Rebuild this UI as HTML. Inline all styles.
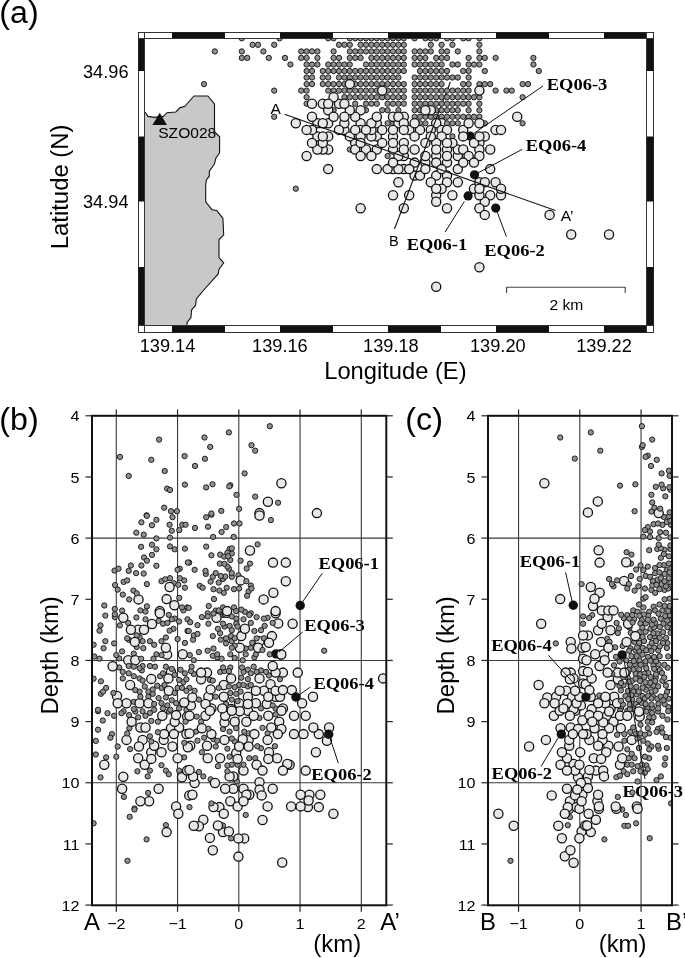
<!DOCTYPE html>
<html><head><meta charset="utf-8"><style>
html,body{margin:0;padding:0;background:#fff;}
body{width:685px;height:958px;overflow:hidden;font-family:"Liberation Sans",sans-serif;}
svg{display:block;will-change:transform;}
</style></head><body>
<svg width="685" height="958" viewBox="0 0 685 958" fill="#000">
<defs>
<clipPath id="clipa"><rect x="145" y="39" width="502" height="287"/></clipPath>
<clipPath id="clipb"><rect x="92" y="415.8" width="294.3" height="489.5"/></clipPath>
<clipPath id="clipc"><rect x="488" y="415.8" width="184" height="489.5"/></clipPath>
</defs>
<text transform="translate(-0.7,23) scale(1.04,1)" font-size="31" text-anchor="start" font-family="Liberation Sans, sans-serif" >(a)</text>
<polygon points="145,112 148,116.4 153.9,117.4 163.4,116.4 167,112.7 175.8,112 180.1,107.6 184.5,106.6 188.2,102.5 194,96 207.9,96 214.5,104 214.5,131.7 219.6,136.8 219.6,152.9 215.9,158 214.5,163.8 211.5,168.2 209.3,171.1 209.3,176.2 206.4,179.9 205.7,185 205.7,201.9 212,209.7 216.7,210.5 222.9,218.3 223.7,234.8 219,239.5 219,257.5 223.7,262.9 219,269.2 218.2,273.9 204.2,289.5 196.3,298.9 195.6,305.2 191.6,309.9 190.9,317.7 187,322.4 187,326 145,326" fill="#c8c8c8" stroke="none"/>
<polyline points="145,112 148,116.4 153.9,117.4 163.4,116.4 167,112.7 175.8,112 180.1,107.6 184.5,106.6 188.2,102.5 194,96 207.9,96 214.5,104 214.5,131.7 219.6,136.8 219.6,152.9 215.9,158 214.5,163.8 211.5,168.2 209.3,171.1 209.3,176.2 206.4,179.9 205.7,185 205.7,201.9 212,209.7 216.7,210.5 222.9,218.3 223.7,234.8 219,239.5 219,257.5 223.7,262.9 219,269.2 218.2,273.9 204.2,289.5 196.3,298.9 195.6,305.2 191.6,309.9 190.9,317.7 187,322.4 187,326" fill="none" stroke="#111" stroke-width="1.1"/>
<line x1="439" y1="111.5" x2="450.4" y2="81.7" stroke="#111" stroke-width="1.1"/>
<circle cx="470.2" cy="136.2" r="4.6" fill="#111"/>
<g clip-path="url(#clipa)">
<circle cx="312.0" cy="71.0" r="2.65" fill="#909090" stroke="#1e1e1e" stroke-width="1.0"/>
<circle cx="382.2" cy="97.2" r="2.65" fill="#909090" stroke="#1e1e1e" stroke-width="1.0"/>
<circle cx="339.0" cy="64.5" r="2.65" fill="#909090" stroke="#1e1e1e" stroke-width="1.0"/>
<circle cx="387.6" cy="110.2" r="2.65" fill="#909090" stroke="#1e1e1e" stroke-width="1.0"/>
<circle cx="376.8" cy="90.6" r="2.65" fill="#909090" stroke="#1e1e1e" stroke-width="1.0"/>
<circle cx="452.4" cy="136.4" r="2.65" fill="#909090" stroke="#1e1e1e" stroke-width="1.0"/>
<circle cx="479.4" cy="116.8" r="2.65" fill="#909090" stroke="#1e1e1e" stroke-width="1.0"/>
<circle cx="366.0" cy="97.2" r="2.65" fill="#909090" stroke="#1e1e1e" stroke-width="1.0"/>
<circle cx="463.2" cy="116.8" r="2.65" fill="#909090" stroke="#1e1e1e" stroke-width="1.0"/>
<circle cx="414.6" cy="110.2" r="2.65" fill="#909090" stroke="#1e1e1e" stroke-width="1.0"/>
<circle cx="339.0" cy="57.9" r="2.65" fill="#909090" stroke="#1e1e1e" stroke-width="1.0"/>
<circle cx="447.0" cy="71.0" r="2.65" fill="#909090" stroke="#1e1e1e" stroke-width="1.0"/>
<circle cx="339.0" cy="71.0" r="2.65" fill="#909090" stroke="#1e1e1e" stroke-width="1.0"/>
<circle cx="306.6" cy="77.5" r="2.65" fill="#909090" stroke="#1e1e1e" stroke-width="1.0"/>
<circle cx="452.4" cy="77.5" r="2.65" fill="#909090" stroke="#1e1e1e" stroke-width="1.0"/>
<circle cx="447.0" cy="77.5" r="2.65" fill="#909090" stroke="#1e1e1e" stroke-width="1.0"/>
<circle cx="371.4" cy="38.3" r="2.65" fill="#909090" stroke="#1e1e1e" stroke-width="1.0"/>
<circle cx="382.2" cy="51.4" r="2.65" fill="#909090" stroke="#1e1e1e" stroke-width="1.0"/>
<circle cx="463.2" cy="38.3" r="2.65" fill="#909090" stroke="#1e1e1e" stroke-width="1.0"/>
<circle cx="306.6" cy="71.0" r="2.65" fill="#909090" stroke="#1e1e1e" stroke-width="1.0"/>
<circle cx="398.4" cy="64.5" r="2.65" fill="#909090" stroke="#1e1e1e" stroke-width="1.0"/>
<circle cx="349.8" cy="149.5" r="2.65" fill="#909090" stroke="#1e1e1e" stroke-width="1.0"/>
<circle cx="360.6" cy="38.3" r="2.65" fill="#909090" stroke="#1e1e1e" stroke-width="1.0"/>
<circle cx="371.4" cy="57.9" r="2.65" fill="#909090" stroke="#1e1e1e" stroke-width="1.0"/>
<circle cx="382.2" cy="44.8" r="2.65" fill="#909090" stroke="#1e1e1e" stroke-width="1.0"/>
<circle cx="241.8" cy="57.9" r="2.65" fill="#909090" stroke="#1e1e1e" stroke-width="1.0"/>
<circle cx="457.8" cy="64.5" r="2.65" fill="#909090" stroke="#1e1e1e" stroke-width="1.0"/>
<circle cx="376.8" cy="44.8" r="2.65" fill="#909090" stroke="#1e1e1e" stroke-width="1.0"/>
<circle cx="468.6" cy="64.5" r="2.65" fill="#909090" stroke="#1e1e1e" stroke-width="1.0"/>
<circle cx="382.2" cy="38.3" r="2.65" fill="#909090" stroke="#1e1e1e" stroke-width="1.0"/>
<circle cx="522.6" cy="123.3" r="2.65" fill="#909090" stroke="#1e1e1e" stroke-width="1.0"/>
<circle cx="333.6" cy="38.3" r="2.65" fill="#909090" stroke="#1e1e1e" stroke-width="1.0"/>
<circle cx="436.2" cy="103.7" r="2.65" fill="#909090" stroke="#1e1e1e" stroke-width="1.0"/>
<circle cx="447.0" cy="103.7" r="2.65" fill="#909090" stroke="#1e1e1e" stroke-width="1.0"/>
<circle cx="403.8" cy="57.9" r="2.65" fill="#909090" stroke="#1e1e1e" stroke-width="1.0"/>
<circle cx="403.8" cy="84.1" r="2.65" fill="#909090" stroke="#1e1e1e" stroke-width="1.0"/>
<circle cx="403.8" cy="71.0" r="2.65" fill="#909090" stroke="#1e1e1e" stroke-width="1.0"/>
<circle cx="387.6" cy="38.3" r="2.65" fill="#909090" stroke="#1e1e1e" stroke-width="1.0"/>
<circle cx="328.2" cy="71.0" r="2.65" fill="#909090" stroke="#1e1e1e" stroke-width="1.0"/>
<circle cx="420.0" cy="71.0" r="2.65" fill="#909090" stroke="#1e1e1e" stroke-width="1.0"/>
<circle cx="441.6" cy="64.5" r="2.65" fill="#909090" stroke="#1e1e1e" stroke-width="1.0"/>
<circle cx="436.2" cy="97.2" r="2.65" fill="#909090" stroke="#1e1e1e" stroke-width="1.0"/>
<circle cx="360.6" cy="57.9" r="2.65" fill="#909090" stroke="#1e1e1e" stroke-width="1.0"/>
<circle cx="258.0" cy="44.8" r="2.65" fill="#909090" stroke="#1e1e1e" stroke-width="1.0"/>
<circle cx="355.2" cy="51.4" r="2.65" fill="#909090" stroke="#1e1e1e" stroke-width="1.0"/>
<circle cx="425.4" cy="103.7" r="2.65" fill="#909090" stroke="#1e1e1e" stroke-width="1.0"/>
<circle cx="376.8" cy="71.0" r="2.65" fill="#909090" stroke="#1e1e1e" stroke-width="1.0"/>
<circle cx="403.8" cy="38.3" r="2.65" fill="#909090" stroke="#1e1e1e" stroke-width="1.0"/>
<circle cx="301.2" cy="90.6" r="2.65" fill="#909090" stroke="#1e1e1e" stroke-width="1.0"/>
<circle cx="382.2" cy="57.9" r="2.65" fill="#909090" stroke="#1e1e1e" stroke-width="1.0"/>
<circle cx="371.4" cy="90.6" r="2.65" fill="#909090" stroke="#1e1e1e" stroke-width="1.0"/>
<circle cx="463.2" cy="90.6" r="2.65" fill="#909090" stroke="#1e1e1e" stroke-width="1.0"/>
<circle cx="420.0" cy="103.7" r="2.65" fill="#909090" stroke="#1e1e1e" stroke-width="1.0"/>
<circle cx="252.6" cy="44.8" r="2.65" fill="#909090" stroke="#1e1e1e" stroke-width="1.0"/>
<circle cx="339.0" cy="90.6" r="2.65" fill="#909090" stroke="#1e1e1e" stroke-width="1.0"/>
<circle cx="484.8" cy="71.0" r="2.65" fill="#909090" stroke="#1e1e1e" stroke-width="1.0"/>
<circle cx="355.2" cy="71.0" r="2.65" fill="#909090" stroke="#1e1e1e" stroke-width="1.0"/>
<circle cx="457.8" cy="123.3" r="2.65" fill="#909090" stroke="#1e1e1e" stroke-width="1.0"/>
<circle cx="279.6" cy="38.3" r="2.65" fill="#909090" stroke="#1e1e1e" stroke-width="1.0"/>
<circle cx="533.4" cy="57.9" r="2.65" fill="#909090" stroke="#1e1e1e" stroke-width="1.0"/>
<circle cx="306.6" cy="90.6" r="2.65" fill="#909090" stroke="#1e1e1e" stroke-width="1.0"/>
<circle cx="322.8" cy="71.0" r="2.65" fill="#909090" stroke="#1e1e1e" stroke-width="1.0"/>
<circle cx="371.4" cy="51.4" r="2.65" fill="#909090" stroke="#1e1e1e" stroke-width="1.0"/>
<circle cx="468.6" cy="103.7" r="2.65" fill="#909090" stroke="#1e1e1e" stroke-width="1.0"/>
<circle cx="441.6" cy="71.0" r="2.65" fill="#909090" stroke="#1e1e1e" stroke-width="1.0"/>
<circle cx="425.4" cy="116.8" r="2.65" fill="#909090" stroke="#1e1e1e" stroke-width="1.0"/>
<circle cx="479.4" cy="64.5" r="2.65" fill="#909090" stroke="#1e1e1e" stroke-width="1.0"/>
<circle cx="355.2" cy="77.5" r="2.65" fill="#909090" stroke="#1e1e1e" stroke-width="1.0"/>
<circle cx="355.2" cy="57.9" r="2.65" fill="#909090" stroke="#1e1e1e" stroke-width="1.0"/>
<circle cx="274.2" cy="90.6" r="2.65" fill="#909090" stroke="#1e1e1e" stroke-width="1.0"/>
<circle cx="393.0" cy="97.2" r="2.65" fill="#909090" stroke="#1e1e1e" stroke-width="1.0"/>
<circle cx="290.4" cy="64.5" r="2.65" fill="#909090" stroke="#1e1e1e" stroke-width="1.0"/>
<circle cx="441.6" cy="84.1" r="2.65" fill="#909090" stroke="#1e1e1e" stroke-width="1.0"/>
<circle cx="344.4" cy="44.8" r="2.65" fill="#909090" stroke="#1e1e1e" stroke-width="1.0"/>
<circle cx="376.8" cy="97.2" r="2.65" fill="#909090" stroke="#1e1e1e" stroke-width="1.0"/>
<circle cx="447.0" cy="116.8" r="2.65" fill="#909090" stroke="#1e1e1e" stroke-width="1.0"/>
<circle cx="366.0" cy="84.1" r="2.65" fill="#909090" stroke="#1e1e1e" stroke-width="1.0"/>
<circle cx="366.0" cy="110.2" r="2.65" fill="#909090" stroke="#1e1e1e" stroke-width="1.0"/>
<circle cx="371.4" cy="84.1" r="2.65" fill="#909090" stroke="#1e1e1e" stroke-width="1.0"/>
<circle cx="387.6" cy="44.8" r="2.65" fill="#909090" stroke="#1e1e1e" stroke-width="1.0"/>
<circle cx="474.0" cy="64.5" r="2.65" fill="#909090" stroke="#1e1e1e" stroke-width="1.0"/>
<circle cx="425.4" cy="90.6" r="2.65" fill="#909090" stroke="#1e1e1e" stroke-width="1.0"/>
<circle cx="355.2" cy="84.1" r="2.65" fill="#909090" stroke="#1e1e1e" stroke-width="1.0"/>
<circle cx="382.2" cy="77.5" r="2.65" fill="#909090" stroke="#1e1e1e" stroke-width="1.0"/>
<circle cx="414.6" cy="38.3" r="2.65" fill="#909090" stroke="#1e1e1e" stroke-width="1.0"/>
<circle cx="430.8" cy="77.5" r="2.65" fill="#909090" stroke="#1e1e1e" stroke-width="1.0"/>
<circle cx="360.6" cy="84.1" r="2.65" fill="#909090" stroke="#1e1e1e" stroke-width="1.0"/>
<circle cx="306.6" cy="64.5" r="2.65" fill="#909090" stroke="#1e1e1e" stroke-width="1.0"/>
<circle cx="436.2" cy="110.2" r="2.65" fill="#909090" stroke="#1e1e1e" stroke-width="1.0"/>
<circle cx="312.0" cy="64.5" r="2.65" fill="#909090" stroke="#1e1e1e" stroke-width="1.0"/>
<circle cx="441.6" cy="90.6" r="2.65" fill="#909090" stroke="#1e1e1e" stroke-width="1.0"/>
<circle cx="441.6" cy="103.7" r="2.65" fill="#909090" stroke="#1e1e1e" stroke-width="1.0"/>
<circle cx="263.4" cy="51.4" r="2.65" fill="#909090" stroke="#1e1e1e" stroke-width="1.0"/>
<circle cx="387.6" cy="57.9" r="2.65" fill="#909090" stroke="#1e1e1e" stroke-width="1.0"/>
<circle cx="447.0" cy="97.2" r="2.65" fill="#909090" stroke="#1e1e1e" stroke-width="1.0"/>
<circle cx="430.8" cy="90.6" r="2.65" fill="#909090" stroke="#1e1e1e" stroke-width="1.0"/>
<circle cx="360.6" cy="71.0" r="2.65" fill="#909090" stroke="#1e1e1e" stroke-width="1.0"/>
<circle cx="452.4" cy="123.3" r="2.65" fill="#909090" stroke="#1e1e1e" stroke-width="1.0"/>
<circle cx="468.6" cy="77.5" r="2.65" fill="#909090" stroke="#1e1e1e" stroke-width="1.0"/>
<circle cx="452.4" cy="90.6" r="2.65" fill="#909090" stroke="#1e1e1e" stroke-width="1.0"/>
<circle cx="344.4" cy="77.5" r="2.65" fill="#909090" stroke="#1e1e1e" stroke-width="1.0"/>
<circle cx="333.6" cy="64.5" r="2.65" fill="#909090" stroke="#1e1e1e" stroke-width="1.0"/>
<circle cx="387.6" cy="156.0" r="2.65" fill="#909090" stroke="#1e1e1e" stroke-width="1.0"/>
<circle cx="398.4" cy="110.2" r="2.65" fill="#909090" stroke="#1e1e1e" stroke-width="1.0"/>
<circle cx="430.8" cy="71.0" r="2.65" fill="#909090" stroke="#1e1e1e" stroke-width="1.0"/>
<circle cx="452.4" cy="97.2" r="2.65" fill="#909090" stroke="#1e1e1e" stroke-width="1.0"/>
<circle cx="447.0" cy="57.9" r="2.65" fill="#909090" stroke="#1e1e1e" stroke-width="1.0"/>
<circle cx="457.8" cy="77.5" r="2.65" fill="#909090" stroke="#1e1e1e" stroke-width="1.0"/>
<circle cx="306.6" cy="57.9" r="2.65" fill="#909090" stroke="#1e1e1e" stroke-width="1.0"/>
<circle cx="333.6" cy="51.4" r="2.65" fill="#909090" stroke="#1e1e1e" stroke-width="1.0"/>
<circle cx="479.4" cy="38.3" r="2.65" fill="#909090" stroke="#1e1e1e" stroke-width="1.0"/>
<circle cx="436.2" cy="90.6" r="2.65" fill="#909090" stroke="#1e1e1e" stroke-width="1.0"/>
<circle cx="452.4" cy="44.8" r="2.65" fill="#909090" stroke="#1e1e1e" stroke-width="1.0"/>
<circle cx="420.0" cy="110.2" r="2.65" fill="#909090" stroke="#1e1e1e" stroke-width="1.0"/>
<circle cx="274.2" cy="44.8" r="2.65" fill="#909090" stroke="#1e1e1e" stroke-width="1.0"/>
<circle cx="414.6" cy="51.4" r="2.65" fill="#909090" stroke="#1e1e1e" stroke-width="1.0"/>
<circle cx="403.8" cy="44.8" r="2.65" fill="#909090" stroke="#1e1e1e" stroke-width="1.0"/>
<circle cx="452.4" cy="116.8" r="2.65" fill="#909090" stroke="#1e1e1e" stroke-width="1.0"/>
<circle cx="241.8" cy="38.3" r="2.65" fill="#909090" stroke="#1e1e1e" stroke-width="1.0"/>
<circle cx="414.6" cy="97.2" r="2.65" fill="#909090" stroke="#1e1e1e" stroke-width="1.0"/>
<circle cx="376.8" cy="77.5" r="2.65" fill="#909090" stroke="#1e1e1e" stroke-width="1.0"/>
<circle cx="468.6" cy="84.1" r="2.65" fill="#909090" stroke="#1e1e1e" stroke-width="1.0"/>
<circle cx="441.6" cy="116.8" r="2.65" fill="#909090" stroke="#1e1e1e" stroke-width="1.0"/>
<circle cx="533.4" cy="64.5" r="2.65" fill="#909090" stroke="#1e1e1e" stroke-width="1.0"/>
<circle cx="425.4" cy="71.0" r="2.65" fill="#909090" stroke="#1e1e1e" stroke-width="1.0"/>
<circle cx="366.0" cy="71.0" r="2.65" fill="#909090" stroke="#1e1e1e" stroke-width="1.0"/>
<circle cx="360.6" cy="90.6" r="2.65" fill="#909090" stroke="#1e1e1e" stroke-width="1.0"/>
<circle cx="495.6" cy="90.6" r="2.65" fill="#909090" stroke="#1e1e1e" stroke-width="1.0"/>
<circle cx="441.6" cy="77.5" r="2.65" fill="#909090" stroke="#1e1e1e" stroke-width="1.0"/>
<circle cx="479.4" cy="57.9" r="2.65" fill="#909090" stroke="#1e1e1e" stroke-width="1.0"/>
<circle cx="333.6" cy="71.0" r="2.65" fill="#909090" stroke="#1e1e1e" stroke-width="1.0"/>
<circle cx="371.4" cy="71.0" r="2.65" fill="#909090" stroke="#1e1e1e" stroke-width="1.0"/>
<circle cx="344.4" cy="84.1" r="2.65" fill="#909090" stroke="#1e1e1e" stroke-width="1.0"/>
<circle cx="355.2" cy="38.3" r="2.65" fill="#909090" stroke="#1e1e1e" stroke-width="1.0"/>
<circle cx="349.8" cy="77.5" r="2.65" fill="#909090" stroke="#1e1e1e" stroke-width="1.0"/>
<circle cx="349.8" cy="64.5" r="2.65" fill="#909090" stroke="#1e1e1e" stroke-width="1.0"/>
<circle cx="366.0" cy="44.8" r="2.65" fill="#909090" stroke="#1e1e1e" stroke-width="1.0"/>
<circle cx="317.4" cy="57.9" r="2.65" fill="#909090" stroke="#1e1e1e" stroke-width="1.0"/>
<circle cx="393.0" cy="57.9" r="2.65" fill="#909090" stroke="#1e1e1e" stroke-width="1.0"/>
<circle cx="430.8" cy="64.5" r="2.65" fill="#909090" stroke="#1e1e1e" stroke-width="1.0"/>
<circle cx="490.2" cy="84.1" r="2.65" fill="#909090" stroke="#1e1e1e" stroke-width="1.0"/>
<circle cx="447.0" cy="38.3" r="2.65" fill="#909090" stroke="#1e1e1e" stroke-width="1.0"/>
<circle cx="436.2" cy="64.5" r="2.65" fill="#909090" stroke="#1e1e1e" stroke-width="1.0"/>
<circle cx="522.6" cy="84.1" r="2.65" fill="#909090" stroke="#1e1e1e" stroke-width="1.0"/>
<circle cx="468.6" cy="57.9" r="2.65" fill="#909090" stroke="#1e1e1e" stroke-width="1.0"/>
<circle cx="360.6" cy="51.4" r="2.65" fill="#909090" stroke="#1e1e1e" stroke-width="1.0"/>
<circle cx="344.4" cy="64.5" r="2.65" fill="#909090" stroke="#1e1e1e" stroke-width="1.0"/>
<circle cx="457.8" cy="90.6" r="2.65" fill="#909090" stroke="#1e1e1e" stroke-width="1.0"/>
<circle cx="306.6" cy="97.2" r="2.65" fill="#909090" stroke="#1e1e1e" stroke-width="1.0"/>
<circle cx="420.0" cy="123.3" r="2.65" fill="#909090" stroke="#1e1e1e" stroke-width="1.0"/>
<circle cx="393.0" cy="38.3" r="2.65" fill="#909090" stroke="#1e1e1e" stroke-width="1.0"/>
<circle cx="398.4" cy="44.8" r="2.65" fill="#909090" stroke="#1e1e1e" stroke-width="1.0"/>
<circle cx="430.8" cy="116.8" r="2.65" fill="#909090" stroke="#1e1e1e" stroke-width="1.0"/>
<circle cx="376.8" cy="38.3" r="2.65" fill="#909090" stroke="#1e1e1e" stroke-width="1.0"/>
<circle cx="403.8" cy="90.6" r="2.65" fill="#909090" stroke="#1e1e1e" stroke-width="1.0"/>
<circle cx="371.4" cy="97.2" r="2.65" fill="#909090" stroke="#1e1e1e" stroke-width="1.0"/>
<circle cx="474.0" cy="116.8" r="2.65" fill="#909090" stroke="#1e1e1e" stroke-width="1.0"/>
<circle cx="430.8" cy="103.7" r="2.65" fill="#909090" stroke="#1e1e1e" stroke-width="1.0"/>
<circle cx="522.6" cy="97.2" r="2.65" fill="#909090" stroke="#1e1e1e" stroke-width="1.0"/>
<circle cx="322.8" cy="84.1" r="2.65" fill="#909090" stroke="#1e1e1e" stroke-width="1.0"/>
<circle cx="414.6" cy="57.9" r="2.65" fill="#909090" stroke="#1e1e1e" stroke-width="1.0"/>
<circle cx="376.8" cy="103.7" r="2.65" fill="#909090" stroke="#1e1e1e" stroke-width="1.0"/>
<circle cx="441.6" cy="44.8" r="2.65" fill="#909090" stroke="#1e1e1e" stroke-width="1.0"/>
<circle cx="441.6" cy="51.4" r="2.65" fill="#909090" stroke="#1e1e1e" stroke-width="1.0"/>
<circle cx="349.8" cy="57.9" r="2.65" fill="#909090" stroke="#1e1e1e" stroke-width="1.0"/>
<circle cx="393.0" cy="71.0" r="2.65" fill="#909090" stroke="#1e1e1e" stroke-width="1.0"/>
<circle cx="398.4" cy="97.2" r="2.65" fill="#909090" stroke="#1e1e1e" stroke-width="1.0"/>
<circle cx="479.4" cy="51.4" r="2.65" fill="#909090" stroke="#1e1e1e" stroke-width="1.0"/>
<circle cx="436.2" cy="84.1" r="2.65" fill="#909090" stroke="#1e1e1e" stroke-width="1.0"/>
<circle cx="393.0" cy="103.7" r="2.65" fill="#909090" stroke="#1e1e1e" stroke-width="1.0"/>
<circle cx="393.0" cy="84.1" r="2.65" fill="#909090" stroke="#1e1e1e" stroke-width="1.0"/>
<circle cx="398.4" cy="71.0" r="2.65" fill="#909090" stroke="#1e1e1e" stroke-width="1.0"/>
<circle cx="317.4" cy="64.5" r="2.65" fill="#909090" stroke="#1e1e1e" stroke-width="1.0"/>
<circle cx="376.8" cy="51.4" r="2.65" fill="#909090" stroke="#1e1e1e" stroke-width="1.0"/>
<circle cx="349.8" cy="97.2" r="2.65" fill="#909090" stroke="#1e1e1e" stroke-width="1.0"/>
<circle cx="333.6" cy="110.2" r="2.65" fill="#909090" stroke="#1e1e1e" stroke-width="1.0"/>
<circle cx="295.8" cy="188.7" r="2.65" fill="#909090" stroke="#1e1e1e" stroke-width="1.0"/>
<circle cx="382.2" cy="110.2" r="2.65" fill="#909090" stroke="#1e1e1e" stroke-width="1.0"/>
<circle cx="355.2" cy="103.7" r="2.65" fill="#909090" stroke="#1e1e1e" stroke-width="1.0"/>
<circle cx="366.0" cy="38.3" r="2.65" fill="#909090" stroke="#1e1e1e" stroke-width="1.0"/>
<circle cx="463.2" cy="97.2" r="2.65" fill="#909090" stroke="#1e1e1e" stroke-width="1.0"/>
<circle cx="366.0" cy="103.7" r="2.65" fill="#909090" stroke="#1e1e1e" stroke-width="1.0"/>
<circle cx="382.2" cy="64.5" r="2.65" fill="#909090" stroke="#1e1e1e" stroke-width="1.0"/>
<circle cx="436.2" cy="116.8" r="2.65" fill="#909090" stroke="#1e1e1e" stroke-width="1.0"/>
<circle cx="436.2" cy="77.5" r="2.65" fill="#909090" stroke="#1e1e1e" stroke-width="1.0"/>
<circle cx="420.0" cy="97.2" r="2.65" fill="#909090" stroke="#1e1e1e" stroke-width="1.0"/>
<circle cx="360.6" cy="97.2" r="2.65" fill="#909090" stroke="#1e1e1e" stroke-width="1.0"/>
<circle cx="306.6" cy="51.4" r="2.65" fill="#909090" stroke="#1e1e1e" stroke-width="1.0"/>
<circle cx="398.4" cy="90.6" r="2.65" fill="#909090" stroke="#1e1e1e" stroke-width="1.0"/>
<circle cx="312.0" cy="77.5" r="2.65" fill="#909090" stroke="#1e1e1e" stroke-width="1.0"/>
<circle cx="468.6" cy="71.0" r="2.65" fill="#909090" stroke="#1e1e1e" stroke-width="1.0"/>
<circle cx="447.0" cy="110.2" r="2.65" fill="#909090" stroke="#1e1e1e" stroke-width="1.0"/>
<circle cx="355.2" cy="97.2" r="2.65" fill="#909090" stroke="#1e1e1e" stroke-width="1.0"/>
<circle cx="366.0" cy="77.5" r="2.65" fill="#909090" stroke="#1e1e1e" stroke-width="1.0"/>
<circle cx="387.6" cy="103.7" r="2.65" fill="#909090" stroke="#1e1e1e" stroke-width="1.0"/>
<circle cx="349.8" cy="38.3" r="2.65" fill="#909090" stroke="#1e1e1e" stroke-width="1.0"/>
<circle cx="538.8" cy="71.0" r="2.65" fill="#909090" stroke="#1e1e1e" stroke-width="1.0"/>
<circle cx="371.4" cy="44.8" r="2.65" fill="#909090" stroke="#1e1e1e" stroke-width="1.0"/>
<circle cx="366.0" cy="90.6" r="2.65" fill="#909090" stroke="#1e1e1e" stroke-width="1.0"/>
<circle cx="420.0" cy="57.9" r="2.65" fill="#909090" stroke="#1e1e1e" stroke-width="1.0"/>
<circle cx="468.6" cy="116.8" r="2.65" fill="#909090" stroke="#1e1e1e" stroke-width="1.0"/>
<circle cx="425.4" cy="97.2" r="2.65" fill="#909090" stroke="#1e1e1e" stroke-width="1.0"/>
<circle cx="403.8" cy="97.2" r="2.65" fill="#909090" stroke="#1e1e1e" stroke-width="1.0"/>
<circle cx="441.6" cy="97.2" r="2.65" fill="#909090" stroke="#1e1e1e" stroke-width="1.0"/>
<circle cx="468.6" cy="97.2" r="2.65" fill="#909090" stroke="#1e1e1e" stroke-width="1.0"/>
<circle cx="366.0" cy="64.5" r="2.65" fill="#909090" stroke="#1e1e1e" stroke-width="1.0"/>
<circle cx="398.4" cy="51.4" r="2.65" fill="#909090" stroke="#1e1e1e" stroke-width="1.0"/>
<circle cx="301.2" cy="51.4" r="2.65" fill="#909090" stroke="#1e1e1e" stroke-width="1.0"/>
<circle cx="436.2" cy="38.3" r="2.65" fill="#909090" stroke="#1e1e1e" stroke-width="1.0"/>
<circle cx="430.8" cy="51.4" r="2.65" fill="#909090" stroke="#1e1e1e" stroke-width="1.0"/>
<circle cx="349.8" cy="44.8" r="2.65" fill="#909090" stroke="#1e1e1e" stroke-width="1.0"/>
<circle cx="506.4" cy="90.6" r="2.65" fill="#909090" stroke="#1e1e1e" stroke-width="1.0"/>
<circle cx="430.8" cy="44.8" r="2.65" fill="#909090" stroke="#1e1e1e" stroke-width="1.0"/>
<circle cx="441.6" cy="110.2" r="2.65" fill="#909090" stroke="#1e1e1e" stroke-width="1.0"/>
<circle cx="447.0" cy="90.6" r="2.65" fill="#909090" stroke="#1e1e1e" stroke-width="1.0"/>
<circle cx="328.2" cy="64.5" r="2.65" fill="#909090" stroke="#1e1e1e" stroke-width="1.0"/>
<circle cx="425.4" cy="51.4" r="2.65" fill="#909090" stroke="#1e1e1e" stroke-width="1.0"/>
<circle cx="306.6" cy="103.7" r="2.65" fill="#909090" stroke="#1e1e1e" stroke-width="1.0"/>
<circle cx="349.8" cy="71.0" r="2.65" fill="#909090" stroke="#1e1e1e" stroke-width="1.0"/>
<circle cx="387.6" cy="64.5" r="2.65" fill="#909090" stroke="#1e1e1e" stroke-width="1.0"/>
<circle cx="376.8" cy="84.1" r="2.65" fill="#909090" stroke="#1e1e1e" stroke-width="1.0"/>
<circle cx="425.4" cy="38.3" r="2.65" fill="#909090" stroke="#1e1e1e" stroke-width="1.0"/>
<circle cx="452.4" cy="64.5" r="2.65" fill="#909090" stroke="#1e1e1e" stroke-width="1.0"/>
<circle cx="360.6" cy="44.8" r="2.65" fill="#909090" stroke="#1e1e1e" stroke-width="1.0"/>
<circle cx="268.8" cy="57.9" r="2.65" fill="#909090" stroke="#1e1e1e" stroke-width="1.0"/>
<circle cx="393.0" cy="90.6" r="2.65" fill="#909090" stroke="#1e1e1e" stroke-width="1.0"/>
<circle cx="328.2" cy="38.3" r="2.65" fill="#909090" stroke="#1e1e1e" stroke-width="1.0"/>
<circle cx="398.4" cy="84.1" r="2.65" fill="#909090" stroke="#1e1e1e" stroke-width="1.0"/>
<circle cx="355.2" cy="90.6" r="2.65" fill="#909090" stroke="#1e1e1e" stroke-width="1.0"/>
<circle cx="457.8" cy="110.2" r="2.65" fill="#909090" stroke="#1e1e1e" stroke-width="1.0"/>
<circle cx="274.2" cy="116.8" r="2.65" fill="#909090" stroke="#1e1e1e" stroke-width="1.0"/>
<circle cx="414.6" cy="84.1" r="2.65" fill="#909090" stroke="#1e1e1e" stroke-width="1.0"/>
<circle cx="214.8" cy="51.4" r="2.65" fill="#909090" stroke="#1e1e1e" stroke-width="1.0"/>
<circle cx="387.6" cy="51.4" r="2.65" fill="#909090" stroke="#1e1e1e" stroke-width="1.0"/>
<circle cx="333.6" cy="57.9" r="2.65" fill="#909090" stroke="#1e1e1e" stroke-width="1.0"/>
<circle cx="452.4" cy="103.7" r="2.65" fill="#909090" stroke="#1e1e1e" stroke-width="1.0"/>
<circle cx="393.0" cy="64.5" r="2.65" fill="#909090" stroke="#1e1e1e" stroke-width="1.0"/>
<circle cx="393.0" cy="44.8" r="2.65" fill="#909090" stroke="#1e1e1e" stroke-width="1.0"/>
<circle cx="376.8" cy="64.5" r="2.65" fill="#909090" stroke="#1e1e1e" stroke-width="1.0"/>
<circle cx="306.6" cy="84.1" r="2.65" fill="#909090" stroke="#1e1e1e" stroke-width="1.0"/>
<circle cx="371.4" cy="103.7" r="2.65" fill="#909090" stroke="#1e1e1e" stroke-width="1.0"/>
<circle cx="420.0" cy="51.4" r="2.65" fill="#909090" stroke="#1e1e1e" stroke-width="1.0"/>
<circle cx="339.0" cy="77.5" r="2.65" fill="#909090" stroke="#1e1e1e" stroke-width="1.0"/>
<circle cx="241.8" cy="51.4" r="2.65" fill="#909090" stroke="#1e1e1e" stroke-width="1.0"/>
<circle cx="457.8" cy="156.0" r="4.6" fill="#e8e8e8" stroke="#111" stroke-width="1.3"/>
<circle cx="247.2" cy="57.9" r="2.65" fill="#909090" stroke="#1e1e1e" stroke-width="1.0"/>
<circle cx="474.0" cy="188.7" r="4.6" fill="#e8e8e8" stroke="#111" stroke-width="1.3"/>
<circle cx="468.6" cy="110.2" r="2.65" fill="#909090" stroke="#1e1e1e" stroke-width="1.0"/>
<circle cx="479.4" cy="103.7" r="2.65" fill="#909090" stroke="#1e1e1e" stroke-width="1.0"/>
<circle cx="376.8" cy="136.4" r="4.6" fill="#e8e8e8" stroke="#111" stroke-width="1.3"/>
<circle cx="457.8" cy="116.8" r="2.65" fill="#909090" stroke="#1e1e1e" stroke-width="1.0"/>
<circle cx="204.0" cy="84.1" r="2.65" fill="#909090" stroke="#1e1e1e" stroke-width="1.0"/>
<circle cx="317.4" cy="51.4" r="2.65" fill="#909090" stroke="#1e1e1e" stroke-width="1.0"/>
<circle cx="447.0" cy="175.6" r="4.6" fill="#e8e8e8" stroke="#111" stroke-width="1.3"/>
<circle cx="360.6" cy="123.3" r="4.6" fill="#e8e8e8" stroke="#111" stroke-width="1.3"/>
<circle cx="425.4" cy="77.5" r="2.65" fill="#909090" stroke="#1e1e1e" stroke-width="1.0"/>
<circle cx="360.6" cy="110.2" r="4.6" fill="#e8e8e8" stroke="#111" stroke-width="1.3"/>
<circle cx="447.0" cy="162.6" r="4.6" fill="#e8e8e8" stroke="#111" stroke-width="1.3"/>
<circle cx="430.8" cy="84.1" r="2.65" fill="#909090" stroke="#1e1e1e" stroke-width="1.0"/>
<circle cx="463.2" cy="129.9" r="4.6" fill="#e8e8e8" stroke="#111" stroke-width="1.3"/>
<circle cx="452.4" cy="110.2" r="2.65" fill="#909090" stroke="#1e1e1e" stroke-width="1.0"/>
<circle cx="366.0" cy="51.4" r="2.65" fill="#909090" stroke="#1e1e1e" stroke-width="1.0"/>
<circle cx="441.6" cy="123.3" r="4.6" fill="#e8e8e8" stroke="#111" stroke-width="1.3"/>
<circle cx="474.0" cy="97.2" r="2.65" fill="#909090" stroke="#1e1e1e" stroke-width="1.0"/>
<circle cx="317.4" cy="123.3" r="4.6" fill="#e8e8e8" stroke="#111" stroke-width="1.3"/>
<circle cx="393.0" cy="51.4" r="2.65" fill="#909090" stroke="#1e1e1e" stroke-width="1.0"/>
<circle cx="436.2" cy="195.3" r="4.6" fill="#e8e8e8" stroke="#111" stroke-width="1.3"/>
<circle cx="360.6" cy="129.9" r="4.6" fill="#e8e8e8" stroke="#111" stroke-width="1.3"/>
<circle cx="376.8" cy="57.9" r="2.65" fill="#909090" stroke="#1e1e1e" stroke-width="1.0"/>
<circle cx="328.2" cy="149.5" r="4.6" fill="#e8e8e8" stroke="#111" stroke-width="1.3"/>
<circle cx="360.6" cy="77.5" r="2.65" fill="#909090" stroke="#1e1e1e" stroke-width="1.0"/>
<circle cx="457.8" cy="97.2" r="2.65" fill="#909090" stroke="#1e1e1e" stroke-width="1.0"/>
<circle cx="490.2" cy="195.3" r="4.6" fill="#e8e8e8" stroke="#111" stroke-width="1.3"/>
<circle cx="436.2" cy="286.8" r="4.6" fill="#e8e8e8" stroke="#111" stroke-width="1.3"/>
<circle cx="371.4" cy="77.5" r="2.65" fill="#909090" stroke="#1e1e1e" stroke-width="1.0"/>
<circle cx="414.6" cy="64.5" r="2.65" fill="#909090" stroke="#1e1e1e" stroke-width="1.0"/>
<circle cx="425.4" cy="84.1" r="2.65" fill="#909090" stroke="#1e1e1e" stroke-width="1.0"/>
<circle cx="344.4" cy="129.9" r="4.6" fill="#e8e8e8" stroke="#111" stroke-width="1.3"/>
<circle cx="457.8" cy="103.7" r="2.65" fill="#909090" stroke="#1e1e1e" stroke-width="1.0"/>
<circle cx="430.8" cy="97.2" r="2.65" fill="#909090" stroke="#1e1e1e" stroke-width="1.0"/>
<circle cx="393.0" cy="149.5" r="4.6" fill="#e8e8e8" stroke="#111" stroke-width="1.3"/>
<circle cx="393.0" cy="123.3" r="2.65" fill="#909090" stroke="#1e1e1e" stroke-width="1.0"/>
<circle cx="463.2" cy="84.1" r="2.65" fill="#909090" stroke="#1e1e1e" stroke-width="1.0"/>
<circle cx="436.2" cy="123.3" r="4.6" fill="#e8e8e8" stroke="#111" stroke-width="1.3"/>
<circle cx="328.2" cy="110.2" r="4.6" fill="#e8e8e8" stroke="#111" stroke-width="1.3"/>
<circle cx="479.4" cy="44.8" r="2.65" fill="#909090" stroke="#1e1e1e" stroke-width="1.0"/>
<circle cx="425.4" cy="64.5" r="2.65" fill="#909090" stroke="#1e1e1e" stroke-width="1.0"/>
<circle cx="387.6" cy="97.2" r="2.65" fill="#909090" stroke="#1e1e1e" stroke-width="1.0"/>
<circle cx="479.4" cy="84.1" r="2.65" fill="#909090" stroke="#1e1e1e" stroke-width="1.0"/>
<circle cx="328.2" cy="123.3" r="4.6" fill="#e8e8e8" stroke="#111" stroke-width="1.3"/>
<circle cx="447.0" cy="182.2" r="4.6" fill="#e8e8e8" stroke="#111" stroke-width="1.3"/>
<circle cx="414.6" cy="77.5" r="2.65" fill="#909090" stroke="#1e1e1e" stroke-width="1.0"/>
<circle cx="484.8" cy="136.4" r="4.6" fill="#e8e8e8" stroke="#111" stroke-width="1.3"/>
<circle cx="333.6" cy="90.6" r="2.65" fill="#909090" stroke="#1e1e1e" stroke-width="1.0"/>
<circle cx="441.6" cy="129.9" r="4.6" fill="#e8e8e8" stroke="#111" stroke-width="1.3"/>
<circle cx="387.6" cy="77.5" r="2.65" fill="#909090" stroke="#1e1e1e" stroke-width="1.0"/>
<circle cx="339.0" cy="44.8" r="2.65" fill="#909090" stroke="#1e1e1e" stroke-width="1.0"/>
<circle cx="420.0" cy="77.5" r="2.65" fill="#909090" stroke="#1e1e1e" stroke-width="1.0"/>
<circle cx="447.0" cy="123.3" r="2.65" fill="#909090" stroke="#1e1e1e" stroke-width="1.0"/>
<circle cx="436.2" cy="57.9" r="2.65" fill="#909090" stroke="#1e1e1e" stroke-width="1.0"/>
<circle cx="301.2" cy="57.9" r="2.65" fill="#909090" stroke="#1e1e1e" stroke-width="1.0"/>
<circle cx="420.0" cy="90.6" r="2.65" fill="#909090" stroke="#1e1e1e" stroke-width="1.0"/>
<circle cx="344.4" cy="90.6" r="2.65" fill="#909090" stroke="#1e1e1e" stroke-width="1.0"/>
<circle cx="398.4" cy="38.3" r="2.65" fill="#909090" stroke="#1e1e1e" stroke-width="1.0"/>
<circle cx="436.2" cy="71.0" r="2.65" fill="#909090" stroke="#1e1e1e" stroke-width="1.0"/>
<circle cx="414.6" cy="129.9" r="4.6" fill="#e8e8e8" stroke="#111" stroke-width="1.3"/>
<circle cx="398.4" cy="123.3" r="4.6" fill="#e8e8e8" stroke="#111" stroke-width="1.3"/>
<circle cx="322.8" cy="149.5" r="4.6" fill="#e8e8e8" stroke="#111" stroke-width="1.3"/>
<circle cx="420.0" cy="116.8" r="2.65" fill="#909090" stroke="#1e1e1e" stroke-width="1.0"/>
<circle cx="398.4" cy="182.2" r="4.6" fill="#e8e8e8" stroke="#111" stroke-width="1.3"/>
<circle cx="393.0" cy="169.1" r="4.6" fill="#e8e8e8" stroke="#111" stroke-width="1.3"/>
<circle cx="447.0" cy="51.4" r="2.65" fill="#909090" stroke="#1e1e1e" stroke-width="1.0"/>
<circle cx="414.6" cy="103.7" r="2.65" fill="#909090" stroke="#1e1e1e" stroke-width="1.0"/>
<circle cx="387.6" cy="84.1" r="2.65" fill="#909090" stroke="#1e1e1e" stroke-width="1.0"/>
<circle cx="312.0" cy="116.8" r="4.6" fill="#e8e8e8" stroke="#111" stroke-width="1.3"/>
<circle cx="382.2" cy="71.0" r="2.65" fill="#909090" stroke="#1e1e1e" stroke-width="1.0"/>
<circle cx="414.6" cy="162.6" r="4.6" fill="#e8e8e8" stroke="#111" stroke-width="1.3"/>
<circle cx="398.4" cy="77.5" r="2.65" fill="#909090" stroke="#1e1e1e" stroke-width="1.0"/>
<circle cx="490.2" cy="149.5" r="4.6" fill="#e8e8e8" stroke="#111" stroke-width="1.3"/>
<circle cx="468.6" cy="38.3" r="2.65" fill="#909090" stroke="#1e1e1e" stroke-width="1.0"/>
<circle cx="447.0" cy="129.9" r="4.6" fill="#e8e8e8" stroke="#111" stroke-width="1.3"/>
<circle cx="376.8" cy="149.5" r="4.6" fill="#e8e8e8" stroke="#111" stroke-width="1.3"/>
<circle cx="328.2" cy="77.5" r="2.65" fill="#909090" stroke="#1e1e1e" stroke-width="1.0"/>
<circle cx="441.6" cy="57.9" r="2.65" fill="#909090" stroke="#1e1e1e" stroke-width="1.0"/>
<circle cx="398.4" cy="57.9" r="2.65" fill="#909090" stroke="#1e1e1e" stroke-width="1.0"/>
<circle cx="414.6" cy="90.6" r="2.65" fill="#909090" stroke="#1e1e1e" stroke-width="1.0"/>
<circle cx="344.4" cy="71.0" r="2.65" fill="#909090" stroke="#1e1e1e" stroke-width="1.0"/>
<circle cx="420.0" cy="64.5" r="2.65" fill="#909090" stroke="#1e1e1e" stroke-width="1.0"/>
<circle cx="312.0" cy="51.4" r="2.65" fill="#909090" stroke="#1e1e1e" stroke-width="1.0"/>
<circle cx="403.8" cy="51.4" r="2.65" fill="#909090" stroke="#1e1e1e" stroke-width="1.0"/>
<circle cx="360.6" cy="136.4" r="4.6" fill="#e8e8e8" stroke="#111" stroke-width="1.3"/>
<circle cx="479.4" cy="110.2" r="2.65" fill="#909090" stroke="#1e1e1e" stroke-width="1.0"/>
<circle cx="425.4" cy="57.9" r="2.65" fill="#909090" stroke="#1e1e1e" stroke-width="1.0"/>
<circle cx="484.8" cy="57.9" r="2.65" fill="#909090" stroke="#1e1e1e" stroke-width="1.0"/>
<circle cx="441.6" cy="136.4" r="4.6" fill="#e8e8e8" stroke="#111" stroke-width="1.3"/>
<circle cx="463.2" cy="103.7" r="2.65" fill="#909090" stroke="#1e1e1e" stroke-width="1.0"/>
<circle cx="403.8" cy="64.5" r="2.65" fill="#909090" stroke="#1e1e1e" stroke-width="1.0"/>
<circle cx="382.2" cy="84.1" r="2.65" fill="#909090" stroke="#1e1e1e" stroke-width="1.0"/>
<circle cx="495.6" cy="129.9" r="4.6" fill="#e8e8e8" stroke="#111" stroke-width="1.3"/>
<circle cx="511.8" cy="90.6" r="2.65" fill="#909090" stroke="#1e1e1e" stroke-width="1.0"/>
<circle cx="328.2" cy="90.6" r="2.65" fill="#909090" stroke="#1e1e1e" stroke-width="1.0"/>
<circle cx="484.8" cy="201.8" r="4.6" fill="#e8e8e8" stroke="#111" stroke-width="1.3"/>
<circle cx="420.0" cy="84.1" r="2.65" fill="#909090" stroke="#1e1e1e" stroke-width="1.0"/>
<circle cx="468.6" cy="90.6" r="2.65" fill="#909090" stroke="#1e1e1e" stroke-width="1.0"/>
<circle cx="425.4" cy="123.3" r="2.65" fill="#909090" stroke="#1e1e1e" stroke-width="1.0"/>
<circle cx="479.4" cy="97.2" r="2.65" fill="#909090" stroke="#1e1e1e" stroke-width="1.0"/>
<circle cx="344.4" cy="97.2" r="2.65" fill="#909090" stroke="#1e1e1e" stroke-width="1.0"/>
<circle cx="484.8" cy="123.3" r="2.65" fill="#909090" stroke="#1e1e1e" stroke-width="1.0"/>
<circle cx="355.2" cy="116.8" r="4.6" fill="#e8e8e8" stroke="#111" stroke-width="1.3"/>
<circle cx="436.2" cy="175.6" r="4.6" fill="#e8e8e8" stroke="#111" stroke-width="1.3"/>
<circle cx="328.2" cy="84.1" r="2.65" fill="#909090" stroke="#1e1e1e" stroke-width="1.0"/>
<circle cx="430.8" cy="129.9" r="4.6" fill="#e8e8e8" stroke="#111" stroke-width="1.3"/>
<circle cx="398.4" cy="103.7" r="2.65" fill="#909090" stroke="#1e1e1e" stroke-width="1.0"/>
<circle cx="457.8" cy="149.5" r="4.6" fill="#e8e8e8" stroke="#111" stroke-width="1.3"/>
<circle cx="403.8" cy="103.7" r="2.65" fill="#909090" stroke="#1e1e1e" stroke-width="1.0"/>
<circle cx="403.8" cy="156.0" r="4.6" fill="#e8e8e8" stroke="#111" stroke-width="1.3"/>
<circle cx="457.8" cy="51.4" r="2.65" fill="#909090" stroke="#1e1e1e" stroke-width="1.0"/>
<circle cx="528.0" cy="84.1" r="2.65" fill="#909090" stroke="#1e1e1e" stroke-width="1.0"/>
<circle cx="430.8" cy="38.3" r="2.65" fill="#909090" stroke="#1e1e1e" stroke-width="1.0"/>
<circle cx="393.0" cy="136.4" r="4.6" fill="#e8e8e8" stroke="#111" stroke-width="1.3"/>
<circle cx="463.2" cy="71.0" r="2.65" fill="#909090" stroke="#1e1e1e" stroke-width="1.0"/>
<circle cx="479.4" cy="195.3" r="4.6" fill="#e8e8e8" stroke="#111" stroke-width="1.3"/>
<circle cx="371.4" cy="64.5" r="2.65" fill="#909090" stroke="#1e1e1e" stroke-width="1.0"/>
<circle cx="339.0" cy="84.1" r="2.65" fill="#909090" stroke="#1e1e1e" stroke-width="1.0"/>
<circle cx="366.0" cy="149.5" r="4.6" fill="#e8e8e8" stroke="#111" stroke-width="1.3"/>
<circle cx="312.0" cy="84.1" r="2.65" fill="#909090" stroke="#1e1e1e" stroke-width="1.0"/>
<circle cx="495.6" cy="57.9" r="2.65" fill="#909090" stroke="#1e1e1e" stroke-width="1.0"/>
<circle cx="339.0" cy="103.7" r="4.6" fill="#e8e8e8" stroke="#111" stroke-width="1.3"/>
<circle cx="501.0" cy="195.3" r="4.6" fill="#e8e8e8" stroke="#111" stroke-width="1.3"/>
<circle cx="344.4" cy="123.3" r="4.6" fill="#e8e8e8" stroke="#111" stroke-width="1.3"/>
<circle cx="409.2" cy="129.9" r="4.6" fill="#e8e8e8" stroke="#111" stroke-width="1.3"/>
<circle cx="376.8" cy="123.3" r="4.6" fill="#e8e8e8" stroke="#111" stroke-width="1.3"/>
<circle cx="387.6" cy="90.6" r="2.65" fill="#909090" stroke="#1e1e1e" stroke-width="1.0"/>
<circle cx="484.8" cy="84.1" r="2.65" fill="#909090" stroke="#1e1e1e" stroke-width="1.0"/>
<circle cx="452.4" cy="38.3" r="2.65" fill="#909090" stroke="#1e1e1e" stroke-width="1.0"/>
<circle cx="322.8" cy="77.5" r="2.65" fill="#909090" stroke="#1e1e1e" stroke-width="1.0"/>
<circle cx="349.8" cy="51.4" r="2.65" fill="#909090" stroke="#1e1e1e" stroke-width="1.0"/>
<circle cx="349.8" cy="90.6" r="2.65" fill="#909090" stroke="#1e1e1e" stroke-width="1.0"/>
<circle cx="447.0" cy="149.5" r="4.6" fill="#e8e8e8" stroke="#111" stroke-width="1.3"/>
<circle cx="393.0" cy="77.5" r="2.65" fill="#909090" stroke="#1e1e1e" stroke-width="1.0"/>
<circle cx="387.6" cy="123.3" r="2.65" fill="#909090" stroke="#1e1e1e" stroke-width="1.0"/>
<circle cx="333.6" cy="84.1" r="2.65" fill="#909090" stroke="#1e1e1e" stroke-width="1.0"/>
<circle cx="414.6" cy="116.8" r="2.65" fill="#909090" stroke="#1e1e1e" stroke-width="1.0"/>
<circle cx="328.2" cy="136.4" r="4.6" fill="#e8e8e8" stroke="#111" stroke-width="1.3"/>
<circle cx="463.2" cy="149.5" r="4.6" fill="#e8e8e8" stroke="#111" stroke-width="1.3"/>
<circle cx="285.0" cy="57.9" r="2.65" fill="#909090" stroke="#1e1e1e" stroke-width="1.0"/>
<circle cx="387.6" cy="71.0" r="2.65" fill="#909090" stroke="#1e1e1e" stroke-width="1.0"/>
<circle cx="317.4" cy="136.4" r="4.6" fill="#e8e8e8" stroke="#111" stroke-width="1.3"/>
<circle cx="436.2" cy="156.0" r="4.6" fill="#e8e8e8" stroke="#111" stroke-width="1.3"/>
<circle cx="501.0" cy="129.9" r="4.6" fill="#e8e8e8" stroke="#111" stroke-width="1.3"/>
<circle cx="430.8" cy="110.2" r="4.6" fill="#e8e8e8" stroke="#111" stroke-width="1.3"/>
<circle cx="403.8" cy="116.8" r="4.6" fill="#e8e8e8" stroke="#111" stroke-width="1.3"/>
<circle cx="382.2" cy="129.9" r="4.6" fill="#e8e8e8" stroke="#111" stroke-width="1.3"/>
<circle cx="436.2" cy="142.9" r="4.6" fill="#e8e8e8" stroke="#111" stroke-width="1.3"/>
<circle cx="371.4" cy="136.4" r="4.6" fill="#e8e8e8" stroke="#111" stroke-width="1.3"/>
<circle cx="317.4" cy="149.5" r="4.6" fill="#e8e8e8" stroke="#111" stroke-width="1.3"/>
<circle cx="447.0" cy="156.0" r="4.6" fill="#e8e8e8" stroke="#111" stroke-width="1.3"/>
<circle cx="430.8" cy="182.2" r="4.6" fill="#e8e8e8" stroke="#111" stroke-width="1.3"/>
<circle cx="468.6" cy="156.0" r="4.6" fill="#e8e8e8" stroke="#111" stroke-width="1.3"/>
<circle cx="479.4" cy="208.3" r="4.6" fill="#e8e8e8" stroke="#111" stroke-width="1.3"/>
<circle cx="425.4" cy="110.2" r="4.6" fill="#e8e8e8" stroke="#111" stroke-width="1.3"/>
<circle cx="382.2" cy="142.9" r="4.6" fill="#e8e8e8" stroke="#111" stroke-width="1.3"/>
<circle cx="393.0" cy="116.8" r="4.6" fill="#e8e8e8" stroke="#111" stroke-width="1.3"/>
<circle cx="349.8" cy="110.2" r="4.6" fill="#e8e8e8" stroke="#111" stroke-width="1.3"/>
<circle cx="479.4" cy="142.9" r="4.6" fill="#e8e8e8" stroke="#111" stroke-width="1.3"/>
<circle cx="479.4" cy="123.3" r="4.6" fill="#e8e8e8" stroke="#111" stroke-width="1.3"/>
<circle cx="322.8" cy="142.9" r="4.6" fill="#e8e8e8" stroke="#111" stroke-width="1.3"/>
<circle cx="306.6" cy="156.0" r="4.6" fill="#e8e8e8" stroke="#111" stroke-width="1.3"/>
<circle cx="371.4" cy="129.9" r="4.6" fill="#e8e8e8" stroke="#111" stroke-width="1.3"/>
<circle cx="479.4" cy="90.6" r="4.6" fill="#e8e8e8" stroke="#111" stroke-width="1.3"/>
<circle cx="479.4" cy="149.5" r="4.6" fill="#e8e8e8" stroke="#111" stroke-width="1.3"/>
<circle cx="479.4" cy="156.0" r="4.6" fill="#e8e8e8" stroke="#111" stroke-width="1.3"/>
<circle cx="463.2" cy="136.4" r="4.6" fill="#e8e8e8" stroke="#111" stroke-width="1.3"/>
<circle cx="484.8" cy="214.9" r="4.6" fill="#e8e8e8" stroke="#111" stroke-width="1.3"/>
<circle cx="398.4" cy="116.8" r="4.6" fill="#e8e8e8" stroke="#111" stroke-width="1.3"/>
<circle cx="441.6" cy="188.7" r="4.6" fill="#e8e8e8" stroke="#111" stroke-width="1.3"/>
<circle cx="447.0" cy="208.3" r="4.6" fill="#e8e8e8" stroke="#111" stroke-width="1.3"/>
<circle cx="355.2" cy="142.9" r="4.6" fill="#e8e8e8" stroke="#111" stroke-width="1.3"/>
<circle cx="349.8" cy="136.4" r="4.6" fill="#e8e8e8" stroke="#111" stroke-width="1.3"/>
<circle cx="403.8" cy="169.1" r="4.6" fill="#e8e8e8" stroke="#111" stroke-width="1.3"/>
<circle cx="393.0" cy="142.9" r="4.6" fill="#e8e8e8" stroke="#111" stroke-width="1.3"/>
<circle cx="295.8" cy="123.3" r="4.6" fill="#e8e8e8" stroke="#111" stroke-width="1.3"/>
<circle cx="398.4" cy="169.1" r="4.6" fill="#e8e8e8" stroke="#111" stroke-width="1.3"/>
<circle cx="420.0" cy="129.9" r="4.6" fill="#e8e8e8" stroke="#111" stroke-width="1.3"/>
<circle cx="393.0" cy="195.3" r="4.6" fill="#e8e8e8" stroke="#111" stroke-width="1.3"/>
<circle cx="398.4" cy="156.0" r="4.6" fill="#e8e8e8" stroke="#111" stroke-width="1.3"/>
<circle cx="430.8" cy="136.4" r="4.6" fill="#e8e8e8" stroke="#111" stroke-width="1.3"/>
<circle cx="393.0" cy="129.9" r="4.6" fill="#e8e8e8" stroke="#111" stroke-width="1.3"/>
<circle cx="479.4" cy="182.2" r="4.6" fill="#e8e8e8" stroke="#111" stroke-width="1.3"/>
<circle cx="344.4" cy="103.7" r="4.6" fill="#e8e8e8" stroke="#111" stroke-width="1.3"/>
<circle cx="403.8" cy="123.3" r="4.6" fill="#e8e8e8" stroke="#111" stroke-width="1.3"/>
<circle cx="457.8" cy="169.1" r="4.6" fill="#e8e8e8" stroke="#111" stroke-width="1.3"/>
<circle cx="609.0" cy="234.5" r="4.6" fill="#e8e8e8" stroke="#111" stroke-width="1.3"/>
<circle cx="517.2" cy="116.8" r="4.6" fill="#e8e8e8" stroke="#111" stroke-width="1.3"/>
<circle cx="495.6" cy="182.2" r="4.6" fill="#e8e8e8" stroke="#111" stroke-width="1.3"/>
<circle cx="328.2" cy="169.1" r="4.6" fill="#e8e8e8" stroke="#111" stroke-width="1.3"/>
<circle cx="484.8" cy="182.2" r="4.6" fill="#e8e8e8" stroke="#111" stroke-width="1.3"/>
<circle cx="312.0" cy="129.9" r="4.6" fill="#e8e8e8" stroke="#111" stroke-width="1.3"/>
<circle cx="474.0" cy="142.9" r="4.6" fill="#e8e8e8" stroke="#111" stroke-width="1.3"/>
<circle cx="479.4" cy="267.2" r="4.6" fill="#e8e8e8" stroke="#111" stroke-width="1.3"/>
<circle cx="436.2" cy="162.6" r="4.6" fill="#e8e8e8" stroke="#111" stroke-width="1.3"/>
<circle cx="409.2" cy="195.3" r="4.6" fill="#e8e8e8" stroke="#111" stroke-width="1.3"/>
<circle cx="436.2" cy="149.5" r="4.6" fill="#e8e8e8" stroke="#111" stroke-width="1.3"/>
<circle cx="436.2" cy="188.7" r="4.6" fill="#e8e8e8" stroke="#111" stroke-width="1.3"/>
<circle cx="414.6" cy="175.6" r="4.6" fill="#e8e8e8" stroke="#111" stroke-width="1.3"/>
<circle cx="549.6" cy="214.9" r="4.6" fill="#e8e8e8" stroke="#111" stroke-width="1.3"/>
<circle cx="403.8" cy="142.9" r="4.6" fill="#e8e8e8" stroke="#111" stroke-width="1.3"/>
<circle cx="468.6" cy="123.3" r="4.6" fill="#e8e8e8" stroke="#111" stroke-width="1.3"/>
<circle cx="420.0" cy="175.6" r="4.6" fill="#e8e8e8" stroke="#111" stroke-width="1.3"/>
<circle cx="312.0" cy="103.7" r="4.6" fill="#e8e8e8" stroke="#111" stroke-width="1.3"/>
<circle cx="414.6" cy="123.3" r="4.6" fill="#e8e8e8" stroke="#111" stroke-width="1.3"/>
<circle cx="452.4" cy="142.9" r="4.6" fill="#e8e8e8" stroke="#111" stroke-width="1.3"/>
<circle cx="425.4" cy="162.6" r="4.6" fill="#e8e8e8" stroke="#111" stroke-width="1.3"/>
<circle cx="333.6" cy="97.2" r="4.6" fill="#e8e8e8" stroke="#111" stroke-width="1.3"/>
<circle cx="436.2" cy="201.8" r="4.6" fill="#e8e8e8" stroke="#111" stroke-width="1.3"/>
<circle cx="414.6" cy="136.4" r="4.6" fill="#e8e8e8" stroke="#111" stroke-width="1.3"/>
<circle cx="376.8" cy="169.1" r="4.6" fill="#e8e8e8" stroke="#111" stroke-width="1.3"/>
<circle cx="452.4" cy="195.3" r="4.6" fill="#e8e8e8" stroke="#111" stroke-width="1.3"/>
<circle cx="360.6" cy="208.3" r="4.6" fill="#e8e8e8" stroke="#111" stroke-width="1.3"/>
<circle cx="355.2" cy="149.5" r="4.6" fill="#e8e8e8" stroke="#111" stroke-width="1.3"/>
<circle cx="501.0" cy="188.7" r="4.6" fill="#e8e8e8" stroke="#111" stroke-width="1.3"/>
<circle cx="322.8" cy="136.4" r="4.6" fill="#e8e8e8" stroke="#111" stroke-width="1.3"/>
<circle cx="571.2" cy="234.5" r="4.6" fill="#e8e8e8" stroke="#111" stroke-width="1.3"/>
<circle cx="371.4" cy="123.3" r="4.6" fill="#e8e8e8" stroke="#111" stroke-width="1.3"/>
<circle cx="479.4" cy="188.7" r="4.6" fill="#e8e8e8" stroke="#111" stroke-width="1.3"/>
<circle cx="349.8" cy="84.1" r="4.6" fill="#e8e8e8" stroke="#111" stroke-width="1.3"/>
<circle cx="339.0" cy="129.9" r="4.6" fill="#e8e8e8" stroke="#111" stroke-width="1.3"/>
<circle cx="425.4" cy="169.1" r="4.6" fill="#e8e8e8" stroke="#111" stroke-width="1.3"/>
<circle cx="387.6" cy="169.1" r="4.6" fill="#e8e8e8" stroke="#111" stroke-width="1.3"/>
<circle cx="312.0" cy="142.9" r="4.6" fill="#e8e8e8" stroke="#111" stroke-width="1.3"/>
<circle cx="441.6" cy="169.1" r="4.6" fill="#e8e8e8" stroke="#111" stroke-width="1.3"/>
<circle cx="447.0" cy="142.9" r="4.6" fill="#e8e8e8" stroke="#111" stroke-width="1.3"/>
<circle cx="360.6" cy="142.9" r="4.6" fill="#e8e8e8" stroke="#111" stroke-width="1.3"/>
<circle cx="409.2" cy="169.1" r="4.6" fill="#e8e8e8" stroke="#111" stroke-width="1.3"/>
<circle cx="463.2" cy="162.6" r="4.6" fill="#e8e8e8" stroke="#111" stroke-width="1.3"/>
<circle cx="457.8" cy="182.2" r="4.6" fill="#e8e8e8" stroke="#111" stroke-width="1.3"/>
<circle cx="403.8" cy="149.5" r="4.6" fill="#e8e8e8" stroke="#111" stroke-width="1.3"/>
<circle cx="355.2" cy="129.9" r="4.6" fill="#e8e8e8" stroke="#111" stroke-width="1.3"/>
<circle cx="366.0" cy="129.9" r="4.6" fill="#e8e8e8" stroke="#111" stroke-width="1.3"/>
<circle cx="414.6" cy="149.5" r="4.6" fill="#e8e8e8" stroke="#111" stroke-width="1.3"/>
<circle cx="322.8" cy="103.7" r="4.6" fill="#e8e8e8" stroke="#111" stroke-width="1.3"/>
<circle cx="333.6" cy="116.8" r="4.6" fill="#e8e8e8" stroke="#111" stroke-width="1.3"/>
<circle cx="474.0" cy="162.6" r="4.6" fill="#e8e8e8" stroke="#111" stroke-width="1.3"/>
<circle cx="490.2" cy="169.1" r="4.6" fill="#e8e8e8" stroke="#111" stroke-width="1.3"/>
<circle cx="403.8" cy="129.9" r="4.6" fill="#e8e8e8" stroke="#111" stroke-width="1.3"/>
<circle cx="382.2" cy="90.6" r="4.6" fill="#e8e8e8" stroke="#111" stroke-width="1.3"/>
<circle cx="479.4" cy="136.4" r="4.6" fill="#e8e8e8" stroke="#111" stroke-width="1.3"/>
<circle cx="306.6" cy="129.9" r="4.6" fill="#e8e8e8" stroke="#111" stroke-width="1.3"/>
<circle cx="328.2" cy="103.7" r="4.6" fill="#e8e8e8" stroke="#111" stroke-width="1.3"/>
<circle cx="376.8" cy="116.8" r="4.6" fill="#e8e8e8" stroke="#111" stroke-width="1.3"/>
<circle cx="360.6" cy="156.0" r="4.6" fill="#e8e8e8" stroke="#111" stroke-width="1.3"/>
<circle cx="425.4" cy="156.0" r="4.6" fill="#e8e8e8" stroke="#111" stroke-width="1.3"/>
<circle cx="344.4" cy="116.8" r="4.6" fill="#e8e8e8" stroke="#111" stroke-width="1.3"/>
<circle cx="322.8" cy="123.3" r="4.6" fill="#e8e8e8" stroke="#111" stroke-width="1.3"/>
<circle cx="371.4" cy="156.0" r="4.6" fill="#e8e8e8" stroke="#111" stroke-width="1.3"/>
<circle cx="403.8" cy="208.3" r="4.6" fill="#e8e8e8" stroke="#111" stroke-width="1.3"/>
<circle cx="425.4" cy="142.9" r="4.6" fill="#e8e8e8" stroke="#111" stroke-width="1.3"/>
<circle cx="393.0" cy="162.6" r="4.6" fill="#e8e8e8" stroke="#111" stroke-width="1.3"/>
</g>
<circle cx="474.5" cy="174.8" r="4.6" fill="#111"/>
<circle cx="468.1" cy="195.9" r="4.6" fill="#111"/>
<circle cx="495.7" cy="208.1" r="4.6" fill="#111"/>
<rect x="138.5" y="32.5" width="515" height="300" fill="none" stroke="#333" stroke-width="1"/>
<rect x="172" y="32.5" width="53" height="6" fill="#111"/>
<rect x="172" y="325.5" width="53" height="7" fill="#111"/>
<rect x="280" y="32.5" width="53" height="6" fill="#111"/>
<rect x="280" y="325.5" width="53" height="7" fill="#111"/>
<rect x="388" y="32.5" width="53" height="6" fill="#111"/>
<rect x="388" y="325.5" width="53" height="7" fill="#111"/>
<rect x="496" y="32.5" width="53" height="6" fill="#111"/>
<rect x="496" y="325.5" width="53" height="7" fill="#111"/>
<rect x="604" y="32.5" width="42.5" height="6" fill="#111"/>
<rect x="604" y="325.5" width="42.5" height="7" fill="#111"/>
<rect x="138.5" y="38.5" width="6" height="32.5" fill="#111"/>
<rect x="646.5" y="38.5" width="7" height="32.5" fill="#111"/>
<rect x="138.5" y="136.5" width="6" height="65.0" fill="#111"/>
<rect x="646.5" y="136.5" width="7" height="65.0" fill="#111"/>
<rect x="138.5" y="267" width="6" height="58.5" fill="#111"/>
<rect x="646.5" y="267" width="7" height="58.5" fill="#111"/>
<rect x="144.5" y="38.5" width="502" height="287" fill="none" stroke="#333" stroke-width="1"/>
<line x1="144.5" y1="32.5" x2="144.5" y2="38.5" stroke="#333" stroke-width="1"/>
<line x1="646.5" y1="32.5" x2="646.5" y2="38.5" stroke="#333" stroke-width="1"/>
<line x1="144.5" y1="325.5" x2="144.5" y2="332.5" stroke="#333" stroke-width="1"/>
<line x1="646.5" y1="325.5" x2="646.5" y2="332.5" stroke="#333" stroke-width="1"/>
<line x1="138.5" y1="38.5" x2="144.5" y2="38.5" stroke="#333" stroke-width="1"/>
<line x1="646.5" y1="38.5" x2="653.5" y2="38.5" stroke="#333" stroke-width="1"/>
<line x1="138.5" y1="325.5" x2="144.5" y2="325.5" stroke="#333" stroke-width="1"/>
<line x1="646.5" y1="325.5" x2="653.5" y2="325.5" stroke="#333" stroke-width="1"/>
<text transform="translate(128.5,78.3) scale(1.04,1)" font-size="17.5" text-anchor="end" font-family="Liberation Sans, sans-serif" >34.96</text>
<text transform="translate(128.5,207.6) scale(1.04,1)" font-size="17.5" text-anchor="end" font-family="Liberation Sans, sans-serif" >34.94</text>
<text transform="translate(167.5,351.8) scale(1.04,1)" font-size="17.5" text-anchor="middle" font-family="Liberation Sans, sans-serif" >139.14</text>
<text transform="translate(279.9,351.8) scale(1.04,1)" font-size="17.5" text-anchor="middle" font-family="Liberation Sans, sans-serif" >139.16</text>
<text transform="translate(390.9,351.8) scale(1.04,1)" font-size="17.5" text-anchor="middle" font-family="Liberation Sans, sans-serif" >139.18</text>
<text transform="translate(497.8,351.8) scale(1.04,1)" font-size="17.5" text-anchor="middle" font-family="Liberation Sans, sans-serif" >139.20</text>
<text transform="translate(604,351.8) scale(1.04,1)" font-size="17.5" text-anchor="middle" font-family="Liberation Sans, sans-serif" >139.22</text>
<text transform="translate(395.4,379) scale(1.031,1)" font-size="23" text-anchor="middle" font-family="Liberation Sans, sans-serif" >Longitude (E)</text>
<text transform="translate(67.5,186.9) rotate(-90) scale(1.04,1)" x="0" y="0" font-size="23" text-anchor="middle" font-family="Liberation Sans, sans-serif">Latitude (N)</text>
<polygon points="159.7,112.7 152.4,125.1 167,125.1" fill="#111"/>
<text transform="translate(158.2,138.3) scale(1.04,1)" font-size="15" text-anchor="start" font-family="Liberation Sans, sans-serif" >SZO028</text>
<line x1="284.6" y1="114.3" x2="555.5" y2="210.6" stroke="#111" stroke-width="1.1"/>
<line x1="394.5" y1="229" x2="439" y2="111.5" stroke="#111" stroke-width="1.1"/>
<text transform="translate(270.5,114.3) scale(1.04,1)" font-size="15" text-anchor="start" font-family="Liberation Sans, sans-serif" >A</text>
<text transform="translate(389,245.8) scale(1.04,1)" font-size="14" text-anchor="start" font-family="Liberation Sans, sans-serif" >B</text>
<text transform="translate(560.7,221.3) scale(1.04,1)" font-size="15" text-anchor="start" font-family="Liberation Sans, sans-serif" >A&#8217;</text>
<text transform="translate(546.8,89.7) scale(1.055,1)" font-size="17.5" text-anchor="start" font-family="Liberation Serif, serif" font-weight="bold" >EQ06-3</text>
<text transform="translate(525.8,150.6) scale(1.055,1)" font-size="17.5" text-anchor="start" font-family="Liberation Serif, serif" font-weight="bold" >EQ06-4</text>
<text transform="translate(406.7,249.8) scale(1.055,1)" font-size="17.5" text-anchor="start" font-family="Liberation Serif, serif" font-weight="bold" >EQ06-1</text>
<text transform="translate(484.3,255.6) scale(1.055,1)" font-size="17.5" text-anchor="start" font-family="Liberation Serif, serif" font-weight="bold" >EQ06-2</text>
<line x1="543" y1="86" x2="473" y2="134" stroke="#111" stroke-width="1"/>
<line x1="522.3" y1="149.3" x2="474.5" y2="174.8" stroke="#111" stroke-width="1"/>
<line x1="445.1" y1="232" x2="464.4" y2="201.4" stroke="#111" stroke-width="1"/>
<line x1="506.4" y1="236.6" x2="497.2" y2="212.1" stroke="#111" stroke-width="1"/>
<polyline points="506.6,293 506.6,287.3 625.2,287.3 625.2,293" fill="none" stroke="#444" stroke-width="1.1"/>
<text transform="translate(549.5,309.6) scale(1.04,1)" font-size="15" text-anchor="start" font-family="Liberation Sans, sans-serif" >2 km</text>
<text transform="translate(318.5,569.4) scale(1.055,1)" font-size="17.5" text-anchor="start" font-family="Liberation Serif, serif" font-weight="bold" >EQ06-1</text>
<text transform="translate(304.3,630.7) scale(1.055,1)" font-size="17.5" text-anchor="start" font-family="Liberation Serif, serif" font-weight="bold" >EQ06-3</text>
<text transform="translate(313.4,689.4) scale(1.055,1)" font-size="17.5" text-anchor="start" font-family="Liberation Serif, serif" font-weight="bold" >EQ06-4</text>
<text transform="translate(311.3,780.2) scale(1.055,1)" font-size="17.5" text-anchor="start" font-family="Liberation Serif, serif" font-weight="bold" >EQ06-2</text>
<text transform="translate(519.7,566.6) scale(1.055,1)" font-size="17.5" text-anchor="start" font-family="Liberation Serif, serif" font-weight="bold" >EQ06-1</text>
<text transform="translate(491.2,651.2) scale(1.055,1)" font-size="17.5" text-anchor="start" font-family="Liberation Serif, serif" font-weight="bold" >EQ06-4</text>
<text transform="translate(491.6,779.2) scale(1.055,1)" font-size="17.5" text-anchor="start" font-family="Liberation Serif, serif" font-weight="bold" >EQ06-2</text>
<text transform="translate(622.6,797.2) scale(1.055,1)" font-size="17.5" text-anchor="start" font-family="Liberation Serif, serif" font-weight="bold" >EQ06-3</text>
<text transform="translate(-0.7,430) scale(1.04,1)" font-size="31" text-anchor="start" font-family="Liberation Sans, sans-serif" >(b)</text>
<line x1="116.30000000000001" y1="415.8" x2="116.30000000000001" y2="905.3" stroke="#3a3a3a" stroke-width="1.1"/>
<line x1="177.55" y1="415.8" x2="177.55" y2="905.3" stroke="#3a3a3a" stroke-width="1.1"/>
<line x1="238.8" y1="415.8" x2="238.8" y2="905.3" stroke="#3a3a3a" stroke-width="1.1"/>
<line x1="300.05" y1="415.8" x2="300.05" y2="905.3" stroke="#3a3a3a" stroke-width="1.1"/>
<line x1="361.3" y1="415.8" x2="361.3" y2="905.3" stroke="#3a3a3a" stroke-width="1.1"/>
<line x1="92" y1="538.12" x2="386.3" y2="538.12" stroke="#3a3a3a" stroke-width="1.1"/>
<line x1="92" y1="660.44" x2="386.3" y2="660.44" stroke="#3a3a3a" stroke-width="1.1"/>
<line x1="92" y1="782.76" x2="386.3" y2="782.76" stroke="#3a3a3a" stroke-width="1.1"/>
<g clip-path="url(#clipb)">
<circle cx="248.6" cy="739.9" r="4.6" fill="#e8e8e8" stroke="#111" stroke-width="1.3"/>
<circle cx="219.4" cy="807.1" r="4.6" fill="#e8e8e8" stroke="#111" stroke-width="1.3"/>
<circle cx="189.8" cy="655.1" r="2.65" fill="#909090" stroke="#1e1e1e" stroke-width="1.0"/>
<circle cx="198.9" cy="652.1" r="2.65" fill="#909090" stroke="#1e1e1e" stroke-width="1.0"/>
<circle cx="93.6" cy="644.8" r="2.65" fill="#909090" stroke="#1e1e1e" stroke-width="1.0"/>
<circle cx="142.6" cy="739.9" r="4.6" fill="#e8e8e8" stroke="#111" stroke-width="1.3"/>
<circle cx="123.6" cy="581.9" r="2.65" fill="#909090" stroke="#1e1e1e" stroke-width="1.0"/>
<circle cx="136.7" cy="647.0" r="2.65" fill="#909090" stroke="#1e1e1e" stroke-width="1.0"/>
<circle cx="187.1" cy="716.6" r="4.6" fill="#e8e8e8" stroke="#111" stroke-width="1.3"/>
<circle cx="137.4" cy="771.3" r="2.65" fill="#909090" stroke="#1e1e1e" stroke-width="1.0"/>
<circle cx="161.5" cy="687.9" r="2.65" fill="#909090" stroke="#1e1e1e" stroke-width="1.0"/>
<circle cx="158.6" cy="620.8" r="2.65" fill="#909090" stroke="#1e1e1e" stroke-width="1.0"/>
<circle cx="189.5" cy="807.1" r="2.65" fill="#909090" stroke="#1e1e1e" stroke-width="1.0"/>
<circle cx="213.5" cy="739.2" r="2.65" fill="#909090" stroke="#1e1e1e" stroke-width="1.0"/>
<circle cx="186.4" cy="709.8" r="2.65" fill="#909090" stroke="#1e1e1e" stroke-width="1.0"/>
<circle cx="201.1" cy="721.7" r="2.65" fill="#909090" stroke="#1e1e1e" stroke-width="1.0"/>
<circle cx="226.2" cy="527.1" r="2.65" fill="#909090" stroke="#1e1e1e" stroke-width="1.0"/>
<circle cx="259.5" cy="718.0" r="2.65" fill="#909090" stroke="#1e1e1e" stroke-width="1.0"/>
<circle cx="264.6" cy="625.9" r="2.65" fill="#909090" stroke="#1e1e1e" stroke-width="1.0"/>
<circle cx="318.8" cy="734.1" r="4.6" fill="#e8e8e8" stroke="#111" stroke-width="1.3"/>
<circle cx="217.2" cy="657.3" r="2.65" fill="#909090" stroke="#1e1e1e" stroke-width="1.0"/>
<circle cx="231.8" cy="576.8" r="2.65" fill="#909090" stroke="#1e1e1e" stroke-width="1.0"/>
<circle cx="141.8" cy="670.4" r="2.65" fill="#909090" stroke="#1e1e1e" stroke-width="1.0"/>
<circle cx="106.1" cy="757.4" r="2.65" fill="#909090" stroke="#1e1e1e" stroke-width="1.0"/>
<circle cx="179.8" cy="568.7" r="2.65" fill="#909090" stroke="#1e1e1e" stroke-width="1.0"/>
<circle cx="139.6" cy="637.5" r="2.65" fill="#909090" stroke="#1e1e1e" stroke-width="1.0"/>
<circle cx="285.8" cy="581.2" r="4.6" fill="#e8e8e8" stroke="#111" stroke-width="1.3"/>
<circle cx="236.9" cy="781.5" r="2.65" fill="#909090" stroke="#1e1e1e" stroke-width="1.0"/>
<circle cx="208.4" cy="696.7" r="4.6" fill="#e8e8e8" stroke="#111" stroke-width="1.3"/>
<circle cx="170.0" cy="537.6" r="2.65" fill="#909090" stroke="#1e1e1e" stroke-width="1.0"/>
<circle cx="148.4" cy="696.7" r="2.65" fill="#909090" stroke="#1e1e1e" stroke-width="1.0"/>
<circle cx="100.9" cy="681.3" r="2.65" fill="#909090" stroke="#1e1e1e" stroke-width="1.0"/>
<circle cx="224.5" cy="739.9" r="4.6" fill="#e8e8e8" stroke="#111" stroke-width="1.3"/>
<circle cx="209.9" cy="679.9" r="2.65" fill="#909090" stroke="#1e1e1e" stroke-width="1.0"/>
<circle cx="279.2" cy="721.7" r="4.6" fill="#e8e8e8" stroke="#111" stroke-width="1.3"/>
<circle cx="167.1" cy="654.6" r="4.6" fill="#e8e8e8" stroke="#111" stroke-width="1.3"/>
<circle cx="164.7" cy="471.0" r="2.65" fill="#909090" stroke="#1e1e1e" stroke-width="1.0"/>
<circle cx="122.1" cy="610.6" r="2.65" fill="#909090" stroke="#1e1e1e" stroke-width="1.0"/>
<circle cx="123.9" cy="796.9" r="2.65" fill="#909090" stroke="#1e1e1e" stroke-width="1.0"/>
<circle cx="229.6" cy="756.7" r="2.65" fill="#909090" stroke="#1e1e1e" stroke-width="1.0"/>
<circle cx="271.2" cy="727.5" r="4.6" fill="#e8e8e8" stroke="#111" stroke-width="1.3"/>
<circle cx="140.4" cy="727.5" r="4.6" fill="#e8e8e8" stroke="#111" stroke-width="1.3"/>
<circle cx="231.8" cy="699.6" r="2.65" fill="#909090" stroke="#1e1e1e" stroke-width="1.0"/>
<circle cx="170.0" cy="578.2" r="2.65" fill="#909090" stroke="#1e1e1e" stroke-width="1.0"/>
<circle cx="307.9" cy="807.1" r="4.6" fill="#e8e8e8" stroke="#111" stroke-width="1.3"/>
<circle cx="196.0" cy="731.6" r="2.65" fill="#909090" stroke="#1e1e1e" stroke-width="1.0"/>
<circle cx="229.6" cy="731.6" r="2.65" fill="#909090" stroke="#1e1e1e" stroke-width="1.0"/>
<circle cx="95.8" cy="740.9" r="2.65" fill="#909090" stroke="#1e1e1e" stroke-width="1.0"/>
<circle cx="250.8" cy="647.8" r="2.65" fill="#909090" stroke="#1e1e1e" stroke-width="1.0"/>
<circle cx="193.8" cy="674.0" r="2.65" fill="#909090" stroke="#1e1e1e" stroke-width="1.0"/>
<circle cx="165.9" cy="647.8" r="4.6" fill="#e8e8e8" stroke="#111" stroke-width="1.3"/>
<circle cx="114.1" cy="715.8" r="2.65" fill="#909090" stroke="#1e1e1e" stroke-width="1.0"/>
<circle cx="163.7" cy="739.9" r="4.6" fill="#e8e8e8" stroke="#111" stroke-width="1.3"/>
<circle cx="239.1" cy="685.0" r="2.65" fill="#909090" stroke="#1e1e1e" stroke-width="1.0"/>
<circle cx="213.1" cy="536.9" r="2.65" fill="#909090" stroke="#1e1e1e" stroke-width="1.0"/>
<circle cx="248.6" cy="733.4" r="2.65" fill="#909090" stroke="#1e1e1e" stroke-width="1.0"/>
<circle cx="267.6" cy="617.8" r="2.65" fill="#909090" stroke="#1e1e1e" stroke-width="1.0"/>
<circle cx="114.8" cy="617.1" r="2.65" fill="#909090" stroke="#1e1e1e" stroke-width="1.0"/>
<circle cx="223.0" cy="729.0" r="2.65" fill="#909090" stroke="#1e1e1e" stroke-width="1.0"/>
<circle cx="212.8" cy="850.3" r="4.6" fill="#e8e8e8" stroke="#111" stroke-width="1.3"/>
<circle cx="250.8" cy="585.5" r="2.65" fill="#909090" stroke="#1e1e1e" stroke-width="1.0"/>
<circle cx="128.7" cy="673.3" r="2.65" fill="#909090" stroke="#1e1e1e" stroke-width="1.0"/>
<circle cx="138.5" cy="599.4" r="4.6" fill="#e8e8e8" stroke="#111" stroke-width="1.3"/>
<circle cx="93.6" cy="678.7" r="2.65" fill="#909090" stroke="#1e1e1e" stroke-width="1.0"/>
<circle cx="184.9" cy="484.6" r="2.65" fill="#909090" stroke="#1e1e1e" stroke-width="1.0"/>
<circle cx="292.6" cy="623.7" r="4.6" fill="#e8e8e8" stroke="#111" stroke-width="1.3"/>
<circle cx="119.2" cy="658.4" r="2.65" fill="#909090" stroke="#1e1e1e" stroke-width="1.0"/>
<circle cx="223.0" cy="614.9" r="2.65" fill="#909090" stroke="#1e1e1e" stroke-width="1.0"/>
<circle cx="173.9" cy="583.3" r="2.65" fill="#909090" stroke="#1e1e1e" stroke-width="1.0"/>
<circle cx="227.4" cy="748.7" r="2.65" fill="#909090" stroke="#1e1e1e" stroke-width="1.0"/>
<circle cx="161.5" cy="655.1" r="2.65" fill="#909090" stroke="#1e1e1e" stroke-width="1.0"/>
<circle cx="291.8" cy="690.1" r="4.6" fill="#e8e8e8" stroke="#111" stroke-width="1.3"/>
<circle cx="182.3" cy="524.7" r="2.65" fill="#909090" stroke="#1e1e1e" stroke-width="1.0"/>
<circle cx="223.0" cy="607.4" r="2.65" fill="#909090" stroke="#1e1e1e" stroke-width="1.0"/>
<circle cx="127.2" cy="580.4" r="2.65" fill="#909090" stroke="#1e1e1e" stroke-width="1.0"/>
<circle cx="138.2" cy="758.2" r="4.6" fill="#e8e8e8" stroke="#111" stroke-width="1.3"/>
<circle cx="189.2" cy="562.6" r="2.65" fill="#909090" stroke="#1e1e1e" stroke-width="1.0"/>
<circle cx="171.0" cy="728.2" r="4.6" fill="#e8e8e8" stroke="#111" stroke-width="1.3"/>
<circle cx="261.0" cy="748.2" r="2.65" fill="#909090" stroke="#1e1e1e" stroke-width="1.0"/>
<circle cx="176.1" cy="703.2" r="2.65" fill="#909090" stroke="#1e1e1e" stroke-width="1.0"/>
<circle cx="243.5" cy="619.3" r="2.65" fill="#909090" stroke="#1e1e1e" stroke-width="1.0"/>
<circle cx="244.2" cy="731.6" r="2.65" fill="#909090" stroke="#1e1e1e" stroke-width="1.0"/>
<circle cx="220.1" cy="671.9" r="2.65" fill="#909090" stroke="#1e1e1e" stroke-width="1.0"/>
<circle cx="246.4" cy="721.7" r="4.6" fill="#e8e8e8" stroke="#111" stroke-width="1.3"/>
<circle cx="135.3" cy="711.5" r="2.65" fill="#909090" stroke="#1e1e1e" stroke-width="1.0"/>
<circle cx="146.9" cy="606.3" r="2.65" fill="#909090" stroke="#1e1e1e" stroke-width="1.0"/>
<circle cx="138.2" cy="629.8" r="4.6" fill="#e8e8e8" stroke="#111" stroke-width="1.3"/>
<circle cx="261.0" cy="670.4" r="2.65" fill="#909090" stroke="#1e1e1e" stroke-width="1.0"/>
<circle cx="171.8" cy="700.3" r="2.65" fill="#909090" stroke="#1e1e1e" stroke-width="1.0"/>
<circle cx="193.1" cy="639.7" r="2.65" fill="#909090" stroke="#1e1e1e" stroke-width="1.0"/>
<circle cx="133.8" cy="701.8" r="2.65" fill="#909090" stroke="#1e1e1e" stroke-width="1.0"/>
<circle cx="215.7" cy="610.6" r="2.65" fill="#909090" stroke="#1e1e1e" stroke-width="1.0"/>
<circle cx="98.0" cy="729.7" r="2.65" fill="#909090" stroke="#1e1e1e" stroke-width="1.0"/>
<circle cx="220.1" cy="554.6" r="2.65" fill="#909090" stroke="#1e1e1e" stroke-width="1.0"/>
<circle cx="98.0" cy="711.2" r="2.65" fill="#909090" stroke="#1e1e1e" stroke-width="1.0"/>
<circle cx="146.9" cy="584.1" r="2.65" fill="#909090" stroke="#1e1e1e" stroke-width="1.0"/>
<circle cx="211.4" cy="514.7" r="2.65" fill="#909090" stroke="#1e1e1e" stroke-width="1.0"/>
<circle cx="309.4" cy="794.7" r="4.6" fill="#e8e8e8" stroke="#111" stroke-width="1.3"/>
<circle cx="158.6" cy="788.8" r="4.6" fill="#e8e8e8" stroke="#111" stroke-width="1.3"/>
<circle cx="220.1" cy="633.2" r="2.65" fill="#909090" stroke="#1e1e1e" stroke-width="1.0"/>
<circle cx="211.4" cy="513.5" r="2.65" fill="#909090" stroke="#1e1e1e" stroke-width="1.0"/>
<circle cx="117.7" cy="589.6" r="2.65" fill="#909090" stroke="#1e1e1e" stroke-width="1.0"/>
<circle cx="230.3" cy="801.2" r="4.6" fill="#e8e8e8" stroke="#111" stroke-width="1.3"/>
<circle cx="243.5" cy="770.6" r="4.6" fill="#e8e8e8" stroke="#111" stroke-width="1.3"/>
<circle cx="127.5" cy="860.8" r="2.65" fill="#909090" stroke="#1e1e1e" stroke-width="1.0"/>
<circle cx="269.0" cy="675.5" r="2.65" fill="#909090" stroke="#1e1e1e" stroke-width="1.0"/>
<circle cx="144.0" cy="557.5" r="2.65" fill="#909090" stroke="#1e1e1e" stroke-width="1.0"/>
<circle cx="155.0" cy="666.7" r="2.65" fill="#909090" stroke="#1e1e1e" stroke-width="1.0"/>
<circle cx="259.5" cy="641.2" r="4.6" fill="#e8e8e8" stroke="#111" stroke-width="1.3"/>
<circle cx="159.8" cy="611.1" r="4.6" fill="#e8e8e8" stroke="#111" stroke-width="1.3"/>
<circle cx="207.0" cy="672.6" r="4.6" fill="#e8e8e8" stroke="#111" stroke-width="1.3"/>
<circle cx="226.7" cy="587.7" r="2.65" fill="#909090" stroke="#1e1e1e" stroke-width="1.0"/>
<circle cx="171.0" cy="671.9" r="4.6" fill="#e8e8e8" stroke="#111" stroke-width="1.3"/>
<circle cx="211.4" cy="555.3" r="2.65" fill="#909090" stroke="#1e1e1e" stroke-width="1.0"/>
<circle cx="164.5" cy="685.0" r="2.65" fill="#909090" stroke="#1e1e1e" stroke-width="1.0"/>
<circle cx="252.2" cy="642.7" r="2.65" fill="#909090" stroke="#1e1e1e" stroke-width="1.0"/>
<circle cx="236.2" cy="693.8" r="2.65" fill="#909090" stroke="#1e1e1e" stroke-width="1.0"/>
<circle cx="163.0" cy="623.7" r="2.65" fill="#909090" stroke="#1e1e1e" stroke-width="1.0"/>
<circle cx="273.0" cy="562.6" r="4.6" fill="#e8e8e8" stroke="#111" stroke-width="1.3"/>
<circle cx="152.0" cy="554.9" r="2.65" fill="#909090" stroke="#1e1e1e" stroke-width="1.0"/>
<circle cx="133.8" cy="709.1" r="2.65" fill="#909090" stroke="#1e1e1e" stroke-width="1.0"/>
<circle cx="247.9" cy="686.5" r="2.65" fill="#909090" stroke="#1e1e1e" stroke-width="1.0"/>
<circle cx="187.5" cy="619.3" r="2.65" fill="#909090" stroke="#1e1e1e" stroke-width="1.0"/>
<circle cx="231.8" cy="573.1" r="2.65" fill="#909090" stroke="#1e1e1e" stroke-width="1.0"/>
<circle cx="234.0" cy="589.2" r="2.65" fill="#909090" stroke="#1e1e1e" stroke-width="1.0"/>
<circle cx="241.3" cy="636.1" r="4.6" fill="#e8e8e8" stroke="#111" stroke-width="1.3"/>
<circle cx="291.1" cy="806.4" r="4.6" fill="#e8e8e8" stroke="#111" stroke-width="1.3"/>
<circle cx="172.5" cy="746.5" r="4.6" fill="#e8e8e8" stroke="#111" stroke-width="1.3"/>
<circle cx="233.3" cy="776.4" r="4.6" fill="#e8e8e8" stroke="#111" stroke-width="1.3"/>
<circle cx="187.1" cy="607.4" r="2.65" fill="#909090" stroke="#1e1e1e" stroke-width="1.0"/>
<circle cx="234.7" cy="658.0" r="2.65" fill="#909090" stroke="#1e1e1e" stroke-width="1.0"/>
<circle cx="174.7" cy="549.3" r="2.65" fill="#909090" stroke="#1e1e1e" stroke-width="1.0"/>
<circle cx="204.9" cy="458.8" r="2.65" fill="#909090" stroke="#1e1e1e" stroke-width="1.0"/>
<circle cx="230.3" cy="560.0" r="2.65" fill="#909090" stroke="#1e1e1e" stroke-width="1.0"/>
<circle cx="107.5" cy="713.2" r="2.65" fill="#909090" stroke="#1e1e1e" stroke-width="1.0"/>
<circle cx="275.6" cy="613.2" r="4.6" fill="#e8e8e8" stroke="#111" stroke-width="1.3"/>
<circle cx="133.4" cy="590.6" r="2.65" fill="#909090" stroke="#1e1e1e" stroke-width="1.0"/>
<circle cx="136.7" cy="593.3" r="2.65" fill="#909090" stroke="#1e1e1e" stroke-width="1.0"/>
<circle cx="148.1" cy="792.9" r="2.65" fill="#909090" stroke="#1e1e1e" stroke-width="1.0"/>
<circle cx="95.8" cy="754.5" r="2.65" fill="#909090" stroke="#1e1e1e" stroke-width="1.0"/>
<circle cx="122.8" cy="594.6" r="2.65" fill="#909090" stroke="#1e1e1e" stroke-width="1.0"/>
<circle cx="186.4" cy="734.1" r="4.6" fill="#e8e8e8" stroke="#111" stroke-width="1.3"/>
<circle cx="168.8" cy="690.8" r="4.6" fill="#e8e8e8" stroke="#111" stroke-width="1.3"/>
<circle cx="223.8" cy="592.8" r="2.65" fill="#909090" stroke="#1e1e1e" stroke-width="1.0"/>
<circle cx="161.5" cy="581.2" r="2.65" fill="#909090" stroke="#1e1e1e" stroke-width="1.0"/>
<circle cx="223.0" cy="832.1" r="4.6" fill="#e8e8e8" stroke="#111" stroke-width="1.3"/>
<circle cx="220.8" cy="639.7" r="2.65" fill="#909090" stroke="#1e1e1e" stroke-width="1.0"/>
<circle cx="278.1" cy="502.7" r="2.65" fill="#909090" stroke="#1e1e1e" stroke-width="1.0"/>
<circle cx="190.9" cy="671.1" r="2.65" fill="#909090" stroke="#1e1e1e" stroke-width="1.0"/>
<circle cx="245.7" cy="648.5" r="2.65" fill="#909090" stroke="#1e1e1e" stroke-width="1.0"/>
<circle cx="221.6" cy="532.0" r="2.65" fill="#909090" stroke="#1e1e1e" stroke-width="1.0"/>
<circle cx="259.5" cy="782.3" r="4.6" fill="#e8e8e8" stroke="#111" stroke-width="1.3"/>
<circle cx="114.1" cy="643.4" r="2.65" fill="#909090" stroke="#1e1e1e" stroke-width="1.0"/>
<circle cx="271.9" cy="636.1" r="4.6" fill="#e8e8e8" stroke="#111" stroke-width="1.3"/>
<circle cx="145.5" cy="727.5" r="4.6" fill="#e8e8e8" stroke="#111" stroke-width="1.3"/>
<circle cx="248.6" cy="591.4" r="2.65" fill="#909090" stroke="#1e1e1e" stroke-width="1.0"/>
<circle cx="223.8" cy="813.8" r="4.6" fill="#e8e8e8" stroke="#111" stroke-width="1.3"/>
<circle cx="221.6" cy="658.7" r="2.65" fill="#909090" stroke="#1e1e1e" stroke-width="1.0"/>
<circle cx="255.9" cy="703.2" r="4.6" fill="#e8e8e8" stroke="#111" stroke-width="1.3"/>
<circle cx="182.0" cy="777.2" r="4.6" fill="#e8e8e8" stroke="#111" stroke-width="1.3"/>
<circle cx="156.4" cy="538.4" r="2.65" fill="#909090" stroke="#1e1e1e" stroke-width="1.0"/>
<circle cx="145.5" cy="619.3" r="2.65" fill="#909090" stroke="#1e1e1e" stroke-width="1.0"/>
<circle cx="261.0" cy="630.2" r="2.65" fill="#909090" stroke="#1e1e1e" stroke-width="1.0"/>
<circle cx="100.5" cy="625.4" r="2.65" fill="#909090" stroke="#1e1e1e" stroke-width="1.0"/>
<circle cx="189.5" cy="687.9" r="2.65" fill="#909090" stroke="#1e1e1e" stroke-width="1.0"/>
<circle cx="144.7" cy="764.7" r="4.6" fill="#e8e8e8" stroke="#111" stroke-width="1.3"/>
<circle cx="243.5" cy="671.9" r="2.65" fill="#909090" stroke="#1e1e1e" stroke-width="1.0"/>
<circle cx="105.3" cy="641.2" r="2.65" fill="#909090" stroke="#1e1e1e" stroke-width="1.0"/>
<circle cx="224.5" cy="722.4" r="4.6" fill="#e8e8e8" stroke="#111" stroke-width="1.3"/>
<circle cx="130.1" cy="749.1" r="2.65" fill="#909090" stroke="#1e1e1e" stroke-width="1.0"/>
<circle cx="198.9" cy="772.0" r="2.65" fill="#909090" stroke="#1e1e1e" stroke-width="1.0"/>
<circle cx="123.3" cy="617.8" r="4.6" fill="#e8e8e8" stroke="#111" stroke-width="1.3"/>
<circle cx="207.0" cy="745.8" r="4.6" fill="#e8e8e8" stroke="#111" stroke-width="1.3"/>
<circle cx="180.5" cy="669.7" r="2.65" fill="#909090" stroke="#1e1e1e" stroke-width="1.0"/>
<circle cx="229.6" cy="776.4" r="4.6" fill="#e8e8e8" stroke="#111" stroke-width="1.3"/>
<circle cx="133.8" cy="653.6" r="2.65" fill="#909090" stroke="#1e1e1e" stroke-width="1.0"/>
<circle cx="224.2" cy="556.6" r="2.65" fill="#909090" stroke="#1e1e1e" stroke-width="1.0"/>
<circle cx="187.1" cy="770.6" r="4.6" fill="#e8e8e8" stroke="#111" stroke-width="1.3"/>
<circle cx="189.5" cy="733.4" r="4.6" fill="#e8e8e8" stroke="#111" stroke-width="1.3"/>
<circle cx="143.3" cy="648.2" r="2.65" fill="#909090" stroke="#1e1e1e" stroke-width="1.0"/>
<circle cx="103.6" cy="648.2" r="2.65" fill="#909090" stroke="#1e1e1e" stroke-width="1.0"/>
<circle cx="174.7" cy="674.8" r="2.65" fill="#909090" stroke="#1e1e1e" stroke-width="1.0"/>
<circle cx="179.1" cy="708.4" r="2.65" fill="#909090" stroke="#1e1e1e" stroke-width="1.0"/>
<circle cx="213.5" cy="807.1" r="4.6" fill="#e8e8e8" stroke="#111" stroke-width="1.3"/>
<circle cx="169.6" cy="587.0" r="4.6" fill="#e8e8e8" stroke="#111" stroke-width="1.3"/>
<circle cx="212.8" cy="680.6" r="2.65" fill="#909090" stroke="#1e1e1e" stroke-width="1.0"/>
<circle cx="211.4" cy="734.1" r="4.6" fill="#e8e8e8" stroke="#111" stroke-width="1.3"/>
<circle cx="153.5" cy="658.7" r="2.65" fill="#909090" stroke="#1e1e1e" stroke-width="1.0"/>
<circle cx="207.7" cy="650.7" r="2.65" fill="#909090" stroke="#1e1e1e" stroke-width="1.0"/>
<circle cx="183.4" cy="682.1" r="2.65" fill="#909090" stroke="#1e1e1e" stroke-width="1.0"/>
<circle cx="234.7" cy="721.7" r="4.6" fill="#e8e8e8" stroke="#111" stroke-width="1.3"/>
<circle cx="225.2" cy="715.8" r="4.6" fill="#e8e8e8" stroke="#111" stroke-width="1.3"/>
<circle cx="245.7" cy="815.0" r="2.65" fill="#909090" stroke="#1e1e1e" stroke-width="1.0"/>
<circle cx="128.7" cy="475.9" r="2.65" fill="#909090" stroke="#1e1e1e" stroke-width="1.0"/>
<circle cx="190.2" cy="745.8" r="4.6" fill="#e8e8e8" stroke="#111" stroke-width="1.3"/>
<circle cx="139.6" cy="703.2" r="4.6" fill="#e8e8e8" stroke="#111" stroke-width="1.3"/>
<circle cx="197.5" cy="625.1" r="2.65" fill="#909090" stroke="#1e1e1e" stroke-width="1.0"/>
<circle cx="128.2" cy="622.9" r="2.65" fill="#909090" stroke="#1e1e1e" stroke-width="1.0"/>
<circle cx="128.7" cy="639.7" r="2.65" fill="#909090" stroke="#1e1e1e" stroke-width="1.0"/>
<circle cx="199.7" cy="585.8" r="2.65" fill="#909090" stroke="#1e1e1e" stroke-width="1.0"/>
<circle cx="243.5" cy="788.8" r="4.6" fill="#e8e8e8" stroke="#111" stroke-width="1.3"/>
<circle cx="300.6" cy="806.4" r="4.6" fill="#e8e8e8" stroke="#111" stroke-width="1.3"/>
<circle cx="218.7" cy="610.4" r="2.65" fill="#909090" stroke="#1e1e1e" stroke-width="1.0"/>
<circle cx="165.2" cy="579.3" r="2.65" fill="#909090" stroke="#1e1e1e" stroke-width="1.0"/>
<circle cx="117.0" cy="695.9" r="4.6" fill="#e8e8e8" stroke="#111" stroke-width="1.3"/>
<circle cx="282.2" cy="862.5" r="4.6" fill="#e8e8e8" stroke="#111" stroke-width="1.3"/>
<circle cx="203.3" cy="819.7" r="4.6" fill="#e8e8e8" stroke="#111" stroke-width="1.3"/>
<circle cx="187.8" cy="562.5" r="2.65" fill="#909090" stroke="#1e1e1e" stroke-width="1.0"/>
<circle cx="231.8" cy="641.2" r="2.65" fill="#909090" stroke="#1e1e1e" stroke-width="1.0"/>
<circle cx="285.8" cy="562.6" r="4.6" fill="#e8e8e8" stroke="#111" stroke-width="1.3"/>
<circle cx="149.9" cy="712.9" r="2.65" fill="#909090" stroke="#1e1e1e" stroke-width="1.0"/>
<circle cx="172.5" cy="517.2" r="2.65" fill="#909090" stroke="#1e1e1e" stroke-width="1.0"/>
<circle cx="177.6" cy="687.9" r="2.65" fill="#909090" stroke="#1e1e1e" stroke-width="1.0"/>
<circle cx="174.7" cy="693.0" r="2.65" fill="#909090" stroke="#1e1e1e" stroke-width="1.0"/>
<circle cx="277.1" cy="758.2" r="4.6" fill="#e8e8e8" stroke="#111" stroke-width="1.3"/>
<circle cx="255.2" cy="758.2" r="2.65" fill="#909090" stroke="#1e1e1e" stroke-width="1.0"/>
<circle cx="254.4" cy="631.0" r="2.65" fill="#909090" stroke="#1e1e1e" stroke-width="1.0"/>
<circle cx="193.8" cy="635.4" r="2.65" fill="#909090" stroke="#1e1e1e" stroke-width="1.0"/>
<circle cx="223.0" cy="579.0" r="2.65" fill="#909090" stroke="#1e1e1e" stroke-width="1.0"/>
<circle cx="224.5" cy="671.1" r="2.65" fill="#909090" stroke="#1e1e1e" stroke-width="1.0"/>
<circle cx="128.2" cy="660.2" r="4.6" fill="#e8e8e8" stroke="#111" stroke-width="1.3"/>
<circle cx="275.6" cy="611.1" r="4.6" fill="#e8e8e8" stroke="#111" stroke-width="1.3"/>
<circle cx="133.8" cy="676.2" r="2.65" fill="#909090" stroke="#1e1e1e" stroke-width="1.0"/>
<circle cx="274.9" cy="746.2" r="2.65" fill="#909090" stroke="#1e1e1e" stroke-width="1.0"/>
<circle cx="139.6" cy="678.4" r="2.65" fill="#909090" stroke="#1e1e1e" stroke-width="1.0"/>
<circle cx="206.1" cy="487.4" r="2.65" fill="#909090" stroke="#1e1e1e" stroke-width="1.0"/>
<circle cx="215.7" cy="746.5" r="2.65" fill="#909090" stroke="#1e1e1e" stroke-width="1.0"/>
<circle cx="156.4" cy="519.8" r="2.65" fill="#909090" stroke="#1e1e1e" stroke-width="1.0"/>
<circle cx="161.5" cy="765.2" r="2.65" fill="#909090" stroke="#1e1e1e" stroke-width="1.0"/>
<circle cx="190.9" cy="705.4" r="4.6" fill="#e8e8e8" stroke="#111" stroke-width="1.3"/>
<circle cx="273.4" cy="592.8" r="4.6" fill="#e8e8e8" stroke="#111" stroke-width="1.3"/>
<circle cx="263.9" cy="638.3" r="2.65" fill="#909090" stroke="#1e1e1e" stroke-width="1.0"/>
<circle cx="263.9" cy="690.8" r="4.6" fill="#e8e8e8" stroke="#111" stroke-width="1.3"/>
<circle cx="244.9" cy="611.8" r="2.65" fill="#909090" stroke="#1e1e1e" stroke-width="1.0"/>
<circle cx="219.8" cy="563.6" r="2.65" fill="#909090" stroke="#1e1e1e" stroke-width="1.0"/>
<circle cx="161.5" cy="752.3" r="4.6" fill="#e8e8e8" stroke="#111" stroke-width="1.3"/>
<circle cx="149.1" cy="801.2" r="4.6" fill="#e8e8e8" stroke="#111" stroke-width="1.3"/>
<circle cx="168.8" cy="614.9" r="2.65" fill="#909090" stroke="#1e1e1e" stroke-width="1.0"/>
<circle cx="226.7" cy="612.7" r="4.6" fill="#e8e8e8" stroke="#111" stroke-width="1.3"/>
<circle cx="198.9" cy="826.2" r="4.6" fill="#e8e8e8" stroke="#111" stroke-width="1.3"/>
<circle cx="244.2" cy="838.4" r="4.6" fill="#e8e8e8" stroke="#111" stroke-width="1.3"/>
<circle cx="169.6" cy="524.7" r="2.65" fill="#909090" stroke="#1e1e1e" stroke-width="1.0"/>
<circle cx="98.0" cy="709.8" r="2.65" fill="#909090" stroke="#1e1e1e" stroke-width="1.0"/>
<circle cx="123.3" cy="776.7" r="4.6" fill="#e8e8e8" stroke="#111" stroke-width="1.3"/>
<circle cx="262.5" cy="727.8" r="2.65" fill="#909090" stroke="#1e1e1e" stroke-width="1.0"/>
<circle cx="197.5" cy="633.9" r="2.65" fill="#909090" stroke="#1e1e1e" stroke-width="1.0"/>
<circle cx="130.9" cy="565.5" r="2.65" fill="#909090" stroke="#1e1e1e" stroke-width="1.0"/>
<circle cx="250.0" cy="563.6" r="2.65" fill="#909090" stroke="#1e1e1e" stroke-width="1.0"/>
<circle cx="140.4" cy="610.4" r="2.65" fill="#909090" stroke="#1e1e1e" stroke-width="1.0"/>
<circle cx="224.5" cy="626.6" r="2.65" fill="#909090" stroke="#1e1e1e" stroke-width="1.0"/>
<circle cx="239.8" cy="647.8" r="4.6" fill="#e8e8e8" stroke="#111" stroke-width="1.3"/>
<circle cx="179.1" cy="770.6" r="2.65" fill="#909090" stroke="#1e1e1e" stroke-width="1.0"/>
<circle cx="179.1" cy="727.5" r="4.6" fill="#e8e8e8" stroke="#111" stroke-width="1.3"/>
<circle cx="166.6" cy="599.1" r="4.6" fill="#e8e8e8" stroke="#111" stroke-width="1.3"/>
<circle cx="119.2" cy="667.5" r="2.65" fill="#909090" stroke="#1e1e1e" stroke-width="1.0"/>
<circle cx="173.5" cy="628.8" r="2.65" fill="#909090" stroke="#1e1e1e" stroke-width="1.0"/>
<circle cx="167.4" cy="622.9" r="2.65" fill="#909090" stroke="#1e1e1e" stroke-width="1.0"/>
<circle cx="93.6" cy="823.3" r="2.65" fill="#909090" stroke="#1e1e1e" stroke-width="1.0"/>
<circle cx="144.0" cy="629.8" r="4.6" fill="#e8e8e8" stroke="#111" stroke-width="1.3"/>
<circle cx="94.4" cy="656.5" r="2.65" fill="#909090" stroke="#1e1e1e" stroke-width="1.0"/>
<circle cx="275.6" cy="696.7" r="4.6" fill="#e8e8e8" stroke="#111" stroke-width="1.3"/>
<circle cx="146.6" cy="839.4" r="2.65" fill="#909090" stroke="#1e1e1e" stroke-width="1.0"/>
<circle cx="231.8" cy="553.4" r="2.65" fill="#909090" stroke="#1e1e1e" stroke-width="1.0"/>
<circle cx="141.4" cy="522.3" r="2.65" fill="#909090" stroke="#1e1e1e" stroke-width="1.0"/>
<circle cx="104.3" cy="605.5" r="2.65" fill="#909090" stroke="#1e1e1e" stroke-width="1.0"/>
<circle cx="140.4" cy="801.2" r="4.6" fill="#e8e8e8" stroke="#111" stroke-width="1.3"/>
<circle cx="223.8" cy="685.0" r="4.6" fill="#e8e8e8" stroke="#111" stroke-width="1.3"/>
<circle cx="152.0" cy="544.7" r="2.65" fill="#909090" stroke="#1e1e1e" stroke-width="1.0"/>
<circle cx="156.4" cy="549.3" r="2.65" fill="#909090" stroke="#1e1e1e" stroke-width="1.0"/>
<circle cx="201.1" cy="679.2" r="4.6" fill="#e8e8e8" stroke="#111" stroke-width="1.3"/>
<circle cx="231.1" cy="709.1" r="4.6" fill="#e8e8e8" stroke="#111" stroke-width="1.3"/>
<circle cx="297.7" cy="672.6" r="4.6" fill="#e8e8e8" stroke="#111" stroke-width="1.3"/>
<circle cx="233.3" cy="788.8" r="4.6" fill="#e8e8e8" stroke="#111" stroke-width="1.3"/>
<circle cx="282.9" cy="672.6" r="4.6" fill="#e8e8e8" stroke="#111" stroke-width="1.3"/>
<circle cx="238.4" cy="575.3" r="2.65" fill="#909090" stroke="#1e1e1e" stroke-width="1.0"/>
<circle cx="234.7" cy="687.2" r="2.65" fill="#909090" stroke="#1e1e1e" stroke-width="1.0"/>
<circle cx="256.6" cy="671.9" r="2.65" fill="#909090" stroke="#1e1e1e" stroke-width="1.0"/>
<circle cx="223.0" cy="825.5" r="2.65" fill="#909090" stroke="#1e1e1e" stroke-width="1.0"/>
<circle cx="247.9" cy="696.7" r="4.6" fill="#e8e8e8" stroke="#111" stroke-width="1.3"/>
<circle cx="138.2" cy="717.3" r="2.65" fill="#909090" stroke="#1e1e1e" stroke-width="1.0"/>
<circle cx="146.6" cy="515.3" r="2.65" fill="#909090" stroke="#1e1e1e" stroke-width="1.0"/>
<circle cx="229.6" cy="625.9" r="2.65" fill="#909090" stroke="#1e1e1e" stroke-width="1.0"/>
<circle cx="148.4" cy="703.2" r="4.6" fill="#e8e8e8" stroke="#111" stroke-width="1.3"/>
<circle cx="141.1" cy="546.8" r="2.65" fill="#909090" stroke="#1e1e1e" stroke-width="1.0"/>
<circle cx="143.7" cy="534.7" r="2.65" fill="#909090" stroke="#1e1e1e" stroke-width="1.0"/>
<circle cx="151.3" cy="752.3" r="4.6" fill="#e8e8e8" stroke="#111" stroke-width="1.3"/>
<circle cx="165.9" cy="825.2" r="2.65" fill="#909090" stroke="#1e1e1e" stroke-width="1.0"/>
<circle cx="256.6" cy="764.7" r="4.6" fill="#e8e8e8" stroke="#111" stroke-width="1.3"/>
<circle cx="229.6" cy="549.0" r="2.65" fill="#909090" stroke="#1e1e1e" stroke-width="1.0"/>
<circle cx="115.1" cy="585.1" r="2.65" fill="#909090" stroke="#1e1e1e" stroke-width="1.0"/>
<circle cx="212.8" cy="655.8" r="2.65" fill="#909090" stroke="#1e1e1e" stroke-width="1.0"/>
<circle cx="275.6" cy="708.4" r="2.65" fill="#909090" stroke="#1e1e1e" stroke-width="1.0"/>
<circle cx="170.0" cy="546.4" r="2.65" fill="#909090" stroke="#1e1e1e" stroke-width="1.0"/>
<circle cx="100.9" cy="693.8" r="2.65" fill="#909090" stroke="#1e1e1e" stroke-width="1.0"/>
<circle cx="140.4" cy="696.7" r="2.65" fill="#909090" stroke="#1e1e1e" stroke-width="1.0"/>
<circle cx="320.3" cy="794.7" r="4.6" fill="#e8e8e8" stroke="#111" stroke-width="1.3"/>
<circle cx="184.9" cy="548.6" r="2.65" fill="#909090" stroke="#1e1e1e" stroke-width="1.0"/>
<circle cx="159.8" cy="613.2" r="4.6" fill="#e8e8e8" stroke="#111" stroke-width="1.3"/>
<circle cx="149.9" cy="736.3" r="2.65" fill="#909090" stroke="#1e1e1e" stroke-width="1.0"/>
<circle cx="194.6" cy="783.0" r="4.6" fill="#e8e8e8" stroke="#111" stroke-width="1.3"/>
<circle cx="254.4" cy="734.1" r="4.6" fill="#e8e8e8" stroke="#111" stroke-width="1.3"/>
<circle cx="303.5" cy="734.1" r="4.6" fill="#e8e8e8" stroke="#111" stroke-width="1.3"/>
<circle cx="165.9" cy="770.6" r="2.65" fill="#909090" stroke="#1e1e1e" stroke-width="1.0"/>
<circle cx="266.8" cy="704.0" r="4.6" fill="#e8e8e8" stroke="#111" stroke-width="1.3"/>
<circle cx="184.2" cy="757.4" r="2.65" fill="#909090" stroke="#1e1e1e" stroke-width="1.0"/>
<circle cx="214.0" cy="599.1" r="2.65" fill="#909090" stroke="#1e1e1e" stroke-width="1.0"/>
<circle cx="228.9" cy="432.4" r="2.65" fill="#909090" stroke="#1e1e1e" stroke-width="1.0"/>
<circle cx="157.9" cy="721.7" r="2.65" fill="#909090" stroke="#1e1e1e" stroke-width="1.0"/>
<circle cx="165.9" cy="637.5" r="2.65" fill="#909090" stroke="#1e1e1e" stroke-width="1.0"/>
<circle cx="257.6" cy="544.4" r="2.65" fill="#909090" stroke="#1e1e1e" stroke-width="1.0"/>
<circle cx="161.5" cy="641.2" r="2.65" fill="#909090" stroke="#1e1e1e" stroke-width="1.0"/>
<circle cx="226.0" cy="643.4" r="2.65" fill="#909090" stroke="#1e1e1e" stroke-width="1.0"/>
<circle cx="167.4" cy="705.4" r="2.65" fill="#909090" stroke="#1e1e1e" stroke-width="1.0"/>
<circle cx="254.4" cy="657.3" r="2.65" fill="#909090" stroke="#1e1e1e" stroke-width="1.0"/>
<circle cx="111.9" cy="734.1" r="2.65" fill="#909090" stroke="#1e1e1e" stroke-width="1.0"/>
<circle cx="138.9" cy="746.5" r="4.6" fill="#e8e8e8" stroke="#111" stroke-width="1.3"/>
<circle cx="210.6" cy="689.4" r="4.6" fill="#e8e8e8" stroke="#111" stroke-width="1.3"/>
<circle cx="164.2" cy="507.7" r="2.65" fill="#909090" stroke="#1e1e1e" stroke-width="1.0"/>
<circle cx="193.1" cy="776.4" r="4.6" fill="#e8e8e8" stroke="#111" stroke-width="1.3"/>
<circle cx="302.1" cy="703.2" r="4.6" fill="#e8e8e8" stroke="#111" stroke-width="1.3"/>
<circle cx="247.9" cy="710.7" r="4.6" fill="#e8e8e8" stroke="#111" stroke-width="1.3"/>
<circle cx="231.1" cy="636.1" r="2.65" fill="#909090" stroke="#1e1e1e" stroke-width="1.0"/>
<circle cx="184.9" cy="673.3" r="2.65" fill="#909090" stroke="#1e1e1e" stroke-width="1.0"/>
<circle cx="191.6" cy="666.7" r="2.65" fill="#909090" stroke="#1e1e1e" stroke-width="1.0"/>
<circle cx="174.7" cy="618.6" r="2.65" fill="#909090" stroke="#1e1e1e" stroke-width="1.0"/>
<circle cx="266.1" cy="671.9" r="2.65" fill="#909090" stroke="#1e1e1e" stroke-width="1.0"/>
<circle cx="238.4" cy="856.6" r="4.6" fill="#e8e8e8" stroke="#111" stroke-width="1.3"/>
<circle cx="305.7" cy="715.8" r="4.6" fill="#e8e8e8" stroke="#111" stroke-width="1.3"/>
<circle cx="205.5" cy="715.8" r="4.6" fill="#e8e8e8" stroke="#111" stroke-width="1.3"/>
<circle cx="236.2" cy="618.6" r="2.65" fill="#909090" stroke="#1e1e1e" stroke-width="1.0"/>
<circle cx="253.7" cy="715.8" r="4.6" fill="#e8e8e8" stroke="#111" stroke-width="1.3"/>
<circle cx="236.2" cy="728.2" r="2.65" fill="#909090" stroke="#1e1e1e" stroke-width="1.0"/>
<circle cx="154.2" cy="745.8" r="4.6" fill="#e8e8e8" stroke="#111" stroke-width="1.3"/>
<circle cx="163.0" cy="708.4" r="2.65" fill="#909090" stroke="#1e1e1e" stroke-width="1.0"/>
<circle cx="135.3" cy="660.2" r="4.6" fill="#e8e8e8" stroke="#111" stroke-width="1.3"/>
<circle cx="177.6" cy="758.2" r="4.6" fill="#e8e8e8" stroke="#111" stroke-width="1.3"/>
<circle cx="189.3" cy="795.4" r="4.6" fill="#e8e8e8" stroke="#111" stroke-width="1.3"/>
<circle cx="179.3" cy="597.9" r="2.65" fill="#909090" stroke="#1e1e1e" stroke-width="1.0"/>
<circle cx="313.0" cy="696.7" r="4.6" fill="#e8e8e8" stroke="#111" stroke-width="1.3"/>
<circle cx="152.0" cy="525.2" r="2.65" fill="#909090" stroke="#1e1e1e" stroke-width="1.0"/>
<circle cx="152.0" cy="624.0" r="4.6" fill="#e8e8e8" stroke="#111" stroke-width="1.3"/>
<circle cx="119.9" cy="456.9" r="2.65" fill="#909090" stroke="#1e1e1e" stroke-width="1.0"/>
<circle cx="182.0" cy="687.9" r="2.65" fill="#909090" stroke="#1e1e1e" stroke-width="1.0"/>
<circle cx="201.1" cy="672.6" r="4.6" fill="#e8e8e8" stroke="#111" stroke-width="1.3"/>
<circle cx="234.7" cy="645.6" r="2.65" fill="#909090" stroke="#1e1e1e" stroke-width="1.0"/>
<circle cx="177.6" cy="639.0" r="2.65" fill="#909090" stroke="#1e1e1e" stroke-width="1.0"/>
<circle cx="188.7" cy="607.9" r="2.65" fill="#909090" stroke="#1e1e1e" stroke-width="1.0"/>
<circle cx="126.5" cy="739.9" r="4.6" fill="#e8e8e8" stroke="#111" stroke-width="1.3"/>
<circle cx="228.9" cy="568.7" r="2.65" fill="#909090" stroke="#1e1e1e" stroke-width="1.0"/>
<circle cx="136.4" cy="617.5" r="2.65" fill="#909090" stroke="#1e1e1e" stroke-width="1.0"/>
<circle cx="318.8" cy="807.1" r="4.6" fill="#e8e8e8" stroke="#111" stroke-width="1.3"/>
<circle cx="207.7" cy="758.2" r="4.6" fill="#e8e8e8" stroke="#111" stroke-width="1.3"/>
<circle cx="130.9" cy="629.8" r="4.6" fill="#e8e8e8" stroke="#111" stroke-width="1.3"/>
<circle cx="278.2" cy="623.4" r="4.6" fill="#e8e8e8" stroke="#111" stroke-width="1.3"/>
<circle cx="119.9" cy="625.4" r="2.65" fill="#909090" stroke="#1e1e1e" stroke-width="1.0"/>
<circle cx="207.7" cy="613.3" r="2.65" fill="#909090" stroke="#1e1e1e" stroke-width="1.0"/>
<circle cx="248.6" cy="746.5" r="4.6" fill="#e8e8e8" stroke="#111" stroke-width="1.3"/>
<circle cx="259.5" cy="789.6" r="4.6" fill="#e8e8e8" stroke="#111" stroke-width="1.3"/>
<circle cx="184.2" cy="580.4" r="2.65" fill="#909090" stroke="#1e1e1e" stroke-width="1.0"/>
<circle cx="217.9" cy="766.2" r="2.65" fill="#909090" stroke="#1e1e1e" stroke-width="1.0"/>
<circle cx="171.8" cy="668.9" r="2.65" fill="#909090" stroke="#1e1e1e" stroke-width="1.0"/>
<circle cx="234.7" cy="741.4" r="2.65" fill="#909090" stroke="#1e1e1e" stroke-width="1.0"/>
<circle cx="168.4" cy="678.4" r="4.6" fill="#e8e8e8" stroke="#111" stroke-width="1.3"/>
<circle cx="171.8" cy="530.8" r="2.65" fill="#909090" stroke="#1e1e1e" stroke-width="1.0"/>
<circle cx="213.5" cy="648.5" r="2.65" fill="#909090" stroke="#1e1e1e" stroke-width="1.0"/>
<circle cx="239.1" cy="703.2" r="4.6" fill="#e8e8e8" stroke="#111" stroke-width="1.3"/>
<circle cx="149.9" cy="666.0" r="2.65" fill="#909090" stroke="#1e1e1e" stroke-width="1.0"/>
<circle cx="316.9" cy="513.1" r="4.6" fill="#e8e8e8" stroke="#111" stroke-width="1.3"/>
<circle cx="255.9" cy="654.3" r="2.65" fill="#909090" stroke="#1e1e1e" stroke-width="1.0"/>
<circle cx="114.5" cy="570.6" r="2.65" fill="#909090" stroke="#1e1e1e" stroke-width="1.0"/>
<circle cx="249.3" cy="794.7" r="4.6" fill="#e8e8e8" stroke="#111" stroke-width="1.3"/>
<circle cx="253.7" cy="666.7" r="2.65" fill="#909090" stroke="#1e1e1e" stroke-width="1.0"/>
<circle cx="255.2" cy="496.6" r="2.65" fill="#909090" stroke="#1e1e1e" stroke-width="1.0"/>
<circle cx="159.1" cy="439.6" r="2.65" fill="#909090" stroke="#1e1e1e" stroke-width="1.0"/>
<circle cx="263.6" cy="599.4" r="4.6" fill="#e8e8e8" stroke="#111" stroke-width="1.3"/>
<circle cx="128.7" cy="666.0" r="2.65" fill="#909090" stroke="#1e1e1e" stroke-width="1.0"/>
<circle cx="230.3" cy="485.2" r="2.65" fill="#909090" stroke="#1e1e1e" stroke-width="1.0"/>
<circle cx="262.5" cy="770.6" r="4.6" fill="#e8e8e8" stroke="#111" stroke-width="1.3"/>
<circle cx="179.1" cy="679.9" r="2.65" fill="#909090" stroke="#1e1e1e" stroke-width="1.0"/>
<circle cx="217.2" cy="740.7" r="2.65" fill="#909090" stroke="#1e1e1e" stroke-width="1.0"/>
<circle cx="201.9" cy="617.1" r="2.65" fill="#909090" stroke="#1e1e1e" stroke-width="1.0"/>
<circle cx="294.0" cy="715.8" r="4.6" fill="#e8e8e8" stroke="#111" stroke-width="1.3"/>
<circle cx="237.6" cy="764.7" r="2.65" fill="#909090" stroke="#1e1e1e" stroke-width="1.0"/>
<circle cx="129.1" cy="715.1" r="2.65" fill="#909090" stroke="#1e1e1e" stroke-width="1.0"/>
<circle cx="238.4" cy="838.4" r="4.6" fill="#e8e8e8" stroke="#111" stroke-width="1.3"/>
<circle cx="187.5" cy="631.0" r="2.65" fill="#909090" stroke="#1e1e1e" stroke-width="1.0"/>
<circle cx="165.9" cy="697.4" r="2.65" fill="#909090" stroke="#1e1e1e" stroke-width="1.0"/>
<circle cx="267.6" cy="733.4" r="2.65" fill="#909090" stroke="#1e1e1e" stroke-width="1.0"/>
<circle cx="165.9" cy="666.7" r="2.65" fill="#909090" stroke="#1e1e1e" stroke-width="1.0"/>
<circle cx="184.6" cy="456.1" r="2.65" fill="#909090" stroke="#1e1e1e" stroke-width="1.0"/>
<circle cx="308.6" cy="800.5" r="4.6" fill="#e8e8e8" stroke="#111" stroke-width="1.3"/>
<circle cx="212.8" cy="576.8" r="2.65" fill="#909090" stroke="#1e1e1e" stroke-width="1.0"/>
<circle cx="275.6" cy="672.6" r="4.6" fill="#e8e8e8" stroke="#111" stroke-width="1.3"/>
<circle cx="270.5" cy="684.3" r="4.6" fill="#e8e8e8" stroke="#111" stroke-width="1.3"/>
<circle cx="218.7" cy="687.9" r="2.65" fill="#909090" stroke="#1e1e1e" stroke-width="1.0"/>
<circle cx="189.5" cy="769.9" r="4.6" fill="#e8e8e8" stroke="#111" stroke-width="1.3"/>
<circle cx="189.5" cy="715.8" r="4.6" fill="#e8e8e8" stroke="#111" stroke-width="1.3"/>
<circle cx="261.0" cy="708.4" r="2.65" fill="#909090" stroke="#1e1e1e" stroke-width="1.0"/>
<circle cx="226.0" cy="704.0" r="2.65" fill="#909090" stroke="#1e1e1e" stroke-width="1.0"/>
<circle cx="105.3" cy="615.6" r="2.65" fill="#909090" stroke="#1e1e1e" stroke-width="1.0"/>
<circle cx="289.6" cy="764.7" r="4.6" fill="#e8e8e8" stroke="#111" stroke-width="1.3"/>
<circle cx="231.1" cy="678.4" r="4.6" fill="#e8e8e8" stroke="#111" stroke-width="1.3"/>
<circle cx="272.7" cy="705.4" r="2.65" fill="#909090" stroke="#1e1e1e" stroke-width="1.0"/>
<circle cx="148.4" cy="691.6" r="2.65" fill="#909090" stroke="#1e1e1e" stroke-width="1.0"/>
<circle cx="246.7" cy="568.5" r="2.65" fill="#909090" stroke="#1e1e1e" stroke-width="1.0"/>
<circle cx="231.8" cy="764.7" r="2.65" fill="#909090" stroke="#1e1e1e" stroke-width="1.0"/>
<circle cx="240.6" cy="691.6" r="2.65" fill="#909090" stroke="#1e1e1e" stroke-width="1.0"/>
<circle cx="146.9" cy="560.7" r="2.65" fill="#909090" stroke="#1e1e1e" stroke-width="1.0"/>
<circle cx="216.5" cy="617.8" r="4.6" fill="#e8e8e8" stroke="#111" stroke-width="1.3"/>
<circle cx="168.8" cy="774.2" r="2.65" fill="#909090" stroke="#1e1e1e" stroke-width="1.0"/>
<circle cx="324.2" cy="650.7" r="2.65" fill="#909090" stroke="#1e1e1e" stroke-width="1.0"/>
<circle cx="139.6" cy="691.6" r="2.65" fill="#909090" stroke="#1e1e1e" stroke-width="1.0"/>
<circle cx="186.4" cy="679.2" r="2.65" fill="#909090" stroke="#1e1e1e" stroke-width="1.0"/>
<circle cx="171.0" cy="511.2" r="2.65" fill="#909090" stroke="#1e1e1e" stroke-width="1.0"/>
<circle cx="280.0" cy="696.7" r="4.6" fill="#e8e8e8" stroke="#111" stroke-width="1.3"/>
<circle cx="227.4" cy="552.7" r="2.65" fill="#909090" stroke="#1e1e1e" stroke-width="1.0"/>
<circle cx="202.6" cy="587.7" r="2.65" fill="#909090" stroke="#1e1e1e" stroke-width="1.0"/>
<circle cx="176.1" cy="806.4" r="4.6" fill="#e8e8e8" stroke="#111" stroke-width="1.3"/>
<circle cx="129.1" cy="599.4" r="2.65" fill="#909090" stroke="#1e1e1e" stroke-width="1.0"/>
<circle cx="192.4" cy="697.4" r="4.6" fill="#e8e8e8" stroke="#111" stroke-width="1.3"/>
<circle cx="187.8" cy="747.2" r="4.6" fill="#e8e8e8" stroke="#111" stroke-width="1.3"/>
<circle cx="142.6" cy="666.0" r="2.65" fill="#909090" stroke="#1e1e1e" stroke-width="1.0"/>
<circle cx="167.1" cy="488.6" r="2.65" fill="#909090" stroke="#1e1e1e" stroke-width="1.0"/>
<circle cx="229.3" cy="486.4" r="2.65" fill="#909090" stroke="#1e1e1e" stroke-width="1.0"/>
<circle cx="126.5" cy="703.2" r="4.6" fill="#e8e8e8" stroke="#111" stroke-width="1.3"/>
<circle cx="184.9" cy="642.9" r="2.65" fill="#909090" stroke="#1e1e1e" stroke-width="1.0"/>
<circle cx="183.4" cy="610.4" r="2.65" fill="#909090" stroke="#1e1e1e" stroke-width="1.0"/>
<circle cx="151.3" cy="678.9" r="4.6" fill="#e8e8e8" stroke="#111" stroke-width="1.3"/>
<circle cx="226.0" cy="638.3" r="2.65" fill="#909090" stroke="#1e1e1e" stroke-width="1.0"/>
<circle cx="241.3" cy="677.7" r="2.65" fill="#909090" stroke="#1e1e1e" stroke-width="1.0"/>
<circle cx="151.3" cy="741.4" r="2.65" fill="#909090" stroke="#1e1e1e" stroke-width="1.0"/>
<circle cx="212.5" cy="484.3" r="2.65" fill="#909090" stroke="#1e1e1e" stroke-width="1.0"/>
<circle cx="228.1" cy="556.3" r="2.65" fill="#909090" stroke="#1e1e1e" stroke-width="1.0"/>
<circle cx="272.7" cy="666.0" r="4.6" fill="#e8e8e8" stroke="#111" stroke-width="1.3"/>
<circle cx="164.2" cy="734.1" r="4.6" fill="#e8e8e8" stroke="#111" stroke-width="1.3"/>
<circle cx="240.6" cy="580.4" r="4.6" fill="#e8e8e8" stroke="#111" stroke-width="1.3"/>
<circle cx="168.8" cy="711.5" r="2.65" fill="#909090" stroke="#1e1e1e" stroke-width="1.0"/>
<circle cx="259.5" cy="513.1" r="4.6" fill="#e8e8e8" stroke="#111" stroke-width="1.3"/>
<circle cx="250.0" cy="550.5" r="4.6" fill="#e8e8e8" stroke="#111" stroke-width="1.3"/>
<circle cx="178.3" cy="813.8" r="4.6" fill="#e8e8e8" stroke="#111" stroke-width="1.3"/>
<circle cx="157.2" cy="685.7" r="2.65" fill="#909090" stroke="#1e1e1e" stroke-width="1.0"/>
<circle cx="246.4" cy="581.2" r="2.65" fill="#909090" stroke="#1e1e1e" stroke-width="1.0"/>
<circle cx="145.5" cy="715.8" r="2.65" fill="#909090" stroke="#1e1e1e" stroke-width="1.0"/>
<circle cx="245.7" cy="654.3" r="2.65" fill="#909090" stroke="#1e1e1e" stroke-width="1.0"/>
<circle cx="236.2" cy="623.7" r="2.65" fill="#909090" stroke="#1e1e1e" stroke-width="1.0"/>
<circle cx="227.4" cy="771.3" r="2.65" fill="#909090" stroke="#1e1e1e" stroke-width="1.0"/>
<circle cx="227.4" cy="765.5" r="2.65" fill="#909090" stroke="#1e1e1e" stroke-width="1.0"/>
<circle cx="99.5" cy="658.7" r="2.65" fill="#909090" stroke="#1e1e1e" stroke-width="1.0"/>
<circle cx="242.7" cy="660.2" r="2.65" fill="#909090" stroke="#1e1e1e" stroke-width="1.0"/>
<circle cx="210.2" cy="446.9" r="2.65" fill="#909090" stroke="#1e1e1e" stroke-width="1.0"/>
<circle cx="233.7" cy="536.9" r="2.65" fill="#909090" stroke="#1e1e1e" stroke-width="1.0"/>
<circle cx="258.1" cy="647.8" r="4.6" fill="#e8e8e8" stroke="#111" stroke-width="1.3"/>
<circle cx="210.6" cy="779.3" r="2.65" fill="#909090" stroke="#1e1e1e" stroke-width="1.0"/>
<circle cx="237.6" cy="806.4" r="4.6" fill="#e8e8e8" stroke="#111" stroke-width="1.3"/>
<circle cx="142.6" cy="680.6" r="2.65" fill="#909090" stroke="#1e1e1e" stroke-width="1.0"/>
<circle cx="208.4" cy="623.7" r="2.65" fill="#909090" stroke="#1e1e1e" stroke-width="1.0"/>
<circle cx="247.9" cy="704.0" r="4.6" fill="#e8e8e8" stroke="#111" stroke-width="1.3"/>
<circle cx="255.9" cy="690.8" r="4.6" fill="#e8e8e8" stroke="#111" stroke-width="1.3"/>
<circle cx="104.3" cy="764.7" r="4.6" fill="#e8e8e8" stroke="#111" stroke-width="1.3"/>
<circle cx="151.3" cy="459.8" r="2.65" fill="#909090" stroke="#1e1e1e" stroke-width="1.0"/>
<circle cx="206.2" cy="517.2" r="2.65" fill="#909090" stroke="#1e1e1e" stroke-width="1.0"/>
<circle cx="179.8" cy="578.2" r="2.65" fill="#909090" stroke="#1e1e1e" stroke-width="1.0"/>
<circle cx="136.7" cy="635.4" r="2.65" fill="#909090" stroke="#1e1e1e" stroke-width="1.0"/>
<circle cx="255.2" cy="450.7" r="2.65" fill="#909090" stroke="#1e1e1e" stroke-width="1.0"/>
<circle cx="127.2" cy="638.3" r="2.65" fill="#909090" stroke="#1e1e1e" stroke-width="1.0"/>
<circle cx="152.8" cy="693.8" r="2.65" fill="#909090" stroke="#1e1e1e" stroke-width="1.0"/>
<circle cx="142.6" cy="641.2" r="2.65" fill="#909090" stroke="#1e1e1e" stroke-width="1.0"/>
<circle cx="210.6" cy="581.6" r="2.65" fill="#909090" stroke="#1e1e1e" stroke-width="1.0"/>
<circle cx="134.8" cy="641.9" r="4.6" fill="#e8e8e8" stroke="#111" stroke-width="1.3"/>
<circle cx="231.8" cy="616.4" r="2.65" fill="#909090" stroke="#1e1e1e" stroke-width="1.0"/>
<circle cx="227.1" cy="611.1" r="4.6" fill="#e8e8e8" stroke="#111" stroke-width="1.3"/>
<circle cx="215.0" cy="783.0" r="4.6" fill="#e8e8e8" stroke="#111" stroke-width="1.3"/>
<circle cx="157.9" cy="732.2" r="2.65" fill="#909090" stroke="#1e1e1e" stroke-width="1.0"/>
<circle cx="223.8" cy="696.7" r="4.6" fill="#e8e8e8" stroke="#111" stroke-width="1.3"/>
<circle cx="166.6" cy="832.1" r="4.6" fill="#e8e8e8" stroke="#111" stroke-width="1.3"/>
<circle cx="193.8" cy="825.8" r="4.6" fill="#e8e8e8" stroke="#111" stroke-width="1.3"/>
<circle cx="218.7" cy="582.6" r="2.65" fill="#909090" stroke="#1e1e1e" stroke-width="1.0"/>
<circle cx="149.9" cy="641.2" r="2.65" fill="#909090" stroke="#1e1e1e" stroke-width="1.0"/>
<circle cx="136.1" cy="573.1" r="2.65" fill="#909090" stroke="#1e1e1e" stroke-width="1.0"/>
<circle cx="161.5" cy="703.2" r="2.65" fill="#909090" stroke="#1e1e1e" stroke-width="1.0"/>
<circle cx="250.8" cy="613.3" r="2.65" fill="#909090" stroke="#1e1e1e" stroke-width="1.0"/>
<circle cx="149.9" cy="770.6" r="2.65" fill="#909090" stroke="#1e1e1e" stroke-width="1.0"/>
<circle cx="247.9" cy="679.2" r="2.65" fill="#909090" stroke="#1e1e1e" stroke-width="1.0"/>
<circle cx="197.5" cy="740.7" r="2.65" fill="#909090" stroke="#1e1e1e" stroke-width="1.0"/>
<circle cx="256.6" cy="617.1" r="2.65" fill="#909090" stroke="#1e1e1e" stroke-width="1.0"/>
<circle cx="243.5" cy="685.0" r="2.65" fill="#909090" stroke="#1e1e1e" stroke-width="1.0"/>
<circle cx="129.4" cy="728.2" r="2.65" fill="#909090" stroke="#1e1e1e" stroke-width="1.0"/>
<circle cx="241.3" cy="609.6" r="2.65" fill="#909090" stroke="#1e1e1e" stroke-width="1.0"/>
<circle cx="225.2" cy="576.5" r="2.65" fill="#909090" stroke="#1e1e1e" stroke-width="1.0"/>
<circle cx="268.3" cy="696.7" r="4.6" fill="#e8e8e8" stroke="#111" stroke-width="1.3"/>
<circle cx="114.8" cy="608.9" r="2.65" fill="#909090" stroke="#1e1e1e" stroke-width="1.0"/>
<circle cx="117.7" cy="703.2" r="4.6" fill="#e8e8e8" stroke="#111" stroke-width="1.3"/>
<circle cx="275.6" cy="690.8" r="4.6" fill="#e8e8e8" stroke="#111" stroke-width="1.3"/>
<circle cx="282.9" cy="690.1" r="4.6" fill="#e8e8e8" stroke="#111" stroke-width="1.3"/>
<circle cx="259.5" cy="678.4" r="4.6" fill="#e8e8e8" stroke="#111" stroke-width="1.3"/>
<circle cx="251.5" cy="588.5" r="2.65" fill="#909090" stroke="#1e1e1e" stroke-width="1.0"/>
<circle cx="145.5" cy="611.5" r="2.65" fill="#909090" stroke="#1e1e1e" stroke-width="1.0"/>
<circle cx="185.6" cy="721.7" r="2.65" fill="#909090" stroke="#1e1e1e" stroke-width="1.0"/>
<circle cx="103.1" cy="691.6" r="2.65" fill="#909090" stroke="#1e1e1e" stroke-width="1.0"/>
<circle cx="251.5" cy="445.2" r="2.65" fill="#909090" stroke="#1e1e1e" stroke-width="1.0"/>
<circle cx="268.3" cy="715.8" r="4.6" fill="#e8e8e8" stroke="#111" stroke-width="1.3"/>
<circle cx="242.0" cy="667.5" r="2.65" fill="#909090" stroke="#1e1e1e" stroke-width="1.0"/>
<circle cx="206.2" cy="546.6" r="2.65" fill="#909090" stroke="#1e1e1e" stroke-width="1.0"/>
<circle cx="205.8" cy="573.9" r="2.65" fill="#909090" stroke="#1e1e1e" stroke-width="1.0"/>
<circle cx="116.3" cy="655.1" r="2.65" fill="#909090" stroke="#1e1e1e" stroke-width="1.0"/>
<circle cx="243.5" cy="764.7" r="2.65" fill="#909090" stroke="#1e1e1e" stroke-width="1.0"/>
<circle cx="222.3" cy="708.4" r="4.6" fill="#e8e8e8" stroke="#111" stroke-width="1.3"/>
<circle cx="239.5" cy="523.5" r="2.65" fill="#909090" stroke="#1e1e1e" stroke-width="1.0"/>
<circle cx="272.7" cy="622.9" r="2.65" fill="#909090" stroke="#1e1e1e" stroke-width="1.0"/>
<circle cx="230.3" cy="654.3" r="2.65" fill="#909090" stroke="#1e1e1e" stroke-width="1.0"/>
<circle cx="234.0" cy="607.4" r="2.65" fill="#909090" stroke="#1e1e1e" stroke-width="1.0"/>
<circle cx="184.9" cy="587.7" r="2.65" fill="#909090" stroke="#1e1e1e" stroke-width="1.0"/>
<circle cx="236.2" cy="611.1" r="2.65" fill="#909090" stroke="#1e1e1e" stroke-width="1.0"/>
<circle cx="211.4" cy="708.4" r="4.6" fill="#e8e8e8" stroke="#111" stroke-width="1.3"/>
<circle cx="182.7" cy="654.3" r="4.6" fill="#e8e8e8" stroke="#111" stroke-width="1.3"/>
<circle cx="250.8" cy="622.9" r="2.65" fill="#909090" stroke="#1e1e1e" stroke-width="1.0"/>
<circle cx="263.9" cy="618.6" r="2.65" fill="#909090" stroke="#1e1e1e" stroke-width="1.0"/>
<circle cx="259.5" cy="515.5" r="4.6" fill="#e8e8e8" stroke="#111" stroke-width="1.3"/>
<circle cx="211.4" cy="803.4" r="2.65" fill="#909090" stroke="#1e1e1e" stroke-width="1.0"/>
<circle cx="198.9" cy="699.6" r="2.65" fill="#909090" stroke="#1e1e1e" stroke-width="1.0"/>
<circle cx="179.1" cy="621.5" r="2.65" fill="#909090" stroke="#1e1e1e" stroke-width="1.0"/>
<circle cx="223.0" cy="623.7" r="2.65" fill="#909090" stroke="#1e1e1e" stroke-width="1.0"/>
<circle cx="139.6" cy="668.2" r="2.65" fill="#909090" stroke="#1e1e1e" stroke-width="1.0"/>
<circle cx="315.9" cy="752.3" r="4.6" fill="#e8e8e8" stroke="#111" stroke-width="1.3"/>
<circle cx="156.4" cy="654.3" r="2.65" fill="#909090" stroke="#1e1e1e" stroke-width="1.0"/>
<circle cx="184.2" cy="742.8" r="2.65" fill="#909090" stroke="#1e1e1e" stroke-width="1.0"/>
<circle cx="313.4" cy="727.5" r="4.6" fill="#e8e8e8" stroke="#111" stroke-width="1.3"/>
<circle cx="227.4" cy="566.6" r="2.65" fill="#909090" stroke="#1e1e1e" stroke-width="1.0"/>
<circle cx="236.5" cy="494.8" r="2.65" fill="#909090" stroke="#1e1e1e" stroke-width="1.0"/>
<circle cx="208.0" cy="526.7" r="2.65" fill="#909090" stroke="#1e1e1e" stroke-width="1.0"/>
<circle cx="281.4" cy="729.0" r="4.6" fill="#e8e8e8" stroke="#111" stroke-width="1.3"/>
<circle cx="142.6" cy="711.3" r="2.65" fill="#909090" stroke="#1e1e1e" stroke-width="1.0"/>
<circle cx="106.1" cy="687.9" r="2.65" fill="#909090" stroke="#1e1e1e" stroke-width="1.0"/>
<circle cx="134.5" cy="808.5" r="2.65" fill="#909090" stroke="#1e1e1e" stroke-width="1.0"/>
<circle cx="190.2" cy="622.2" r="2.65" fill="#909090" stroke="#1e1e1e" stroke-width="1.0"/>
<circle cx="171.8" cy="619.3" r="2.65" fill="#909090" stroke="#1e1e1e" stroke-width="1.0"/>
<circle cx="262.5" cy="650.0" r="2.65" fill="#909090" stroke="#1e1e1e" stroke-width="1.0"/>
<circle cx="114.8" cy="614.2" r="2.65" fill="#909090" stroke="#1e1e1e" stroke-width="1.0"/>
<circle cx="249.3" cy="614.9" r="2.65" fill="#909090" stroke="#1e1e1e" stroke-width="1.0"/>
<circle cx="123.6" cy="711.3" r="2.65" fill="#909090" stroke="#1e1e1e" stroke-width="1.0"/>
<circle cx="383.1" cy="678.4" r="4.6" fill="#e8e8e8" stroke="#111" stroke-width="1.3"/>
<circle cx="122.8" cy="678.4" r="2.65" fill="#909090" stroke="#1e1e1e" stroke-width="1.0"/>
<circle cx="209.9" cy="837.9" r="4.6" fill="#e8e8e8" stroke="#111" stroke-width="1.3"/>
<circle cx="244.6" cy="473.4" r="2.65" fill="#909090" stroke="#1e1e1e" stroke-width="1.0"/>
<circle cx="156.4" cy="565.8" r="2.65" fill="#909090" stroke="#1e1e1e" stroke-width="1.0"/>
<circle cx="281.4" cy="483.2" r="4.6" fill="#e8e8e8" stroke="#111" stroke-width="1.3"/>
<circle cx="173.9" cy="734.1" r="4.6" fill="#e8e8e8" stroke="#111" stroke-width="1.3"/>
<circle cx="228.9" cy="831.4" r="4.6" fill="#e8e8e8" stroke="#111" stroke-width="1.3"/>
<circle cx="239.8" cy="711.2" r="4.6" fill="#e8e8e8" stroke="#111" stroke-width="1.3"/>
<circle cx="256.6" cy="638.3" r="2.65" fill="#909090" stroke="#1e1e1e" stroke-width="1.0"/>
<circle cx="151.3" cy="720.9" r="2.65" fill="#909090" stroke="#1e1e1e" stroke-width="1.0"/>
<circle cx="237.6" cy="626.6" r="2.65" fill="#909090" stroke="#1e1e1e" stroke-width="1.0"/>
<circle cx="141.4" cy="565.5" r="2.65" fill="#909090" stroke="#1e1e1e" stroke-width="1.0"/>
<circle cx="194.6" cy="569.8" r="2.65" fill="#909090" stroke="#1e1e1e" stroke-width="1.0"/>
<circle cx="277.8" cy="734.1" r="4.6" fill="#e8e8e8" stroke="#111" stroke-width="1.3"/>
<circle cx="220.1" cy="758.2" r="4.6" fill="#e8e8e8" stroke="#111" stroke-width="1.3"/>
<circle cx="213.5" cy="613.5" r="2.65" fill="#909090" stroke="#1e1e1e" stroke-width="1.0"/>
<circle cx="249.3" cy="758.2" r="2.65" fill="#909090" stroke="#1e1e1e" stroke-width="1.0"/>
<circle cx="176.9" cy="511.2" r="2.65" fill="#909090" stroke="#1e1e1e" stroke-width="1.0"/>
<circle cx="204.1" cy="737.7" r="2.65" fill="#909090" stroke="#1e1e1e" stroke-width="1.0"/>
<circle cx="170.3" cy="709.8" r="2.65" fill="#909090" stroke="#1e1e1e" stroke-width="1.0"/>
<circle cx="100.5" cy="777.4" r="2.65" fill="#909090" stroke="#1e1e1e" stroke-width="1.0"/>
<circle cx="231.1" cy="838.4" r="2.65" fill="#909090" stroke="#1e1e1e" stroke-width="1.0"/>
<circle cx="205.5" cy="704.0" r="4.6" fill="#e8e8e8" stroke="#111" stroke-width="1.3"/>
<circle cx="261.7" cy="795.4" r="4.6" fill="#e8e8e8" stroke="#111" stroke-width="1.3"/>
<circle cx="333.4" cy="813.8" r="4.6" fill="#e8e8e8" stroke="#111" stroke-width="1.3"/>
<circle cx="237.6" cy="701.1" r="2.65" fill="#909090" stroke="#1e1e1e" stroke-width="1.0"/>
<circle cx="152.8" cy="689.4" r="2.65" fill="#909090" stroke="#1e1e1e" stroke-width="1.0"/>
<circle cx="246.4" cy="794.7" r="4.6" fill="#e8e8e8" stroke="#111" stroke-width="1.3"/>
<circle cx="270.9" cy="520.1" r="2.65" fill="#909090" stroke="#1e1e1e" stroke-width="1.0"/>
<circle cx="192.4" cy="794.7" r="4.6" fill="#e8e8e8" stroke="#111" stroke-width="1.3"/>
<circle cx="147.7" cy="776.4" r="2.65" fill="#909090" stroke="#1e1e1e" stroke-width="1.0"/>
<circle cx="121.4" cy="713.2" r="2.65" fill="#909090" stroke="#1e1e1e" stroke-width="1.0"/>
<circle cx="280.7" cy="654.3" r="4.6" fill="#e8e8e8" stroke="#111" stroke-width="1.3"/>
<circle cx="269.0" cy="752.3" r="4.6" fill="#e8e8e8" stroke="#111" stroke-width="1.3"/>
<circle cx="220.8" cy="576.0" r="2.65" fill="#909090" stroke="#1e1e1e" stroke-width="1.0"/>
<circle cx="231.8" cy="647.8" r="2.65" fill="#909090" stroke="#1e1e1e" stroke-width="1.0"/>
<circle cx="188.7" cy="631.0" r="2.65" fill="#909090" stroke="#1e1e1e" stroke-width="1.0"/>
<circle cx="269.0" cy="642.7" r="4.6" fill="#e8e8e8" stroke="#111" stroke-width="1.3"/>
<circle cx="300.6" cy="794.7" r="4.6" fill="#e8e8e8" stroke="#111" stroke-width="1.3"/>
<circle cx="239.1" cy="588.5" r="2.65" fill="#909090" stroke="#1e1e1e" stroke-width="1.0"/>
<circle cx="130.1" cy="685.0" r="4.6" fill="#e8e8e8" stroke="#111" stroke-width="1.3"/>
<circle cx="184.2" cy="702.5" r="4.6" fill="#e8e8e8" stroke="#111" stroke-width="1.3"/>
<circle cx="225.2" cy="788.8" r="4.6" fill="#e8e8e8" stroke="#111" stroke-width="1.3"/>
<circle cx="169.6" cy="630.7" r="2.65" fill="#909090" stroke="#1e1e1e" stroke-width="1.0"/>
<circle cx="239.1" cy="508.8" r="2.65" fill="#909090" stroke="#1e1e1e" stroke-width="1.0"/>
<circle cx="231.8" cy="710.7" r="4.6" fill="#e8e8e8" stroke="#111" stroke-width="1.3"/>
<circle cx="234.0" cy="523.5" r="2.65" fill="#909090" stroke="#1e1e1e" stroke-width="1.0"/>
<circle cx="178.3" cy="584.8" r="2.65" fill="#909090" stroke="#1e1e1e" stroke-width="1.0"/>
<circle cx="170.0" cy="490.0" r="2.65" fill="#909090" stroke="#1e1e1e" stroke-width="1.0"/>
<circle cx="207.7" cy="616.4" r="2.65" fill="#909090" stroke="#1e1e1e" stroke-width="1.0"/>
<circle cx="267.6" cy="806.4" r="4.6" fill="#e8e8e8" stroke="#111" stroke-width="1.3"/>
<circle cx="122.8" cy="671.9" r="2.65" fill="#909090" stroke="#1e1e1e" stroke-width="1.0"/>
<circle cx="116.3" cy="756.7" r="2.65" fill="#909090" stroke="#1e1e1e" stroke-width="1.0"/>
<circle cx="186.4" cy="690.8" r="2.65" fill="#909090" stroke="#1e1e1e" stroke-width="1.0"/>
<circle cx="262.5" cy="820.0" r="4.6" fill="#e8e8e8" stroke="#111" stroke-width="1.3"/>
<circle cx="231.8" cy="630.2" r="2.65" fill="#909090" stroke="#1e1e1e" stroke-width="1.0"/>
<circle cx="269.8" cy="654.3" r="2.65" fill="#909090" stroke="#1e1e1e" stroke-width="1.0"/>
<circle cx="136.3" cy="532.7" r="2.65" fill="#909090" stroke="#1e1e1e" stroke-width="1.0"/>
<circle cx="179.3" cy="530.1" r="2.65" fill="#909090" stroke="#1e1e1e" stroke-width="1.0"/>
<circle cx="231.8" cy="548.3" r="2.65" fill="#909090" stroke="#1e1e1e" stroke-width="1.0"/>
<circle cx="250.8" cy="685.0" r="2.65" fill="#909090" stroke="#1e1e1e" stroke-width="1.0"/>
<circle cx="294.0" cy="734.1" r="4.6" fill="#e8e8e8" stroke="#111" stroke-width="1.3"/>
<circle cx="154.2" cy="704.0" r="2.65" fill="#909090" stroke="#1e1e1e" stroke-width="1.0"/>
<circle cx="195.0" cy="465.9" r="2.65" fill="#909090" stroke="#1e1e1e" stroke-width="1.0"/>
<circle cx="134.5" cy="809.5" r="2.65" fill="#909090" stroke="#1e1e1e" stroke-width="1.0"/>
<circle cx="228.9" cy="686.5" r="2.65" fill="#909090" stroke="#1e1e1e" stroke-width="1.0"/>
<circle cx="177.6" cy="569.8" r="2.65" fill="#909090" stroke="#1e1e1e" stroke-width="1.0"/>
<circle cx="212.8" cy="636.1" r="2.65" fill="#909090" stroke="#1e1e1e" stroke-width="1.0"/>
<circle cx="174.4" cy="605.2" r="4.6" fill="#e8e8e8" stroke="#111" stroke-width="1.3"/>
<circle cx="127.2" cy="733.4" r="2.65" fill="#909090" stroke="#1e1e1e" stroke-width="1.0"/>
<circle cx="110.4" cy="737.7" r="2.65" fill="#909090" stroke="#1e1e1e" stroke-width="1.0"/>
<circle cx="118.5" cy="568.7" r="2.65" fill="#909090" stroke="#1e1e1e" stroke-width="1.0"/>
<circle cx="240.6" cy="560.7" r="2.65" fill="#909090" stroke="#1e1e1e" stroke-width="1.0"/>
<circle cx="158.6" cy="698.1" r="2.65" fill="#909090" stroke="#1e1e1e" stroke-width="1.0"/>
<circle cx="135.3" cy="690.1" r="2.65" fill="#909090" stroke="#1e1e1e" stroke-width="1.0"/>
<circle cx="272.7" cy="788.8" r="4.6" fill="#e8e8e8" stroke="#111" stroke-width="1.3"/>
<circle cx="154.2" cy="644.8" r="2.65" fill="#909090" stroke="#1e1e1e" stroke-width="1.0"/>
<circle cx="195.0" cy="527.9" r="2.65" fill="#909090" stroke="#1e1e1e" stroke-width="1.0"/>
<circle cx="231.8" cy="738.5" r="2.65" fill="#909090" stroke="#1e1e1e" stroke-width="1.0"/>
<circle cx="242.7" cy="739.2" r="4.6" fill="#e8e8e8" stroke="#111" stroke-width="1.3"/>
<circle cx="196.8" cy="716.6" r="2.65" fill="#909090" stroke="#1e1e1e" stroke-width="1.0"/>
<circle cx="217.9" cy="628.8" r="2.65" fill="#909090" stroke="#1e1e1e" stroke-width="1.0"/>
<circle cx="208.7" cy="606.0" r="2.65" fill="#909090" stroke="#1e1e1e" stroke-width="1.0"/>
<circle cx="217.9" cy="825.5" r="4.6" fill="#e8e8e8" stroke="#111" stroke-width="1.3"/>
<circle cx="113.4" cy="693.0" r="2.65" fill="#909090" stroke="#1e1e1e" stroke-width="1.0"/>
<circle cx="267.9" cy="501.7" r="4.6" fill="#e8e8e8" stroke="#111" stroke-width="1.3"/>
<circle cx="244.9" cy="628.8" r="4.6" fill="#e8e8e8" stroke="#111" stroke-width="1.3"/>
<circle cx="129.7" cy="816.8" r="2.65" fill="#909090" stroke="#1e1e1e" stroke-width="1.0"/>
<circle cx="236.2" cy="753.1" r="4.6" fill="#e8e8e8" stroke="#111" stroke-width="1.3"/>
<circle cx="280.0" cy="679.2" r="2.65" fill="#909090" stroke="#1e1e1e" stroke-width="1.0"/>
<circle cx="201.9" cy="752.3" r="2.65" fill="#909090" stroke="#1e1e1e" stroke-width="1.0"/>
<circle cx="209.9" cy="710.7" r="4.6" fill="#e8e8e8" stroke="#111" stroke-width="1.3"/>
<circle cx="234.7" cy="638.3" r="2.65" fill="#909090" stroke="#1e1e1e" stroke-width="1.0"/>
<circle cx="267.6" cy="739.9" r="4.6" fill="#e8e8e8" stroke="#111" stroke-width="1.3"/>
<circle cx="223.0" cy="667.5" r="2.65" fill="#909090" stroke="#1e1e1e" stroke-width="1.0"/>
<circle cx="151.3" cy="758.9" r="4.6" fill="#e8e8e8" stroke="#111" stroke-width="1.3"/>
<circle cx="194.6" cy="690.8" r="2.65" fill="#909090" stroke="#1e1e1e" stroke-width="1.0"/>
<circle cx="305.7" cy="770.6" r="4.6" fill="#e8e8e8" stroke="#111" stroke-width="1.3"/>
<circle cx="215.7" cy="696.7" r="2.65" fill="#909090" stroke="#1e1e1e" stroke-width="1.0"/>
<circle cx="160.1" cy="676.2" r="2.65" fill="#909090" stroke="#1e1e1e" stroke-width="1.0"/>
<circle cx="122.1" cy="651.4" r="2.65" fill="#909090" stroke="#1e1e1e" stroke-width="1.0"/>
<circle cx="117.7" cy="746.5" r="2.65" fill="#909090" stroke="#1e1e1e" stroke-width="1.0"/>
<circle cx="215.7" cy="573.1" r="2.65" fill="#909090" stroke="#1e1e1e" stroke-width="1.0"/>
<circle cx="146.9" cy="515.8" r="2.65" fill="#909090" stroke="#1e1e1e" stroke-width="1.0"/>
<circle cx="182.0" cy="607.4" r="2.65" fill="#909090" stroke="#1e1e1e" stroke-width="1.0"/>
<circle cx="193.8" cy="660.2" r="2.65" fill="#909090" stroke="#1e1e1e" stroke-width="1.0"/>
<circle cx="205.5" cy="570.9" r="2.65" fill="#909090" stroke="#1e1e1e" stroke-width="1.0"/>
<circle cx="282.9" cy="708.4" r="4.6" fill="#e8e8e8" stroke="#111" stroke-width="1.3"/>
<circle cx="239.1" cy="746.5" r="4.6" fill="#e8e8e8" stroke="#111" stroke-width="1.3"/>
<circle cx="247.9" cy="669.7" r="2.65" fill="#909090" stroke="#1e1e1e" stroke-width="1.0"/>
<circle cx="230.3" cy="693.0" r="2.65" fill="#909090" stroke="#1e1e1e" stroke-width="1.0"/>
<circle cx="230.3" cy="667.5" r="2.65" fill="#909090" stroke="#1e1e1e" stroke-width="1.0"/>
<circle cx="287.3" cy="764.0" r="4.6" fill="#e8e8e8" stroke="#111" stroke-width="1.3"/>
<circle cx="162.3" cy="715.8" r="4.6" fill="#e8e8e8" stroke="#111" stroke-width="1.3"/>
<circle cx="144.7" cy="686.5" r="2.65" fill="#909090" stroke="#1e1e1e" stroke-width="1.0"/>
<circle cx="221.3" cy="510.9" r="2.65" fill="#909090" stroke="#1e1e1e" stroke-width="1.0"/>
<circle cx="154.2" cy="709.8" r="2.65" fill="#909090" stroke="#1e1e1e" stroke-width="1.0"/>
<circle cx="185.6" cy="524.7" r="2.65" fill="#909090" stroke="#1e1e1e" stroke-width="1.0"/>
<circle cx="237.6" cy="758.9" r="4.6" fill="#e8e8e8" stroke="#111" stroke-width="1.3"/>
<circle cx="247.1" cy="595.8" r="2.65" fill="#909090" stroke="#1e1e1e" stroke-width="1.0"/>
<circle cx="128.7" cy="570.9" r="2.65" fill="#909090" stroke="#1e1e1e" stroke-width="1.0"/>
<circle cx="204.5" cy="437.5" r="2.65" fill="#909090" stroke="#1e1e1e" stroke-width="1.0"/>
<circle cx="228.9" cy="671.1" r="2.65" fill="#909090" stroke="#1e1e1e" stroke-width="1.0"/>
<circle cx="122.1" cy="788.8" r="4.6" fill="#e8e8e8" stroke="#111" stroke-width="1.3"/>
<circle cx="219.4" cy="590.6" r="2.65" fill="#909090" stroke="#1e1e1e" stroke-width="1.0"/>
<circle cx="329.1" cy="727.5" r="4.6" fill="#e8e8e8" stroke="#111" stroke-width="1.3"/>
<circle cx="141.1" cy="658.7" r="2.65" fill="#909090" stroke="#1e1e1e" stroke-width="1.0"/>
<circle cx="213.5" cy="589.2" r="2.65" fill="#909090" stroke="#1e1e1e" stroke-width="1.0"/>
<circle cx="326.9" cy="740.7" r="4.6" fill="#e8e8e8" stroke="#111" stroke-width="1.3"/>
<circle cx="250.8" cy="673.3" r="2.65" fill="#909090" stroke="#1e1e1e" stroke-width="1.0"/>
<circle cx="174.7" cy="721.7" r="4.6" fill="#e8e8e8" stroke="#111" stroke-width="1.3"/>
<circle cx="201.9" cy="728.2" r="4.6" fill="#e8e8e8" stroke="#111" stroke-width="1.3"/>
<circle cx="281.4" cy="710.7" r="4.6" fill="#e8e8e8" stroke="#111" stroke-width="1.3"/>
<circle cx="131.6" cy="721.7" r="4.6" fill="#e8e8e8" stroke="#111" stroke-width="1.3"/>
<circle cx="99.5" cy="630.7" r="2.65" fill="#909090" stroke="#1e1e1e" stroke-width="1.0"/>
<circle cx="112.6" cy="666.3" r="4.6" fill="#e8e8e8" stroke="#111" stroke-width="1.3"/>
<circle cx="208.4" cy="728.7" r="2.65" fill="#909090" stroke="#1e1e1e" stroke-width="1.0"/>
<circle cx="163.0" cy="673.3" r="2.65" fill="#909090" stroke="#1e1e1e" stroke-width="1.0"/>
<circle cx="102.8" cy="720.5" r="2.65" fill="#909090" stroke="#1e1e1e" stroke-width="1.0"/>
<circle cx="269.8" cy="426.2" r="2.65" fill="#909090" stroke="#1e1e1e" stroke-width="1.0"/>
<circle cx="203.3" cy="776.4" r="2.65" fill="#909090" stroke="#1e1e1e" stroke-width="1.0"/>
<circle cx="143.7" cy="573.6" r="2.65" fill="#909090" stroke="#1e1e1e" stroke-width="1.0"/>
<circle cx="257.3" cy="746.2" r="2.65" fill="#909090" stroke="#1e1e1e" stroke-width="1.0"/>
<circle cx="243.5" cy="801.2" r="4.6" fill="#e8e8e8" stroke="#111" stroke-width="1.3"/>
<circle cx="176.1" cy="715.1" r="4.6" fill="#e8e8e8" stroke="#111" stroke-width="1.3"/>
<circle cx="282.9" cy="770.6" r="4.6" fill="#e8e8e8" stroke="#111" stroke-width="1.3"/>
<circle cx="217.2" cy="654.3" r="2.65" fill="#909090" stroke="#1e1e1e" stroke-width="1.0"/>
<circle cx="224.5" cy="563.9" r="2.65" fill="#909090" stroke="#1e1e1e" stroke-width="1.0"/>
<circle cx="275.6" cy="714.4" r="2.65" fill="#909090" stroke="#1e1e1e" stroke-width="1.0"/>
<circle cx="268.3" cy="758.9" r="4.6" fill="#e8e8e8" stroke="#111" stroke-width="1.3"/>
<circle cx="133.8" cy="666.7" r="2.65" fill="#909090" stroke="#1e1e1e" stroke-width="1.0"/>
</g>
<rect x="92" y="415.8" width="294.3" height="489.49999999999994" fill="none" stroke="#111" stroke-width="2"/>
<line x1="85.5" y1="415.8" x2="92" y2="415.8" stroke="#222" stroke-width="1.2"/>
<line x1="386.3" y1="415.8" x2="392.8" y2="415.8" stroke="#222" stroke-width="1.2"/>
<text transform="translate(79.5,421.40000000000003) scale(1.04,1)" font-size="15.5" text-anchor="end" font-family="Liberation Sans, sans-serif" >4</text>
<line x1="85.5" y1="476.96000000000004" x2="92" y2="476.96000000000004" stroke="#222" stroke-width="1.2"/>
<line x1="386.3" y1="476.96000000000004" x2="392.8" y2="476.96000000000004" stroke="#222" stroke-width="1.2"/>
<text transform="translate(79.5,482.56000000000006) scale(1.04,1)" font-size="15.5" text-anchor="end" font-family="Liberation Sans, sans-serif" >5</text>
<line x1="85.5" y1="538.12" x2="92" y2="538.12" stroke="#222" stroke-width="1.2"/>
<line x1="386.3" y1="538.12" x2="392.8" y2="538.12" stroke="#222" stroke-width="1.2"/>
<text transform="translate(79.5,543.72) scale(1.04,1)" font-size="15.5" text-anchor="end" font-family="Liberation Sans, sans-serif" >6</text>
<line x1="85.5" y1="599.28" x2="92" y2="599.28" stroke="#222" stroke-width="1.2"/>
<line x1="386.3" y1="599.28" x2="392.8" y2="599.28" stroke="#222" stroke-width="1.2"/>
<text transform="translate(79.5,604.88) scale(1.04,1)" font-size="15.5" text-anchor="end" font-family="Liberation Sans, sans-serif" >7</text>
<line x1="85.5" y1="660.44" x2="92" y2="660.44" stroke="#222" stroke-width="1.2"/>
<line x1="386.3" y1="660.44" x2="392.8" y2="660.44" stroke="#222" stroke-width="1.2"/>
<text transform="translate(79.5,666.0400000000001) scale(1.04,1)" font-size="15.5" text-anchor="end" font-family="Liberation Sans, sans-serif" >8</text>
<line x1="85.5" y1="721.5999999999999" x2="92" y2="721.5999999999999" stroke="#222" stroke-width="1.2"/>
<line x1="386.3" y1="721.5999999999999" x2="392.8" y2="721.5999999999999" stroke="#222" stroke-width="1.2"/>
<text transform="translate(79.5,727.1999999999999) scale(1.04,1)" font-size="15.5" text-anchor="end" font-family="Liberation Sans, sans-serif" >9</text>
<line x1="85.5" y1="782.76" x2="92" y2="782.76" stroke="#222" stroke-width="1.2"/>
<line x1="386.3" y1="782.76" x2="392.8" y2="782.76" stroke="#222" stroke-width="1.2"/>
<text transform="translate(79.5,788.36) scale(1.04,1)" font-size="15.5" text-anchor="end" font-family="Liberation Sans, sans-serif" >10</text>
<line x1="85.5" y1="843.9200000000001" x2="92" y2="843.9200000000001" stroke="#222" stroke-width="1.2"/>
<line x1="386.3" y1="843.9200000000001" x2="392.8" y2="843.9200000000001" stroke="#222" stroke-width="1.2"/>
<text transform="translate(79.5,849.5200000000001) scale(1.04,1)" font-size="15.5" text-anchor="end" font-family="Liberation Sans, sans-serif" >11</text>
<line x1="85.5" y1="905.0799999999999" x2="92" y2="905.0799999999999" stroke="#222" stroke-width="1.2"/>
<line x1="386.3" y1="905.0799999999999" x2="392.8" y2="905.0799999999999" stroke="#222" stroke-width="1.2"/>
<text transform="translate(79.5,910.68) scale(1.04,1)" font-size="15.5" text-anchor="end" font-family="Liberation Sans, sans-serif" >12</text>
<line x1="116.30000000000001" y1="409.5" x2="116.30000000000001" y2="415.8" stroke="#222" stroke-width="1.2"/>
<line x1="116.30000000000001" y1="905.3" x2="116.30000000000001" y2="911.8" stroke="#222" stroke-width="1.2"/>
<text transform="translate(116.30000000000001,929) scale(1.04,1)" font-size="15.5" text-anchor="middle" font-family="Liberation Sans, sans-serif" >&#8722;2</text>
<line x1="177.55" y1="409.5" x2="177.55" y2="415.8" stroke="#222" stroke-width="1.2"/>
<line x1="177.55" y1="905.3" x2="177.55" y2="911.8" stroke="#222" stroke-width="1.2"/>
<text transform="translate(177.55,929) scale(1.04,1)" font-size="15.5" text-anchor="middle" font-family="Liberation Sans, sans-serif" >&#8722;1</text>
<line x1="238.8" y1="409.5" x2="238.8" y2="415.8" stroke="#222" stroke-width="1.2"/>
<line x1="238.8" y1="905.3" x2="238.8" y2="911.8" stroke="#222" stroke-width="1.2"/>
<text transform="translate(238.8,929) scale(1.04,1)" font-size="15.5" text-anchor="middle" font-family="Liberation Sans, sans-serif" >0</text>
<line x1="300.05" y1="409.5" x2="300.05" y2="415.8" stroke="#222" stroke-width="1.2"/>
<line x1="300.05" y1="905.3" x2="300.05" y2="911.8" stroke="#222" stroke-width="1.2"/>
<text transform="translate(300.05,929) scale(1.04,1)" font-size="15.5" text-anchor="middle" font-family="Liberation Sans, sans-serif" >1</text>
<line x1="361.3" y1="409.5" x2="361.3" y2="415.8" stroke="#222" stroke-width="1.2"/>
<line x1="361.3" y1="905.3" x2="361.3" y2="911.8" stroke="#222" stroke-width="1.2"/>
<text transform="translate(361.3,929) scale(1.04,1)" font-size="15.5" text-anchor="middle" font-family="Liberation Sans, sans-serif" >2</text>
<text transform="translate(84,930) scale(1.04,1)" font-size="23" text-anchor="start" font-family="Liberation Sans, sans-serif" >A</text>
<text transform="translate(380.3,930) scale(1.04,1)" font-size="23" text-anchor="start" font-family="Liberation Sans, sans-serif" >A&#8217;</text>
<text transform="translate(313.3,951.7) scale(1.04,1)" font-size="23" text-anchor="start" font-family="Liberation Sans, sans-serif" >(km)</text>
<text transform="translate(57.7,655.3) rotate(-90) scale(1.04,1)" x="0" y="0" font-size="23" text-anchor="middle" font-family="Liberation Sans, sans-serif">Depth (km)</text>
<text transform="translate(405.3,430) scale(1.04,1)" font-size="31" text-anchor="start" font-family="Liberation Sans, sans-serif" >(c)</text>
<line x1="518.55" y1="415.8" x2="518.55" y2="905.3" stroke="#3a3a3a" stroke-width="1.1"/>
<line x1="579.8" y1="415.8" x2="579.8" y2="905.3" stroke="#3a3a3a" stroke-width="1.1"/>
<line x1="641.05" y1="415.8" x2="641.05" y2="905.3" stroke="#3a3a3a" stroke-width="1.1"/>
<line x1="488" y1="538.12" x2="672" y2="538.12" stroke="#3a3a3a" stroke-width="1.1"/>
<line x1="488" y1="660.44" x2="672" y2="660.44" stroke="#3a3a3a" stroke-width="1.1"/>
<line x1="488" y1="782.76" x2="672" y2="782.76" stroke="#3a3a3a" stroke-width="1.1"/>
<g clip-path="url(#clipc)">
<circle cx="624.4" cy="740.7" r="2.65" fill="#909090" stroke="#1e1e1e" stroke-width="1.0"/>
<circle cx="653.6" cy="606.7" r="2.65" fill="#909090" stroke="#1e1e1e" stroke-width="1.0"/>
<circle cx="617.8" cy="796.9" r="2.65" fill="#909090" stroke="#1e1e1e" stroke-width="1.0"/>
<circle cx="651.0" cy="465.9" r="2.65" fill="#909090" stroke="#1e1e1e" stroke-width="1.0"/>
<circle cx="645.6" cy="631.8" r="2.65" fill="#909090" stroke="#1e1e1e" stroke-width="1.0"/>
<circle cx="671.1" cy="524.9" r="2.65" fill="#909090" stroke="#1e1e1e" stroke-width="1.0"/>
<circle cx="601.1" cy="641.9" r="4.6" fill="#e8e8e8" stroke="#111" stroke-width="1.3"/>
<circle cx="646.3" cy="765.5" r="2.65" fill="#909090" stroke="#1e1e1e" stroke-width="1.0"/>
<circle cx="670.4" cy="489.7" r="2.65" fill="#909090" stroke="#1e1e1e" stroke-width="1.0"/>
<circle cx="662.4" cy="732.6" r="2.65" fill="#909090" stroke="#1e1e1e" stroke-width="1.0"/>
<circle cx="648.3" cy="685.7" r="2.65" fill="#909090" stroke="#1e1e1e" stroke-width="1.0"/>
<circle cx="627.3" cy="764.7" r="2.65" fill="#909090" stroke="#1e1e1e" stroke-width="1.0"/>
<circle cx="650.5" cy="628.7" r="2.65" fill="#909090" stroke="#1e1e1e" stroke-width="1.0"/>
<circle cx="569.9" cy="817.1" r="2.65" fill="#909090" stroke="#1e1e1e" stroke-width="1.0"/>
<circle cx="655.1" cy="610.4" r="2.65" fill="#909090" stroke="#1e1e1e" stroke-width="1.0"/>
<circle cx="660.9" cy="557.8" r="2.65" fill="#909090" stroke="#1e1e1e" stroke-width="1.0"/>
<circle cx="610.5" cy="709.1" r="4.6" fill="#e8e8e8" stroke="#111" stroke-width="1.3"/>
<circle cx="651.4" cy="746.5" r="2.65" fill="#909090" stroke="#1e1e1e" stroke-width="1.0"/>
<circle cx="630.5" cy="648.3" r="2.65" fill="#909090" stroke="#1e1e1e" stroke-width="1.0"/>
<circle cx="595.2" cy="654.3" r="4.6" fill="#e8e8e8" stroke="#111" stroke-width="1.3"/>
<circle cx="671.1" cy="803.4" r="2.65" fill="#909090" stroke="#1e1e1e" stroke-width="1.0"/>
<circle cx="607.3" cy="638.8" r="2.65" fill="#909090" stroke="#1e1e1e" stroke-width="1.0"/>
<circle cx="663.1" cy="488.3" r="2.65" fill="#909090" stroke="#1e1e1e" stroke-width="1.0"/>
<circle cx="569.9" cy="801.2" r="4.6" fill="#e8e8e8" stroke="#111" stroke-width="1.3"/>
<circle cx="635.7" cy="650.6" r="2.65" fill="#909090" stroke="#1e1e1e" stroke-width="1.0"/>
<circle cx="629.5" cy="627.5" r="2.65" fill="#909090" stroke="#1e1e1e" stroke-width="1.0"/>
<circle cx="653.4" cy="665.6" r="2.65" fill="#909090" stroke="#1e1e1e" stroke-width="1.0"/>
<circle cx="671.3" cy="627.9" r="2.65" fill="#909090" stroke="#1e1e1e" stroke-width="1.0"/>
<circle cx="607.6" cy="617.1" r="4.6" fill="#e8e8e8" stroke="#111" stroke-width="1.3"/>
<circle cx="664.6" cy="549.8" r="2.65" fill="#909090" stroke="#1e1e1e" stroke-width="1.0"/>
<circle cx="645.9" cy="689.7" r="2.65" fill="#909090" stroke="#1e1e1e" stroke-width="1.0"/>
<circle cx="642.5" cy="696.0" r="2.65" fill="#909090" stroke="#1e1e1e" stroke-width="1.0"/>
<circle cx="623.8" cy="618.1" r="2.65" fill="#909090" stroke="#1e1e1e" stroke-width="1.0"/>
<circle cx="662.3" cy="680.8" r="2.65" fill="#909090" stroke="#1e1e1e" stroke-width="1.0"/>
<circle cx="608.4" cy="745.8" r="4.6" fill="#e8e8e8" stroke="#111" stroke-width="1.3"/>
<circle cx="623.5" cy="685.3" r="2.65" fill="#909090" stroke="#1e1e1e" stroke-width="1.0"/>
<circle cx="591.6" cy="709.1" r="4.6" fill="#e8e8e8" stroke="#111" stroke-width="1.3"/>
<circle cx="647.8" cy="527.1" r="2.65" fill="#909090" stroke="#1e1e1e" stroke-width="1.0"/>
<circle cx="669.7" cy="598.7" r="2.65" fill="#909090" stroke="#1e1e1e" stroke-width="1.0"/>
<circle cx="606.9" cy="715.8" r="4.6" fill="#e8e8e8" stroke="#111" stroke-width="1.3"/>
<circle cx="581.6" cy="584.1" r="2.65" fill="#909090" stroke="#1e1e1e" stroke-width="1.0"/>
<circle cx="544.4" cy="483.2" r="4.6" fill="#e8e8e8" stroke="#111" stroke-width="1.3"/>
<circle cx="659.5" cy="604.5" r="2.65" fill="#909090" stroke="#1e1e1e" stroke-width="1.0"/>
<circle cx="666.0" cy="532.7" r="2.65" fill="#909090" stroke="#1e1e1e" stroke-width="1.0"/>
<circle cx="573.6" cy="764.0" r="4.6" fill="#e8e8e8" stroke="#111" stroke-width="1.3"/>
<circle cx="649.2" cy="733.4" r="2.65" fill="#909090" stroke="#1e1e1e" stroke-width="1.0"/>
<circle cx="652.2" cy="502.4" r="2.65" fill="#909090" stroke="#1e1e1e" stroke-width="1.0"/>
<circle cx="658.6" cy="664.3" r="2.65" fill="#909090" stroke="#1e1e1e" stroke-width="1.0"/>
<circle cx="635.8" cy="704.0" r="2.65" fill="#909090" stroke="#1e1e1e" stroke-width="1.0"/>
<circle cx="667.5" cy="719.5" r="2.65" fill="#909090" stroke="#1e1e1e" stroke-width="1.0"/>
<circle cx="633.2" cy="610.4" r="2.65" fill="#909090" stroke="#1e1e1e" stroke-width="1.0"/>
<circle cx="590.8" cy="696.7" r="4.6" fill="#e8e8e8" stroke="#111" stroke-width="1.3"/>
<circle cx="616.4" cy="777.2" r="2.65" fill="#909090" stroke="#1e1e1e" stroke-width="1.0"/>
<circle cx="645.8" cy="623.4" r="2.65" fill="#909090" stroke="#1e1e1e" stroke-width="1.0"/>
<circle cx="561.9" cy="838.2" r="4.6" fill="#e8e8e8" stroke="#111" stroke-width="1.3"/>
<circle cx="621.0" cy="708.0" r="2.65" fill="#909090" stroke="#1e1e1e" stroke-width="1.0"/>
<circle cx="619.4" cy="685.8" r="2.65" fill="#909090" stroke="#1e1e1e" stroke-width="1.0"/>
<circle cx="670.4" cy="537.4" r="2.65" fill="#909090" stroke="#1e1e1e" stroke-width="1.0"/>
<circle cx="569.2" cy="745.8" r="4.6" fill="#e8e8e8" stroke="#111" stroke-width="1.3"/>
<circle cx="633.2" cy="771.3" r="2.65" fill="#909090" stroke="#1e1e1e" stroke-width="1.0"/>
<circle cx="652.2" cy="712.9" r="2.65" fill="#909090" stroke="#1e1e1e" stroke-width="1.0"/>
<circle cx="641.9" cy="446.9" r="2.65" fill="#909090" stroke="#1e1e1e" stroke-width="1.0"/>
<circle cx="625.9" cy="815.0" r="2.65" fill="#909090" stroke="#1e1e1e" stroke-width="1.0"/>
<circle cx="661.6" cy="473.4" r="2.65" fill="#909090" stroke="#1e1e1e" stroke-width="1.0"/>
<circle cx="599.6" cy="592.8" r="4.6" fill="#e8e8e8" stroke="#111" stroke-width="1.3"/>
<circle cx="566.3" cy="690.8" r="4.6" fill="#e8e8e8" stroke="#111" stroke-width="1.3"/>
<circle cx="658.7" cy="538.1" r="2.65" fill="#909090" stroke="#1e1e1e" stroke-width="1.0"/>
<circle cx="639.6" cy="660.7" r="2.65" fill="#909090" stroke="#1e1e1e" stroke-width="1.0"/>
<circle cx="645.6" cy="576.0" r="2.65" fill="#909090" stroke="#1e1e1e" stroke-width="1.0"/>
<circle cx="664.6" cy="589.9" r="2.65" fill="#909090" stroke="#1e1e1e" stroke-width="1.0"/>
<circle cx="654.1" cy="627.4" r="2.65" fill="#909090" stroke="#1e1e1e" stroke-width="1.0"/>
<circle cx="617.8" cy="679.2" r="4.6" fill="#e8e8e8" stroke="#111" stroke-width="1.3"/>
<circle cx="667.4" cy="643.1" r="2.65" fill="#909090" stroke="#1e1e1e" stroke-width="1.0"/>
<circle cx="567.8" cy="825.2" r="2.65" fill="#909090" stroke="#1e1e1e" stroke-width="1.0"/>
<circle cx="658.0" cy="729.0" r="2.65" fill="#909090" stroke="#1e1e1e" stroke-width="1.0"/>
<circle cx="620.0" cy="710.7" r="2.65" fill="#909090" stroke="#1e1e1e" stroke-width="1.0"/>
<circle cx="639.2" cy="650.8" r="2.65" fill="#909090" stroke="#1e1e1e" stroke-width="1.0"/>
<circle cx="583.1" cy="683.5" r="4.6" fill="#e8e8e8" stroke="#111" stroke-width="1.3"/>
<circle cx="670.4" cy="582.6" r="2.65" fill="#909090" stroke="#1e1e1e" stroke-width="1.0"/>
<circle cx="668.5" cy="707.1" r="2.65" fill="#909090" stroke="#1e1e1e" stroke-width="1.0"/>
<circle cx="661.6" cy="484.6" r="2.65" fill="#909090" stroke="#1e1e1e" stroke-width="1.0"/>
<circle cx="613.5" cy="721.7" r="4.6" fill="#e8e8e8" stroke="#111" stroke-width="1.3"/>
<circle cx="666.8" cy="522.0" r="2.65" fill="#909090" stroke="#1e1e1e" stroke-width="1.0"/>
<circle cx="663.8" cy="554.1" r="2.65" fill="#909090" stroke="#1e1e1e" stroke-width="1.0"/>
<circle cx="617.8" cy="633.0" r="2.65" fill="#909090" stroke="#1e1e1e" stroke-width="1.0"/>
<circle cx="651.4" cy="589.9" r="2.65" fill="#909090" stroke="#1e1e1e" stroke-width="1.0"/>
<circle cx="648.4" cy="673.1" r="2.65" fill="#909090" stroke="#1e1e1e" stroke-width="1.0"/>
<circle cx="598.9" cy="808.7" r="4.6" fill="#e8e8e8" stroke="#111" stroke-width="1.3"/>
<circle cx="587.9" cy="776.4" r="4.6" fill="#e8e8e8" stroke="#111" stroke-width="1.3"/>
<circle cx="661.6" cy="584.1" r="2.65" fill="#909090" stroke="#1e1e1e" stroke-width="1.0"/>
<circle cx="567.0" cy="758.2" r="4.6" fill="#e8e8e8" stroke="#111" stroke-width="1.3"/>
<circle cx="633.9" cy="709.3" r="2.65" fill="#909090" stroke="#1e1e1e" stroke-width="1.0"/>
<circle cx="647.5" cy="708.4" r="2.65" fill="#909090" stroke="#1e1e1e" stroke-width="1.0"/>
<circle cx="589.4" cy="739.9" r="4.6" fill="#e8e8e8" stroke="#111" stroke-width="1.3"/>
<circle cx="640.5" cy="771.3" r="2.65" fill="#909090" stroke="#1e1e1e" stroke-width="1.0"/>
<circle cx="569.2" cy="808.7" r="4.6" fill="#e8e8e8" stroke="#111" stroke-width="1.3"/>
<circle cx="670.4" cy="520.6" r="2.65" fill="#909090" stroke="#1e1e1e" stroke-width="1.0"/>
<circle cx="600.3" cy="450.7" r="2.65" fill="#909090" stroke="#1e1e1e" stroke-width="1.0"/>
<circle cx="594.5" cy="728.2" r="4.6" fill="#e8e8e8" stroke="#111" stroke-width="1.3"/>
<circle cx="670.4" cy="549.0" r="2.65" fill="#909090" stroke="#1e1e1e" stroke-width="1.0"/>
<circle cx="668.9" cy="516.2" r="2.65" fill="#909090" stroke="#1e1e1e" stroke-width="1.0"/>
<circle cx="597.8" cy="501.4" r="4.6" fill="#e8e8e8" stroke="#111" stroke-width="1.3"/>
<circle cx="583.1" cy="671.1" r="4.6" fill="#e8e8e8" stroke="#111" stroke-width="1.3"/>
<circle cx="660.9" cy="776.4" r="2.65" fill="#909090" stroke="#1e1e1e" stroke-width="1.0"/>
<circle cx="632.1" cy="680.8" r="2.65" fill="#909090" stroke="#1e1e1e" stroke-width="1.0"/>
<circle cx="595.9" cy="770.6" r="4.6" fill="#e8e8e8" stroke="#111" stroke-width="1.3"/>
<circle cx="643.4" cy="536.6" r="2.65" fill="#909090" stroke="#1e1e1e" stroke-width="1.0"/>
<circle cx="636.9" cy="647.6" r="2.65" fill="#909090" stroke="#1e1e1e" stroke-width="1.0"/>
<circle cx="626.6" cy="552.2" r="2.65" fill="#909090" stroke="#1e1e1e" stroke-width="1.0"/>
<circle cx="659.9" cy="626.9" r="2.65" fill="#909090" stroke="#1e1e1e" stroke-width="1.0"/>
<circle cx="650.0" cy="576.8" r="2.65" fill="#909090" stroke="#1e1e1e" stroke-width="1.0"/>
<circle cx="653.5" cy="685.6" r="2.65" fill="#909090" stroke="#1e1e1e" stroke-width="1.0"/>
<circle cx="668.7" cy="698.7" r="2.65" fill="#909090" stroke="#1e1e1e" stroke-width="1.0"/>
<circle cx="628.1" cy="623.7" r="4.6" fill="#e8e8e8" stroke="#111" stroke-width="1.3"/>
<circle cx="576.5" cy="807.1" r="4.6" fill="#e8e8e8" stroke="#111" stroke-width="1.3"/>
<circle cx="662.4" cy="610.4" r="2.65" fill="#909090" stroke="#1e1e1e" stroke-width="1.0"/>
<circle cx="639.7" cy="708.4" r="4.6" fill="#e8e8e8" stroke="#111" stroke-width="1.3"/>
<circle cx="621.0" cy="683.0" r="2.65" fill="#909090" stroke="#1e1e1e" stroke-width="1.0"/>
<circle cx="585.7" cy="684.3" r="4.6" fill="#e8e8e8" stroke="#111" stroke-width="1.3"/>
<circle cx="649.2" cy="749.4" r="2.65" fill="#909090" stroke="#1e1e1e" stroke-width="1.0"/>
<circle cx="667.1" cy="691.9" r="2.65" fill="#909090" stroke="#1e1e1e" stroke-width="1.0"/>
<circle cx="640.5" cy="565.4" r="2.65" fill="#909090" stroke="#1e1e1e" stroke-width="1.0"/>
<circle cx="647.8" cy="769.1" r="2.65" fill="#909090" stroke="#1e1e1e" stroke-width="1.0"/>
<circle cx="621.2" cy="614.8" r="2.65" fill="#909090" stroke="#1e1e1e" stroke-width="1.0"/>
<circle cx="564.8" cy="856.2" r="4.6" fill="#e8e8e8" stroke="#111" stroke-width="1.3"/>
<circle cx="643.4" cy="598.7" r="2.65" fill="#909090" stroke="#1e1e1e" stroke-width="1.0"/>
<circle cx="644.8" cy="698.4" r="2.65" fill="#909090" stroke="#1e1e1e" stroke-width="1.0"/>
<circle cx="593.0" cy="606.0" r="4.6" fill="#e8e8e8" stroke="#111" stroke-width="1.3"/>
<circle cx="641.8" cy="620.2" r="2.65" fill="#909090" stroke="#1e1e1e" stroke-width="1.0"/>
<circle cx="545.9" cy="739.9" r="4.6" fill="#e8e8e8" stroke="#111" stroke-width="1.3"/>
<circle cx="655.8" cy="677.5" r="2.65" fill="#909090" stroke="#1e1e1e" stroke-width="1.0"/>
<circle cx="642.8" cy="647.9" r="2.65" fill="#909090" stroke="#1e1e1e" stroke-width="1.0"/>
<circle cx="654.1" cy="668.9" r="2.65" fill="#909090" stroke="#1e1e1e" stroke-width="1.0"/>
<circle cx="649.5" cy="646.5" r="2.65" fill="#909090" stroke="#1e1e1e" stroke-width="1.0"/>
<circle cx="645.6" cy="597.2" r="2.65" fill="#909090" stroke="#1e1e1e" stroke-width="1.0"/>
<circle cx="652.9" cy="696.3" r="2.65" fill="#909090" stroke="#1e1e1e" stroke-width="1.0"/>
<circle cx="578.0" cy="777.2" r="4.6" fill="#e8e8e8" stroke="#111" stroke-width="1.3"/>
<circle cx="641.9" cy="764.7" r="2.65" fill="#909090" stroke="#1e1e1e" stroke-width="1.0"/>
<circle cx="575.1" cy="710.7" r="4.6" fill="#e8e8e8" stroke="#111" stroke-width="1.3"/>
<circle cx="627.8" cy="677.7" r="2.65" fill="#909090" stroke="#1e1e1e" stroke-width="1.0"/>
<circle cx="630.6" cy="686.3" r="2.65" fill="#909090" stroke="#1e1e1e" stroke-width="1.0"/>
<circle cx="586.5" cy="782.3" r="4.6" fill="#e8e8e8" stroke="#111" stroke-width="1.3"/>
<circle cx="629.7" cy="704.5" r="2.65" fill="#909090" stroke="#1e1e1e" stroke-width="1.0"/>
<circle cx="597.4" cy="801.2" r="4.6" fill="#e8e8e8" stroke="#111" stroke-width="1.3"/>
<circle cx="617.8" cy="672.6" r="4.6" fill="#e8e8e8" stroke="#111" stroke-width="1.3"/>
<circle cx="649.2" cy="611.8" r="2.65" fill="#909090" stroke="#1e1e1e" stroke-width="1.0"/>
<circle cx="649.7" cy="838.2" r="2.65" fill="#909090" stroke="#1e1e1e" stroke-width="1.0"/>
<circle cx="636.8" cy="806.4" r="4.6" fill="#e8e8e8" stroke="#111" stroke-width="1.3"/>
<circle cx="580.9" cy="705.4" r="4.6" fill="#e8e8e8" stroke="#111" stroke-width="1.3"/>
<circle cx="665.4" cy="696.0" r="2.65" fill="#909090" stroke="#1e1e1e" stroke-width="1.0"/>
<circle cx="653.6" cy="524.2" r="2.65" fill="#909090" stroke="#1e1e1e" stroke-width="1.0"/>
<circle cx="612.2" cy="673.8" r="2.65" fill="#909090" stroke="#1e1e1e" stroke-width="1.0"/>
<circle cx="669.3" cy="615.2" r="2.65" fill="#909090" stroke="#1e1e1e" stroke-width="1.0"/>
<circle cx="657.3" cy="698.7" r="2.65" fill="#909090" stroke="#1e1e1e" stroke-width="1.0"/>
<circle cx="595.9" cy="819.7" r="4.6" fill="#e8e8e8" stroke="#111" stroke-width="1.3"/>
<circle cx="569.2" cy="739.9" r="4.6" fill="#e8e8e8" stroke="#111" stroke-width="1.3"/>
<circle cx="625.4" cy="696.0" r="2.65" fill="#909090" stroke="#1e1e1e" stroke-width="1.0"/>
<circle cx="647.8" cy="566.6" r="2.65" fill="#909090" stroke="#1e1e1e" stroke-width="1.0"/>
<circle cx="580.2" cy="752.3" r="4.6" fill="#e8e8e8" stroke="#111" stroke-width="1.3"/>
<circle cx="541.2" cy="623.7" r="4.6" fill="#e8e8e8" stroke="#111" stroke-width="1.3"/>
<circle cx="648.2" cy="615.7" r="2.65" fill="#909090" stroke="#1e1e1e" stroke-width="1.0"/>
<circle cx="641.9" cy="426.2" r="2.65" fill="#909090" stroke="#1e1e1e" stroke-width="1.0"/>
<circle cx="636.5" cy="694.4" r="2.65" fill="#909090" stroke="#1e1e1e" stroke-width="1.0"/>
<circle cx="650.2" cy="682.8" r="2.65" fill="#909090" stroke="#1e1e1e" stroke-width="1.0"/>
<circle cx="647.8" cy="455.7" r="2.65" fill="#909090" stroke="#1e1e1e" stroke-width="1.0"/>
<circle cx="598.1" cy="794.7" r="4.6" fill="#e8e8e8" stroke="#111" stroke-width="1.3"/>
<circle cx="631.4" cy="554.6" r="2.65" fill="#909090" stroke="#1e1e1e" stroke-width="1.0"/>
<circle cx="590.8" cy="587.0" r="4.6" fill="#e8e8e8" stroke="#111" stroke-width="1.3"/>
<circle cx="582.4" cy="794.7" r="4.6" fill="#e8e8e8" stroke="#111" stroke-width="1.3"/>
<circle cx="627.4" cy="615.1" r="2.65" fill="#909090" stroke="#1e1e1e" stroke-width="1.0"/>
<circle cx="634.6" cy="511.2" r="2.65" fill="#909090" stroke="#1e1e1e" stroke-width="1.0"/>
<circle cx="642.7" cy="445.2" r="2.65" fill="#909090" stroke="#1e1e1e" stroke-width="1.0"/>
<circle cx="591.6" cy="678.4" r="4.6" fill="#e8e8e8" stroke="#111" stroke-width="1.3"/>
<circle cx="667.5" cy="627.2" r="2.65" fill="#909090" stroke="#1e1e1e" stroke-width="1.0"/>
<circle cx="558.3" cy="825.8" r="4.6" fill="#e8e8e8" stroke="#111" stroke-width="1.3"/>
<circle cx="620.0" cy="764.7" r="4.6" fill="#e8e8e8" stroke="#111" stroke-width="1.3"/>
<circle cx="666.8" cy="570.2" r="2.65" fill="#909090" stroke="#1e1e1e" stroke-width="1.0"/>
<circle cx="609.1" cy="728.2" r="4.6" fill="#e8e8e8" stroke="#111" stroke-width="1.3"/>
<circle cx="648.1" cy="695.8" r="2.65" fill="#909090" stroke="#1e1e1e" stroke-width="1.0"/>
<circle cx="605.4" cy="703.2" r="4.6" fill="#e8e8e8" stroke="#111" stroke-width="1.3"/>
<circle cx="668.9" cy="556.3" r="2.65" fill="#909090" stroke="#1e1e1e" stroke-width="1.0"/>
<circle cx="601.8" cy="610.4" r="4.6" fill="#e8e8e8" stroke="#111" stroke-width="1.3"/>
<circle cx="622.2" cy="809.5" r="2.65" fill="#909090" stroke="#1e1e1e" stroke-width="1.0"/>
<circle cx="598.1" cy="703.2" r="4.6" fill="#e8e8e8" stroke="#111" stroke-width="1.3"/>
<circle cx="655.3" cy="681.1" r="2.65" fill="#909090" stroke="#1e1e1e" stroke-width="1.0"/>
<circle cx="634.4" cy="641.9" r="2.65" fill="#909090" stroke="#1e1e1e" stroke-width="1.0"/>
<circle cx="639.2" cy="642.9" r="2.65" fill="#909090" stroke="#1e1e1e" stroke-width="1.0"/>
<circle cx="657.3" cy="579.7" r="2.65" fill="#909090" stroke="#1e1e1e" stroke-width="1.0"/>
<circle cx="598.1" cy="630.2" r="4.6" fill="#e8e8e8" stroke="#111" stroke-width="1.3"/>
<circle cx="649.2" cy="717.3" r="2.65" fill="#909090" stroke="#1e1e1e" stroke-width="1.0"/>
<circle cx="627.3" cy="710.7" r="2.65" fill="#909090" stroke="#1e1e1e" stroke-width="1.0"/>
<circle cx="553.9" cy="715.8" r="4.6" fill="#e8e8e8" stroke="#111" stroke-width="1.3"/>
<circle cx="669.7" cy="606.0" r="2.65" fill="#909090" stroke="#1e1e1e" stroke-width="1.0"/>
<circle cx="601.8" cy="623.7" r="4.6" fill="#e8e8e8" stroke="#111" stroke-width="1.3"/>
<circle cx="659.5" cy="589.2" r="2.65" fill="#909090" stroke="#1e1e1e" stroke-width="1.0"/>
<circle cx="655.1" cy="592.8" r="2.65" fill="#909090" stroke="#1e1e1e" stroke-width="1.0"/>
<circle cx="644.9" cy="588.5" r="2.65" fill="#909090" stroke="#1e1e1e" stroke-width="1.0"/>
<circle cx="630.7" cy="632.8" r="2.65" fill="#909090" stroke="#1e1e1e" stroke-width="1.0"/>
<circle cx="656.5" cy="731.9" r="2.65" fill="#909090" stroke="#1e1e1e" stroke-width="1.0"/>
<circle cx="639.5" cy="632.2" r="2.65" fill="#909090" stroke="#1e1e1e" stroke-width="1.0"/>
<circle cx="631.7" cy="739.9" r="4.6" fill="#e8e8e8" stroke="#111" stroke-width="1.3"/>
<circle cx="650.6" cy="677.1" r="2.65" fill="#909090" stroke="#1e1e1e" stroke-width="1.0"/>
<circle cx="616.0" cy="656.8" r="2.65" fill="#909090" stroke="#1e1e1e" stroke-width="1.0"/>
<circle cx="664.2" cy="677.7" r="2.65" fill="#909090" stroke="#1e1e1e" stroke-width="1.0"/>
<circle cx="664.6" cy="573.9" r="2.65" fill="#909090" stroke="#1e1e1e" stroke-width="1.0"/>
<circle cx="628.0" cy="672.4" r="2.65" fill="#909090" stroke="#1e1e1e" stroke-width="1.0"/>
<circle cx="609.5" cy="641.8" r="2.65" fill="#909090" stroke="#1e1e1e" stroke-width="1.0"/>
<circle cx="614.0" cy="665.3" r="2.65" fill="#909090" stroke="#1e1e1e" stroke-width="1.0"/>
<circle cx="658.7" cy="748.7" r="2.65" fill="#909090" stroke="#1e1e1e" stroke-width="1.0"/>
<circle cx="656.1" cy="661.2" r="2.65" fill="#909090" stroke="#1e1e1e" stroke-width="1.0"/>
<circle cx="587.9" cy="788.1" r="4.6" fill="#e8e8e8" stroke="#111" stroke-width="1.3"/>
<circle cx="547.3" cy="697.4" r="4.6" fill="#e8e8e8" stroke="#111" stroke-width="1.3"/>
<circle cx="560.2" cy="599.1" r="4.6" fill="#e8e8e8" stroke="#111" stroke-width="1.3"/>
<circle cx="650.0" cy="537.1" r="2.65" fill="#909090" stroke="#1e1e1e" stroke-width="1.0"/>
<circle cx="643.4" cy="607.4" r="2.65" fill="#909090" stroke="#1e1e1e" stroke-width="1.0"/>
<circle cx="615.2" cy="647.3" r="2.65" fill="#909090" stroke="#1e1e1e" stroke-width="1.0"/>
<circle cx="652.9" cy="581.2" r="2.65" fill="#909090" stroke="#1e1e1e" stroke-width="1.0"/>
<circle cx="649.2" cy="758.2" r="2.65" fill="#909090" stroke="#1e1e1e" stroke-width="1.0"/>
<circle cx="614.2" cy="696.7" r="4.6" fill="#e8e8e8" stroke="#111" stroke-width="1.3"/>
<circle cx="645.2" cy="664.9" r="2.65" fill="#909090" stroke="#1e1e1e" stroke-width="1.0"/>
<circle cx="664.6" cy="599.4" r="2.65" fill="#909090" stroke="#1e1e1e" stroke-width="1.0"/>
<circle cx="661.6" cy="727.5" r="2.65" fill="#909090" stroke="#1e1e1e" stroke-width="1.0"/>
<circle cx="555.8" cy="643.4" r="2.65" fill="#909090" stroke="#1e1e1e" stroke-width="1.0"/>
<circle cx="573.6" cy="709.1" r="4.6" fill="#e8e8e8" stroke="#111" stroke-width="1.3"/>
<circle cx="645.4" cy="682.3" r="2.65" fill="#909090" stroke="#1e1e1e" stroke-width="1.0"/>
<circle cx="663.1" cy="632.2" r="2.65" fill="#909090" stroke="#1e1e1e" stroke-width="1.0"/>
<circle cx="652.3" cy="707.6" r="2.65" fill="#909090" stroke="#1e1e1e" stroke-width="1.0"/>
<circle cx="670.4" cy="587.0" r="2.65" fill="#909090" stroke="#1e1e1e" stroke-width="1.0"/>
<circle cx="636.1" cy="733.4" r="2.65" fill="#909090" stroke="#1e1e1e" stroke-width="1.0"/>
<circle cx="620.9" cy="690.4" r="2.65" fill="#909090" stroke="#1e1e1e" stroke-width="1.0"/>
<circle cx="567.0" cy="788.8" r="4.6" fill="#e8e8e8" stroke="#111" stroke-width="1.3"/>
<circle cx="602.5" cy="739.9" r="4.6" fill="#e8e8e8" stroke="#111" stroke-width="1.3"/>
<circle cx="570.7" cy="672.6" r="4.6" fill="#e8e8e8" stroke="#111" stroke-width="1.3"/>
<circle cx="604.0" cy="654.3" r="4.6" fill="#e8e8e8" stroke="#111" stroke-width="1.3"/>
<circle cx="647.8" cy="721.7" r="2.65" fill="#909090" stroke="#1e1e1e" stroke-width="1.0"/>
<circle cx="658.4" cy="704.0" r="2.65" fill="#909090" stroke="#1e1e1e" stroke-width="1.0"/>
<circle cx="610.5" cy="630.2" r="4.6" fill="#e8e8e8" stroke="#111" stroke-width="1.3"/>
<circle cx="561.9" cy="752.3" r="4.6" fill="#e8e8e8" stroke="#111" stroke-width="1.3"/>
<circle cx="670.4" cy="568.7" r="2.65" fill="#909090" stroke="#1e1e1e" stroke-width="1.0"/>
<circle cx="572.1" cy="696.7" r="4.6" fill="#e8e8e8" stroke="#111" stroke-width="1.3"/>
<circle cx="664.7" cy="704.1" r="2.65" fill="#909090" stroke="#1e1e1e" stroke-width="1.0"/>
<circle cx="658.0" cy="711.5" r="2.65" fill="#909090" stroke="#1e1e1e" stroke-width="1.0"/>
<circle cx="638.3" cy="586.3" r="2.65" fill="#909090" stroke="#1e1e1e" stroke-width="1.0"/>
<circle cx="570.7" cy="727.5" r="4.6" fill="#e8e8e8" stroke="#111" stroke-width="1.3"/>
<circle cx="620.0" cy="715.8" r="4.6" fill="#e8e8e8" stroke="#111" stroke-width="1.3"/>
<circle cx="627.9" cy="690.9" r="2.65" fill="#909090" stroke="#1e1e1e" stroke-width="1.0"/>
<circle cx="652.2" cy="722.4" r="2.65" fill="#909090" stroke="#1e1e1e" stroke-width="1.0"/>
<circle cx="622.2" cy="758.2" r="4.6" fill="#e8e8e8" stroke="#111" stroke-width="1.3"/>
<circle cx="641.7" cy="702.9" r="2.65" fill="#909090" stroke="#1e1e1e" stroke-width="1.0"/>
<circle cx="644.0" cy="641.0" r="2.65" fill="#909090" stroke="#1e1e1e" stroke-width="1.0"/>
<circle cx="636.1" cy="569.5" r="2.65" fill="#909090" stroke="#1e1e1e" stroke-width="1.0"/>
<circle cx="648.0" cy="656.9" r="2.65" fill="#909090" stroke="#1e1e1e" stroke-width="1.0"/>
<circle cx="652.2" cy="585.5" r="2.65" fill="#909090" stroke="#1e1e1e" stroke-width="1.0"/>
<circle cx="639.7" cy="579.0" r="2.65" fill="#909090" stroke="#1e1e1e" stroke-width="1.0"/>
<circle cx="560.2" cy="437.5" r="2.65" fill="#909090" stroke="#1e1e1e" stroke-width="1.0"/>
<circle cx="655.2" cy="622.9" r="2.65" fill="#909090" stroke="#1e1e1e" stroke-width="1.0"/>
<circle cx="589.4" cy="769.9" r="4.6" fill="#e8e8e8" stroke="#111" stroke-width="1.3"/>
<circle cx="620.0" cy="775.7" r="2.65" fill="#909090" stroke="#1e1e1e" stroke-width="1.0"/>
<circle cx="663.8" cy="516.9" r="2.65" fill="#909090" stroke="#1e1e1e" stroke-width="1.0"/>
<circle cx="618.9" cy="628.4" r="2.65" fill="#909090" stroke="#1e1e1e" stroke-width="1.0"/>
<circle cx="602.5" cy="734.1" r="4.6" fill="#e8e8e8" stroke="#111" stroke-width="1.3"/>
<circle cx="658.2" cy="650.4" r="2.65" fill="#909090" stroke="#1e1e1e" stroke-width="1.0"/>
<circle cx="628.8" cy="758.2" r="2.65" fill="#909090" stroke="#1e1e1e" stroke-width="1.0"/>
<circle cx="603.2" cy="722.4" r="4.6" fill="#e8e8e8" stroke="#111" stroke-width="1.3"/>
<circle cx="660.9" cy="578.2" r="2.65" fill="#909090" stroke="#1e1e1e" stroke-width="1.0"/>
<circle cx="560.5" cy="764.7" r="4.6" fill="#e8e8e8" stroke="#111" stroke-width="1.3"/>
<circle cx="655.9" cy="674.4" r="2.65" fill="#909090" stroke="#1e1e1e" stroke-width="1.0"/>
<circle cx="575.1" cy="795.4" r="4.6" fill="#e8e8e8" stroke="#111" stroke-width="1.3"/>
<circle cx="657.3" cy="549.0" r="2.65" fill="#909090" stroke="#1e1e1e" stroke-width="1.0"/>
<circle cx="631.0" cy="563.6" r="2.65" fill="#909090" stroke="#1e1e1e" stroke-width="1.0"/>
<circle cx="654.3" cy="507.7" r="2.65" fill="#909090" stroke="#1e1e1e" stroke-width="1.0"/>
<circle cx="631.7" cy="753.8" r="2.65" fill="#909090" stroke="#1e1e1e" stroke-width="1.0"/>
<circle cx="616.4" cy="808.7" r="4.6" fill="#e8e8e8" stroke="#111" stroke-width="1.3"/>
<circle cx="647.8" cy="728.2" r="2.65" fill="#909090" stroke="#1e1e1e" stroke-width="1.0"/>
<circle cx="669.4" cy="487.2" r="2.65" fill="#909090" stroke="#1e1e1e" stroke-width="1.0"/>
<circle cx="623.2" cy="677.2" r="2.65" fill="#909090" stroke="#1e1e1e" stroke-width="1.0"/>
<circle cx="668.2" cy="588.5" r="2.65" fill="#909090" stroke="#1e1e1e" stroke-width="1.0"/>
<circle cx="629.7" cy="709.4" r="2.65" fill="#909090" stroke="#1e1e1e" stroke-width="1.0"/>
<circle cx="622.7" cy="646.0" r="2.65" fill="#909090" stroke="#1e1e1e" stroke-width="1.0"/>
<circle cx="655.1" cy="573.1" r="2.65" fill="#909090" stroke="#1e1e1e" stroke-width="1.0"/>
<circle cx="603.2" cy="770.6" r="4.6" fill="#e8e8e8" stroke="#111" stroke-width="1.3"/>
<circle cx="669.7" cy="475.9" r="2.65" fill="#909090" stroke="#1e1e1e" stroke-width="1.0"/>
<circle cx="570.7" cy="641.9" r="4.6" fill="#e8e8e8" stroke="#111" stroke-width="1.3"/>
<circle cx="658.0" cy="745.8" r="2.65" fill="#909090" stroke="#1e1e1e" stroke-width="1.0"/>
<circle cx="640.5" cy="724.6" r="2.65" fill="#909090" stroke="#1e1e1e" stroke-width="1.0"/>
<circle cx="639.2" cy="669.2" r="2.65" fill="#909090" stroke="#1e1e1e" stroke-width="1.0"/>
<circle cx="624.1" cy="580.9" r="4.6" fill="#e8e8e8" stroke="#111" stroke-width="1.3"/>
<circle cx="654.5" cy="636.4" r="2.65" fill="#909090" stroke="#1e1e1e" stroke-width="1.0"/>
<circle cx="580.9" cy="783.0" r="4.6" fill="#e8e8e8" stroke="#111" stroke-width="1.3"/>
<circle cx="583.1" cy="658.7" r="4.6" fill="#e8e8e8" stroke="#111" stroke-width="1.3"/>
<circle cx="654.1" cy="657.0" r="2.65" fill="#909090" stroke="#1e1e1e" stroke-width="1.0"/>
<circle cx="609.1" cy="711.5" r="4.6" fill="#e8e8e8" stroke="#111" stroke-width="1.3"/>
<circle cx="644.9" cy="772.8" r="2.65" fill="#909090" stroke="#1e1e1e" stroke-width="1.0"/>
<circle cx="609.1" cy="579.0" r="2.65" fill="#909090" stroke="#1e1e1e" stroke-width="1.0"/>
<circle cx="635.7" cy="673.7" r="2.65" fill="#909090" stroke="#1e1e1e" stroke-width="1.0"/>
<circle cx="599.6" cy="666.0" r="4.6" fill="#e8e8e8" stroke="#111" stroke-width="1.3"/>
<circle cx="646.3" cy="668.2" r="2.65" fill="#909090" stroke="#1e1e1e" stroke-width="1.0"/>
<circle cx="617.1" cy="703.2" r="4.6" fill="#e8e8e8" stroke="#111" stroke-width="1.3"/>
<circle cx="651.5" cy="698.4" r="2.65" fill="#909090" stroke="#1e1e1e" stroke-width="1.0"/>
<circle cx="654.2" cy="647.6" r="2.65" fill="#909090" stroke="#1e1e1e" stroke-width="1.0"/>
<circle cx="631.0" cy="576.0" r="2.65" fill="#909090" stroke="#1e1e1e" stroke-width="1.0"/>
<circle cx="634.1" cy="619.2" r="2.65" fill="#909090" stroke="#1e1e1e" stroke-width="1.0"/>
<circle cx="670.6" cy="632.8" r="2.65" fill="#909090" stroke="#1e1e1e" stroke-width="1.0"/>
<circle cx="586.5" cy="734.1" r="4.6" fill="#e8e8e8" stroke="#111" stroke-width="1.3"/>
<circle cx="599.3" cy="695.4" r="2.65" fill="#909090" stroke="#1e1e1e" stroke-width="1.0"/>
<circle cx="629.4" cy="618.6" r="2.65" fill="#909090" stroke="#1e1e1e" stroke-width="1.0"/>
<circle cx="623.0" cy="704.6" r="2.65" fill="#909090" stroke="#1e1e1e" stroke-width="1.0"/>
<circle cx="635.0" cy="664.2" r="2.65" fill="#909090" stroke="#1e1e1e" stroke-width="1.0"/>
<circle cx="565.6" cy="672.6" r="4.6" fill="#e8e8e8" stroke="#111" stroke-width="1.3"/>
<circle cx="651.3" cy="651.1" r="2.65" fill="#909090" stroke="#1e1e1e" stroke-width="1.0"/>
<circle cx="635.4" cy="636.1" r="4.6" fill="#e8e8e8" stroke="#111" stroke-width="1.3"/>
<circle cx="592.2" cy="615.1" r="2.65" fill="#909090" stroke="#1e1e1e" stroke-width="1.0"/>
<circle cx="582.4" cy="720.2" r="4.6" fill="#e8e8e8" stroke="#111" stroke-width="1.3"/>
<circle cx="645.6" cy="704.0" r="2.65" fill="#909090" stroke="#1e1e1e" stroke-width="1.0"/>
<circle cx="642.4" cy="654.6" r="2.65" fill="#909090" stroke="#1e1e1e" stroke-width="1.0"/>
<circle cx="513.7" cy="825.8" r="4.6" fill="#e8e8e8" stroke="#111" stroke-width="1.3"/>
<circle cx="642.7" cy="687.7" r="2.65" fill="#909090" stroke="#1e1e1e" stroke-width="1.0"/>
<circle cx="658.1" cy="708.4" r="2.65" fill="#909090" stroke="#1e1e1e" stroke-width="1.0"/>
<circle cx="589.4" cy="715.1" r="4.6" fill="#e8e8e8" stroke="#111" stroke-width="1.3"/>
<circle cx="567.8" cy="807.1" r="4.6" fill="#e8e8e8" stroke="#111" stroke-width="1.3"/>
<circle cx="627.3" cy="749.4" r="2.65" fill="#909090" stroke="#1e1e1e" stroke-width="1.0"/>
<circle cx="626.2" cy="660.3" r="2.65" fill="#909090" stroke="#1e1e1e" stroke-width="1.0"/>
<circle cx="582.4" cy="647.8" r="4.6" fill="#e8e8e8" stroke="#111" stroke-width="1.3"/>
<circle cx="581.6" cy="831.4" r="4.6" fill="#e8e8e8" stroke="#111" stroke-width="1.3"/>
<circle cx="579.4" cy="838.2" r="4.6" fill="#e8e8e8" stroke="#111" stroke-width="1.3"/>
<circle cx="646.3" cy="711.5" r="2.65" fill="#909090" stroke="#1e1e1e" stroke-width="1.0"/>
<circle cx="635.4" cy="484.3" r="2.65" fill="#909090" stroke="#1e1e1e" stroke-width="1.0"/>
<circle cx="590.8" cy="832.1" r="4.6" fill="#e8e8e8" stroke="#111" stroke-width="1.3"/>
<circle cx="653.6" cy="619.7" r="2.65" fill="#909090" stroke="#1e1e1e" stroke-width="1.0"/>
<circle cx="658.7" cy="513.1" r="4.6" fill="#e8e8e8" stroke="#111" stroke-width="1.3"/>
<circle cx="634.6" cy="758.2" r="2.65" fill="#909090" stroke="#1e1e1e" stroke-width="1.0"/>
<circle cx="640.7" cy="664.8" r="2.65" fill="#909090" stroke="#1e1e1e" stroke-width="1.0"/>
<circle cx="639.6" cy="678.9" r="2.65" fill="#909090" stroke="#1e1e1e" stroke-width="1.0"/>
<circle cx="633.5" cy="669.6" r="2.65" fill="#909090" stroke="#1e1e1e" stroke-width="1.0"/>
<circle cx="571.4" cy="648.5" r="4.6" fill="#e8e8e8" stroke="#111" stroke-width="1.3"/>
<circle cx="645.6" cy="661.3" r="2.65" fill="#909090" stroke="#1e1e1e" stroke-width="1.0"/>
<circle cx="644.9" cy="530.1" r="2.65" fill="#909090" stroke="#1e1e1e" stroke-width="1.0"/>
<circle cx="604.0" cy="776.4" r="4.6" fill="#e8e8e8" stroke="#111" stroke-width="1.3"/>
<circle cx="640.5" cy="733.4" r="2.65" fill="#909090" stroke="#1e1e1e" stroke-width="1.0"/>
<circle cx="573.6" cy="862.7" r="4.6" fill="#e8e8e8" stroke="#111" stroke-width="1.3"/>
<circle cx="632.1" cy="699.4" r="2.65" fill="#909090" stroke="#1e1e1e" stroke-width="1.0"/>
<circle cx="613.5" cy="586.3" r="2.65" fill="#909090" stroke="#1e1e1e" stroke-width="1.0"/>
<circle cx="640.3" cy="674.3" r="2.65" fill="#909090" stroke="#1e1e1e" stroke-width="1.0"/>
<circle cx="670.2" cy="623.4" r="2.65" fill="#909090" stroke="#1e1e1e" stroke-width="1.0"/>
<circle cx="660.9" cy="548.3" r="2.65" fill="#909090" stroke="#1e1e1e" stroke-width="1.0"/>
<circle cx="598.1" cy="715.8" r="4.6" fill="#e8e8e8" stroke="#111" stroke-width="1.3"/>
<circle cx="579.4" cy="808.7" r="4.6" fill="#e8e8e8" stroke="#111" stroke-width="1.3"/>
<circle cx="631.5" cy="656.2" r="2.65" fill="#909090" stroke="#1e1e1e" stroke-width="1.0"/>
<circle cx="573.6" cy="678.4" r="4.6" fill="#e8e8e8" stroke="#111" stroke-width="1.3"/>
<circle cx="583.1" cy="616.4" r="2.65" fill="#909090" stroke="#1e1e1e" stroke-width="1.0"/>
<circle cx="659.7" cy="656.2" r="2.65" fill="#909090" stroke="#1e1e1e" stroke-width="1.0"/>
<circle cx="551.7" cy="795.4" r="4.6" fill="#e8e8e8" stroke="#111" stroke-width="1.3"/>
<circle cx="633.8" cy="661.2" r="2.65" fill="#909090" stroke="#1e1e1e" stroke-width="1.0"/>
<circle cx="604.7" cy="660.2" r="4.6" fill="#e8e8e8" stroke="#111" stroke-width="1.3"/>
<circle cx="659.8" cy="670.0" r="2.65" fill="#909090" stroke="#1e1e1e" stroke-width="1.0"/>
<circle cx="610.5" cy="685.0" r="4.6" fill="#e8e8e8" stroke="#111" stroke-width="1.3"/>
<circle cx="660.7" cy="696.5" r="2.65" fill="#909090" stroke="#1e1e1e" stroke-width="1.0"/>
<circle cx="666.9" cy="648.0" r="2.65" fill="#909090" stroke="#1e1e1e" stroke-width="1.0"/>
<circle cx="643.4" cy="570.2" r="2.65" fill="#909090" stroke="#1e1e1e" stroke-width="1.0"/>
<circle cx="569.9" cy="679.2" r="4.6" fill="#e8e8e8" stroke="#111" stroke-width="1.3"/>
<circle cx="578.0" cy="729.0" r="4.6" fill="#e8e8e8" stroke="#111" stroke-width="1.3"/>
<circle cx="587.9" cy="512.4" r="4.6" fill="#e8e8e8" stroke="#111" stroke-width="1.3"/>
<circle cx="620.8" cy="728.2" r="4.6" fill="#e8e8e8" stroke="#111" stroke-width="1.3"/>
<circle cx="651.9" cy="624.6" r="2.65" fill="#909090" stroke="#1e1e1e" stroke-width="1.0"/>
<circle cx="663.0" cy="643.1" r="2.65" fill="#909090" stroke="#1e1e1e" stroke-width="1.0"/>
<circle cx="617.1" cy="580.4" r="2.65" fill="#909090" stroke="#1e1e1e" stroke-width="1.0"/>
<circle cx="670.4" cy="545.4" r="2.65" fill="#909090" stroke="#1e1e1e" stroke-width="1.0"/>
<circle cx="642.6" cy="636.9" r="2.65" fill="#909090" stroke="#1e1e1e" stroke-width="1.0"/>
<circle cx="639.1" cy="700.3" r="2.65" fill="#909090" stroke="#1e1e1e" stroke-width="1.0"/>
<circle cx="626.2" cy="562.2" r="4.6" fill="#e8e8e8" stroke="#111" stroke-width="1.3"/>
<circle cx="640.0" cy="680.9" r="2.65" fill="#909090" stroke="#1e1e1e" stroke-width="1.0"/>
<circle cx="599.6" cy="562.6" r="4.6" fill="#e8e8e8" stroke="#111" stroke-width="1.3"/>
<circle cx="585.3" cy="825.5" r="4.6" fill="#e8e8e8" stroke="#111" stroke-width="1.3"/>
<circle cx="643.8" cy="614.4" r="2.65" fill="#909090" stroke="#1e1e1e" stroke-width="1.0"/>
<circle cx="587.2" cy="825.5" r="4.6" fill="#e8e8e8" stroke="#111" stroke-width="1.3"/>
<circle cx="583.1" cy="734.1" r="4.6" fill="#e8e8e8" stroke="#111" stroke-width="1.3"/>
<circle cx="663.4" cy="700.3" r="2.65" fill="#909090" stroke="#1e1e1e" stroke-width="1.0"/>
<circle cx="651.4" cy="511.6" r="2.65" fill="#909090" stroke="#1e1e1e" stroke-width="1.0"/>
<circle cx="639.0" cy="748.0" r="2.65" fill="#909090" stroke="#1e1e1e" stroke-width="1.0"/>
<circle cx="666.1" cy="637.8" r="2.65" fill="#909090" stroke="#1e1e1e" stroke-width="1.0"/>
<circle cx="651.6" cy="704.6" r="2.65" fill="#909090" stroke="#1e1e1e" stroke-width="1.0"/>
<circle cx="629.1" cy="650.8" r="2.65" fill="#909090" stroke="#1e1e1e" stroke-width="1.0"/>
<circle cx="598.9" cy="806.4" r="4.6" fill="#e8e8e8" stroke="#111" stroke-width="1.3"/>
<circle cx="593.8" cy="758.2" r="4.6" fill="#e8e8e8" stroke="#111" stroke-width="1.3"/>
<circle cx="633.5" cy="691.5" r="2.65" fill="#909090" stroke="#1e1e1e" stroke-width="1.0"/>
<circle cx="559.7" cy="710.7" r="4.6" fill="#e8e8e8" stroke="#111" stroke-width="1.3"/>
<circle cx="639.0" cy="604.5" r="2.65" fill="#909090" stroke="#1e1e1e" stroke-width="1.0"/>
<circle cx="620.0" cy="485.6" r="2.65" fill="#909090" stroke="#1e1e1e" stroke-width="1.0"/>
<circle cx="657.5" cy="633.4" r="2.65" fill="#909090" stroke="#1e1e1e" stroke-width="1.0"/>
<circle cx="644.4" cy="673.7" r="2.65" fill="#909090" stroke="#1e1e1e" stroke-width="1.0"/>
<circle cx="651.8" cy="691.4" r="2.65" fill="#909090" stroke="#1e1e1e" stroke-width="1.0"/>
<circle cx="662.4" cy="524.9" r="2.65" fill="#909090" stroke="#1e1e1e" stroke-width="1.0"/>
<circle cx="665.3" cy="496.3" r="2.65" fill="#909090" stroke="#1e1e1e" stroke-width="1.0"/>
<circle cx="669.7" cy="685.0" r="4.6" fill="#e8e8e8" stroke="#111" stroke-width="1.3"/>
<circle cx="659.5" cy="572.4" r="2.65" fill="#909090" stroke="#1e1e1e" stroke-width="1.0"/>
<circle cx="619.6" cy="661.5" r="2.65" fill="#909090" stroke="#1e1e1e" stroke-width="1.0"/>
<circle cx="630.3" cy="731.9" r="2.65" fill="#909090" stroke="#1e1e1e" stroke-width="1.0"/>
<circle cx="608.4" cy="647.8" r="4.6" fill="#e8e8e8" stroke="#111" stroke-width="1.3"/>
<circle cx="605.4" cy="696.7" r="4.6" fill="#e8e8e8" stroke="#111" stroke-width="1.3"/>
<circle cx="668.9" cy="563.6" r="2.65" fill="#909090" stroke="#1e1e1e" stroke-width="1.0"/>
<circle cx="623.7" cy="771.3" r="2.65" fill="#909090" stroke="#1e1e1e" stroke-width="1.0"/>
<circle cx="658.0" cy="523.5" r="2.65" fill="#909090" stroke="#1e1e1e" stroke-width="1.0"/>
<circle cx="633.2" cy="727.5" r="2.65" fill="#909090" stroke="#1e1e1e" stroke-width="1.0"/>
<circle cx="670.4" cy="737.7" r="2.65" fill="#909090" stroke="#1e1e1e" stroke-width="1.0"/>
<circle cx="576.5" cy="703.2" r="4.6" fill="#e8e8e8" stroke="#111" stroke-width="1.3"/>
<circle cx="626.6" cy="641.9" r="4.6" fill="#e8e8e8" stroke="#111" stroke-width="1.3"/>
<circle cx="544.4" cy="703.2" r="4.6" fill="#e8e8e8" stroke="#111" stroke-width="1.3"/>
<circle cx="660.2" cy="532.2" r="2.65" fill="#909090" stroke="#1e1e1e" stroke-width="1.0"/>
<circle cx="635.5" cy="678.6" r="2.65" fill="#909090" stroke="#1e1e1e" stroke-width="1.0"/>
<circle cx="587.9" cy="671.9" r="4.6" fill="#e8e8e8" stroke="#111" stroke-width="1.3"/>
<circle cx="583.1" cy="623.7" r="2.65" fill="#909090" stroke="#1e1e1e" stroke-width="1.0"/>
<circle cx="627.3" cy="715.8" r="4.6" fill="#e8e8e8" stroke="#111" stroke-width="1.3"/>
<circle cx="663.8" cy="565.1" r="2.65" fill="#909090" stroke="#1e1e1e" stroke-width="1.0"/>
<circle cx="672.0" cy="619.8" r="2.65" fill="#909090" stroke="#1e1e1e" stroke-width="1.0"/>
<circle cx="631.4" cy="695.1" r="2.65" fill="#909090" stroke="#1e1e1e" stroke-width="1.0"/>
<circle cx="606.2" cy="752.3" r="4.6" fill="#e8e8e8" stroke="#111" stroke-width="1.3"/>
<circle cx="665.1" cy="616.1" r="2.65" fill="#909090" stroke="#1e1e1e" stroke-width="1.0"/>
<circle cx="666.0" cy="586.3" r="2.65" fill="#909090" stroke="#1e1e1e" stroke-width="1.0"/>
<circle cx="650.0" cy="531.5" r="2.65" fill="#909090" stroke="#1e1e1e" stroke-width="1.0"/>
<circle cx="570.4" cy="850.3" r="4.6" fill="#e8e8e8" stroke="#111" stroke-width="1.3"/>
<circle cx="655.8" cy="486.8" r="2.65" fill="#909090" stroke="#1e1e1e" stroke-width="1.0"/>
<circle cx="538.6" cy="685.0" r="4.6" fill="#e8e8e8" stroke="#111" stroke-width="1.3"/>
<circle cx="640.4" cy="623.4" r="2.65" fill="#909090" stroke="#1e1e1e" stroke-width="1.0"/>
<circle cx="581.6" cy="801.2" r="4.6" fill="#e8e8e8" stroke="#111" stroke-width="1.3"/>
<circle cx="575.1" cy="770.6" r="4.6" fill="#e8e8e8" stroke="#111" stroke-width="1.3"/>
<circle cx="662.4" cy="715.8" r="2.65" fill="#909090" stroke="#1e1e1e" stroke-width="1.0"/>
<circle cx="665.9" cy="685.6" r="2.65" fill="#909090" stroke="#1e1e1e" stroke-width="1.0"/>
<circle cx="649.2" cy="550.2" r="2.65" fill="#909090" stroke="#1e1e1e" stroke-width="1.0"/>
<circle cx="601.1" cy="758.9" r="4.6" fill="#e8e8e8" stroke="#111" stroke-width="1.3"/>
<circle cx="579.4" cy="764.7" r="4.6" fill="#e8e8e8" stroke="#111" stroke-width="1.3"/>
<circle cx="608.4" cy="610.4" r="4.6" fill="#e8e8e8" stroke="#111" stroke-width="1.3"/>
<circle cx="667.6" cy="667.7" r="2.65" fill="#909090" stroke="#1e1e1e" stroke-width="1.0"/>
<circle cx="624.4" cy="734.1" r="2.65" fill="#909090" stroke="#1e1e1e" stroke-width="1.0"/>
<circle cx="628.6" cy="669.8" r="2.65" fill="#909090" stroke="#1e1e1e" stroke-width="1.0"/>
<circle cx="589.2" cy="618.0" r="2.65" fill="#909090" stroke="#1e1e1e" stroke-width="1.0"/>
<circle cx="646.2" cy="650.3" r="2.65" fill="#909090" stroke="#1e1e1e" stroke-width="1.0"/>
<circle cx="617.1" cy="734.8" r="2.65" fill="#909090" stroke="#1e1e1e" stroke-width="1.0"/>
<circle cx="664.6" cy="606.0" r="2.65" fill="#909090" stroke="#1e1e1e" stroke-width="1.0"/>
<circle cx="572.9" cy="734.1" r="4.6" fill="#e8e8e8" stroke="#111" stroke-width="1.3"/>
<circle cx="598.6" cy="550.2" r="4.6" fill="#e8e8e8" stroke="#111" stroke-width="1.3"/>
<circle cx="637.6" cy="766.2" r="2.65" fill="#909090" stroke="#1e1e1e" stroke-width="1.0"/>
<circle cx="621.0" cy="700.7" r="2.65" fill="#909090" stroke="#1e1e1e" stroke-width="1.0"/>
<circle cx="628.8" cy="584.1" r="2.65" fill="#909090" stroke="#1e1e1e" stroke-width="1.0"/>
<circle cx="624.4" cy="825.8" r="2.65" fill="#909090" stroke="#1e1e1e" stroke-width="1.0"/>
<circle cx="651.4" cy="494.8" r="2.65" fill="#909090" stroke="#1e1e1e" stroke-width="1.0"/>
<circle cx="659.8" cy="646.3" r="2.65" fill="#909090" stroke="#1e1e1e" stroke-width="1.0"/>
<circle cx="590.8" cy="432.4" r="2.65" fill="#909090" stroke="#1e1e1e" stroke-width="1.0"/>
<circle cx="598.1" cy="745.8" r="4.6" fill="#e8e8e8" stroke="#111" stroke-width="1.3"/>
<circle cx="637.6" cy="781.5" r="2.65" fill="#909090" stroke="#1e1e1e" stroke-width="1.0"/>
<circle cx="663.5" cy="623.6" r="2.65" fill="#909090" stroke="#1e1e1e" stroke-width="1.0"/>
<circle cx="632.6" cy="622.5" r="2.65" fill="#909090" stroke="#1e1e1e" stroke-width="1.0"/>
<circle cx="498.4" cy="813.8" r="4.6" fill="#e8e8e8" stroke="#111" stroke-width="1.3"/>
<circle cx="577.2" cy="789.6" r="4.6" fill="#e8e8e8" stroke="#111" stroke-width="1.3"/>
<circle cx="644.3" cy="676.8" r="2.65" fill="#909090" stroke="#1e1e1e" stroke-width="1.0"/>
<circle cx="645.6" cy="456.9" r="2.65" fill="#909090" stroke="#1e1e1e" stroke-width="1.0"/>
<circle cx="653.4" cy="633.2" r="2.65" fill="#909090" stroke="#1e1e1e" stroke-width="1.0"/>
<circle cx="618.6" cy="746.5" r="4.6" fill="#e8e8e8" stroke="#111" stroke-width="1.3"/>
<circle cx="660.8" cy="618.7" r="2.65" fill="#909090" stroke="#1e1e1e" stroke-width="1.0"/>
<circle cx="560.5" cy="728.2" r="4.6" fill="#e8e8e8" stroke="#111" stroke-width="1.3"/>
<circle cx="656.5" cy="780.1" r="2.65" fill="#909090" stroke="#1e1e1e" stroke-width="1.0"/>
<circle cx="637.6" cy="611.8" r="2.65" fill="#909090" stroke="#1e1e1e" stroke-width="1.0"/>
<circle cx="628.1" cy="825.8" r="2.65" fill="#909090" stroke="#1e1e1e" stroke-width="1.0"/>
<circle cx="612.0" cy="584.1" r="2.65" fill="#909090" stroke="#1e1e1e" stroke-width="1.0"/>
<circle cx="607.6" cy="672.6" r="4.6" fill="#e8e8e8" stroke="#111" stroke-width="1.3"/>
<circle cx="636.6" cy="656.0" r="2.65" fill="#909090" stroke="#1e1e1e" stroke-width="1.0"/>
<circle cx="666.0" cy="737.0" r="2.65" fill="#909090" stroke="#1e1e1e" stroke-width="1.0"/>
<circle cx="634.6" cy="590.6" r="2.65" fill="#909090" stroke="#1e1e1e" stroke-width="1.0"/>
<circle cx="567.0" cy="703.2" r="4.6" fill="#e8e8e8" stroke="#111" stroke-width="1.3"/>
<circle cx="586.5" cy="660.2" r="4.6" fill="#e8e8e8" stroke="#111" stroke-width="1.3"/>
<circle cx="668.2" cy="656.4" r="2.65" fill="#909090" stroke="#1e1e1e" stroke-width="1.0"/>
<circle cx="556.1" cy="696.7" r="4.6" fill="#e8e8e8" stroke="#111" stroke-width="1.3"/>
<circle cx="592.3" cy="721.7" r="4.6" fill="#e8e8e8" stroke="#111" stroke-width="1.3"/>
<circle cx="647.8" cy="619.7" r="2.65" fill="#909090" stroke="#1e1e1e" stroke-width="1.0"/>
<circle cx="579.4" cy="696.7" r="4.6" fill="#e8e8e8" stroke="#111" stroke-width="1.3"/>
<circle cx="666.8" cy="748.0" r="2.65" fill="#909090" stroke="#1e1e1e" stroke-width="1.0"/>
<circle cx="658.5" cy="613.7" r="2.65" fill="#909090" stroke="#1e1e1e" stroke-width="1.0"/>
<circle cx="624.4" cy="672.6" r="4.6" fill="#e8e8e8" stroke="#111" stroke-width="1.3"/>
<circle cx="627.3" cy="774.2" r="2.65" fill="#909090" stroke="#1e1e1e" stroke-width="1.0"/>
<circle cx="638.7" cy="691.6" r="2.65" fill="#909090" stroke="#1e1e1e" stroke-width="1.0"/>
<circle cx="510.5" cy="860.8" r="2.65" fill="#909090" stroke="#1e1e1e" stroke-width="1.0"/>
<circle cx="658.2" cy="686.4" r="2.65" fill="#909090" stroke="#1e1e1e" stroke-width="1.0"/>
<circle cx="655.6" cy="690.7" r="2.65" fill="#909090" stroke="#1e1e1e" stroke-width="1.0"/>
<circle cx="639.7" cy="716.6" r="4.6" fill="#e8e8e8" stroke="#111" stroke-width="1.3"/>
<circle cx="575.1" cy="690.8" r="4.6" fill="#e8e8e8" stroke="#111" stroke-width="1.3"/>
<circle cx="632.4" cy="792.5" r="2.65" fill="#909090" stroke="#1e1e1e" stroke-width="1.0"/>
<circle cx="669.7" cy="512.4" r="2.65" fill="#909090" stroke="#1e1e1e" stroke-width="1.0"/>
<circle cx="564.8" cy="813.8" r="4.6" fill="#e8e8e8" stroke="#111" stroke-width="1.3"/>
<circle cx="659.5" cy="565.1" r="2.65" fill="#909090" stroke="#1e1e1e" stroke-width="1.0"/>
<circle cx="637.6" cy="738.5" r="2.65" fill="#909090" stroke="#1e1e1e" stroke-width="1.0"/>
<circle cx="669.7" cy="572.4" r="2.65" fill="#909090" stroke="#1e1e1e" stroke-width="1.0"/>
<circle cx="650.0" cy="637.1" r="2.65" fill="#909090" stroke="#1e1e1e" stroke-width="1.0"/>
<circle cx="667.3" cy="620.6" r="2.65" fill="#909090" stroke="#1e1e1e" stroke-width="1.0"/>
<circle cx="656.8" cy="459.8" r="2.65" fill="#909090" stroke="#1e1e1e" stroke-width="1.0"/>
<circle cx="559.7" cy="690.8" r="4.6" fill="#e8e8e8" stroke="#111" stroke-width="1.3"/>
<circle cx="642.3" cy="627.6" r="2.65" fill="#909090" stroke="#1e1e1e" stroke-width="1.0"/>
<circle cx="653.6" cy="717.3" r="2.65" fill="#909090" stroke="#1e1e1e" stroke-width="1.0"/>
<circle cx="631.7" cy="764.7" r="2.65" fill="#909090" stroke="#1e1e1e" stroke-width="1.0"/>
<circle cx="665.3" cy="758.2" r="2.65" fill="#909090" stroke="#1e1e1e" stroke-width="1.0"/>
<circle cx="664.6" cy="581.2" r="2.65" fill="#909090" stroke="#1e1e1e" stroke-width="1.0"/>
<circle cx="585.7" cy="647.0" r="4.6" fill="#e8e8e8" stroke="#111" stroke-width="1.3"/>
<circle cx="664.6" cy="764.7" r="2.65" fill="#909090" stroke="#1e1e1e" stroke-width="1.0"/>
<circle cx="647.8" cy="743.6" r="2.65" fill="#909090" stroke="#1e1e1e" stroke-width="1.0"/>
<circle cx="627.3" cy="588.5" r="2.65" fill="#909090" stroke="#1e1e1e" stroke-width="1.0"/>
<circle cx="588.6" cy="813.8" r="4.6" fill="#e8e8e8" stroke="#111" stroke-width="1.3"/>
<circle cx="628.3" cy="699.2" r="2.65" fill="#909090" stroke="#1e1e1e" stroke-width="1.0"/>
<circle cx="587.9" cy="635.4" r="4.6" fill="#e8e8e8" stroke="#111" stroke-width="1.3"/>
<circle cx="615.7" cy="806.4" r="4.6" fill="#e8e8e8" stroke="#111" stroke-width="1.3"/>
<circle cx="661.9" cy="673.0" r="2.65" fill="#909090" stroke="#1e1e1e" stroke-width="1.0"/>
<circle cx="668.9" cy="578.2" r="2.65" fill="#909090" stroke="#1e1e1e" stroke-width="1.0"/>
<circle cx="644.9" cy="756.7" r="2.65" fill="#909090" stroke="#1e1e1e" stroke-width="1.0"/>
<circle cx="637.6" cy="808.7" r="4.6" fill="#e8e8e8" stroke="#111" stroke-width="1.3"/>
<circle cx="636.4" cy="686.9" r="2.65" fill="#909090" stroke="#1e1e1e" stroke-width="1.0"/>
<circle cx="639.4" cy="615.7" r="2.65" fill="#909090" stroke="#1e1e1e" stroke-width="1.0"/>
<circle cx="632.3" cy="615.0" r="2.65" fill="#909090" stroke="#1e1e1e" stroke-width="1.0"/>
<circle cx="651.8" cy="642.8" r="2.65" fill="#909090" stroke="#1e1e1e" stroke-width="1.0"/>
<circle cx="659.8" cy="637.8" r="2.65" fill="#909090" stroke="#1e1e1e" stroke-width="1.0"/>
<circle cx="652.2" cy="439.6" r="2.65" fill="#909090" stroke="#1e1e1e" stroke-width="1.0"/>
<circle cx="574.8" cy="458.6" r="2.65" fill="#909090" stroke="#1e1e1e" stroke-width="1.0"/>
<circle cx="668.2" cy="611.1" r="2.65" fill="#909090" stroke="#1e1e1e" stroke-width="1.0"/>
<circle cx="613.5" cy="610.4" r="4.6" fill="#e8e8e8" stroke="#111" stroke-width="1.3"/>
<circle cx="668.2" cy="711.2" r="2.65" fill="#909090" stroke="#1e1e1e" stroke-width="1.0"/>
<circle cx="583.1" cy="635.4" r="4.6" fill="#e8e8e8" stroke="#111" stroke-width="1.3"/>
<circle cx="655.1" cy="568.0" r="2.65" fill="#909090" stroke="#1e1e1e" stroke-width="1.0"/>
<circle cx="563.4" cy="708.4" r="4.6" fill="#e8e8e8" stroke="#111" stroke-width="1.3"/>
<circle cx="567.0" cy="770.6" r="4.6" fill="#e8e8e8" stroke="#111" stroke-width="1.3"/>
<circle cx="616.6" cy="623.0" r="2.65" fill="#909090" stroke="#1e1e1e" stroke-width="1.0"/>
<circle cx="628.6" cy="681.9" r="2.65" fill="#909090" stroke="#1e1e1e" stroke-width="1.0"/>
<circle cx="639.0" cy="711.5" r="4.6" fill="#e8e8e8" stroke="#111" stroke-width="1.3"/>
<circle cx="655.9" cy="641.1" r="2.65" fill="#909090" stroke="#1e1e1e" stroke-width="1.0"/>
<circle cx="668.9" cy="470.7" r="2.65" fill="#909090" stroke="#1e1e1e" stroke-width="1.0"/>
<circle cx="636.1" cy="823.3" r="2.65" fill="#909090" stroke="#1e1e1e" stroke-width="1.0"/>
<circle cx="656.5" cy="584.8" r="2.65" fill="#909090" stroke="#1e1e1e" stroke-width="1.0"/>
<circle cx="529.1" cy="746.5" r="4.6" fill="#e8e8e8" stroke="#111" stroke-width="1.3"/>
<circle cx="650.3" cy="660.7" r="2.65" fill="#909090" stroke="#1e1e1e" stroke-width="1.0"/>
<circle cx="643.4" cy="740.7" r="2.65" fill="#909090" stroke="#1e1e1e" stroke-width="1.0"/>
<circle cx="569.9" cy="715.8" r="4.6" fill="#e8e8e8" stroke="#111" stroke-width="1.3"/>
<circle cx="594.5" cy="598.7" r="4.6" fill="#e8e8e8" stroke="#111" stroke-width="1.3"/>
<circle cx="554.6" cy="703.2" r="4.6" fill="#e8e8e8" stroke="#111" stroke-width="1.3"/>
<circle cx="658.7" cy="544.7" r="2.65" fill="#909090" stroke="#1e1e1e" stroke-width="1.0"/>
<circle cx="629.8" cy="664.7" r="2.65" fill="#909090" stroke="#1e1e1e" stroke-width="1.0"/>
<circle cx="644.9" cy="734.8" r="2.65" fill="#909090" stroke="#1e1e1e" stroke-width="1.0"/>
<circle cx="660.2" cy="508.7" r="2.65" fill="#909090" stroke="#1e1e1e" stroke-width="1.0"/>
<circle cx="604.4" cy="839.4" r="2.65" fill="#909090" stroke="#1e1e1e" stroke-width="1.0"/>
<circle cx="589.4" cy="690.1" r="4.6" fill="#e8e8e8" stroke="#111" stroke-width="1.3"/>
<circle cx="664.4" cy="664.8" r="2.65" fill="#909090" stroke="#1e1e1e" stroke-width="1.0"/>
</g>
<rect x="488" y="415.8" width="184" height="489.49999999999994" fill="none" stroke="#111" stroke-width="2"/>
<line x1="481.5" y1="415.8" x2="488" y2="415.8" stroke="#222" stroke-width="1.2"/>
<line x1="672" y1="415.8" x2="678.5" y2="415.8" stroke="#222" stroke-width="1.2"/>
<text transform="translate(475.5,421.40000000000003) scale(1.04,1)" font-size="15.5" text-anchor="end" font-family="Liberation Sans, sans-serif" >4</text>
<line x1="481.5" y1="476.96000000000004" x2="488" y2="476.96000000000004" stroke="#222" stroke-width="1.2"/>
<line x1="672" y1="476.96000000000004" x2="678.5" y2="476.96000000000004" stroke="#222" stroke-width="1.2"/>
<text transform="translate(475.5,482.56000000000006) scale(1.04,1)" font-size="15.5" text-anchor="end" font-family="Liberation Sans, sans-serif" >5</text>
<line x1="481.5" y1="538.12" x2="488" y2="538.12" stroke="#222" stroke-width="1.2"/>
<line x1="672" y1="538.12" x2="678.5" y2="538.12" stroke="#222" stroke-width="1.2"/>
<text transform="translate(475.5,543.72) scale(1.04,1)" font-size="15.5" text-anchor="end" font-family="Liberation Sans, sans-serif" >6</text>
<line x1="481.5" y1="599.28" x2="488" y2="599.28" stroke="#222" stroke-width="1.2"/>
<line x1="672" y1="599.28" x2="678.5" y2="599.28" stroke="#222" stroke-width="1.2"/>
<text transform="translate(475.5,604.88) scale(1.04,1)" font-size="15.5" text-anchor="end" font-family="Liberation Sans, sans-serif" >7</text>
<line x1="481.5" y1="660.44" x2="488" y2="660.44" stroke="#222" stroke-width="1.2"/>
<line x1="672" y1="660.44" x2="678.5" y2="660.44" stroke="#222" stroke-width="1.2"/>
<text transform="translate(475.5,666.0400000000001) scale(1.04,1)" font-size="15.5" text-anchor="end" font-family="Liberation Sans, sans-serif" >8</text>
<line x1="481.5" y1="721.5999999999999" x2="488" y2="721.5999999999999" stroke="#222" stroke-width="1.2"/>
<line x1="672" y1="721.5999999999999" x2="678.5" y2="721.5999999999999" stroke="#222" stroke-width="1.2"/>
<text transform="translate(475.5,727.1999999999999) scale(1.04,1)" font-size="15.5" text-anchor="end" font-family="Liberation Sans, sans-serif" >9</text>
<line x1="481.5" y1="782.76" x2="488" y2="782.76" stroke="#222" stroke-width="1.2"/>
<line x1="672" y1="782.76" x2="678.5" y2="782.76" stroke="#222" stroke-width="1.2"/>
<text transform="translate(475.5,788.36) scale(1.04,1)" font-size="15.5" text-anchor="end" font-family="Liberation Sans, sans-serif" >10</text>
<line x1="481.5" y1="843.9200000000001" x2="488" y2="843.9200000000001" stroke="#222" stroke-width="1.2"/>
<line x1="672" y1="843.9200000000001" x2="678.5" y2="843.9200000000001" stroke="#222" stroke-width="1.2"/>
<text transform="translate(475.5,849.5200000000001) scale(1.04,1)" font-size="15.5" text-anchor="end" font-family="Liberation Sans, sans-serif" >11</text>
<line x1="481.5" y1="905.0799999999999" x2="488" y2="905.0799999999999" stroke="#222" stroke-width="1.2"/>
<line x1="672" y1="905.0799999999999" x2="678.5" y2="905.0799999999999" stroke="#222" stroke-width="1.2"/>
<text transform="translate(475.5,910.68) scale(1.04,1)" font-size="15.5" text-anchor="end" font-family="Liberation Sans, sans-serif" >12</text>
<line x1="518.55" y1="409.5" x2="518.55" y2="415.8" stroke="#222" stroke-width="1.2"/>
<line x1="518.55" y1="905.3" x2="518.55" y2="911.8" stroke="#222" stroke-width="1.2"/>
<text transform="translate(518.55,929) scale(1.04,1)" font-size="15.5" text-anchor="middle" font-family="Liberation Sans, sans-serif" >&#8722;1</text>
<line x1="579.8" y1="409.5" x2="579.8" y2="415.8" stroke="#222" stroke-width="1.2"/>
<line x1="579.8" y1="905.3" x2="579.8" y2="911.8" stroke="#222" stroke-width="1.2"/>
<text transform="translate(579.8,929) scale(1.04,1)" font-size="15.5" text-anchor="middle" font-family="Liberation Sans, sans-serif" >0</text>
<line x1="641.05" y1="409.5" x2="641.05" y2="415.8" stroke="#222" stroke-width="1.2"/>
<line x1="641.05" y1="905.3" x2="641.05" y2="911.8" stroke="#222" stroke-width="1.2"/>
<text transform="translate(641.05,929) scale(1.04,1)" font-size="15.5" text-anchor="middle" font-family="Liberation Sans, sans-serif" >1</text>
<text transform="translate(480,930) scale(1.04,1)" font-size="23" text-anchor="start" font-family="Liberation Sans, sans-serif" >B</text>
<text transform="translate(666,930) scale(1.04,1)" font-size="23" text-anchor="start" font-family="Liberation Sans, sans-serif" >B&#8217;</text>
<text transform="translate(598.7,951.7) scale(1.04,1)" font-size="23" text-anchor="start" font-family="Liberation Sans, sans-serif" >(km)</text>
<text transform="translate(453.7,655.3) rotate(-90) scale(1.04,1)" x="0" y="0" font-size="23" text-anchor="middle" font-family="Liberation Sans, sans-serif">Depth (km)</text>
<circle cx="300.2" cy="605.5" r="4.7" fill="#111"/>
<circle cx="276.1" cy="653.9" r="4.7" fill="#111"/>
<circle cx="295.9" cy="697" r="4.7" fill="#111"/>
<circle cx="328.7" cy="734.3" r="4.7" fill="#111"/>
<circle cx="281.3" cy="654.5" r="4.6" fill="#e8e8e8" stroke="#111" stroke-width="1.3"/>
<line x1="322.3" y1="573.2" x2="302.5" y2="602" stroke="#111" stroke-width="1"/>
<line x1="302.7" y1="632" x2="279" y2="652" stroke="#111" stroke-width="1"/>
<line x1="310.3" y1="687.1" x2="299" y2="695" stroke="#111" stroke-width="1"/>
<line x1="338.3" y1="763.2" x2="330" y2="738" stroke="#111" stroke-width="1"/>
<circle cx="573.3" cy="605.3" r="4.7" fill="#111"/>
<circle cx="622.2" cy="654.9" r="4.7" fill="#111"/>
<circle cx="585.9" cy="697.1" r="4.7" fill="#111"/>
<circle cx="561.3" cy="734.1" r="4.7" fill="#111"/>
<line x1="565.6" y1="572.4" x2="572" y2="601" stroke="#111" stroke-width="1"/>
<line x1="548.4" y1="655.3" x2="578" y2="688" stroke="#111" stroke-width="1"/>
<line x1="541.2" y1="766.3" x2="558" y2="738" stroke="#111" stroke-width="1"/>
<line x1="645" y1="779" x2="624" y2="660" stroke="#111" stroke-width="1"/>
</svg>
</body></html>
